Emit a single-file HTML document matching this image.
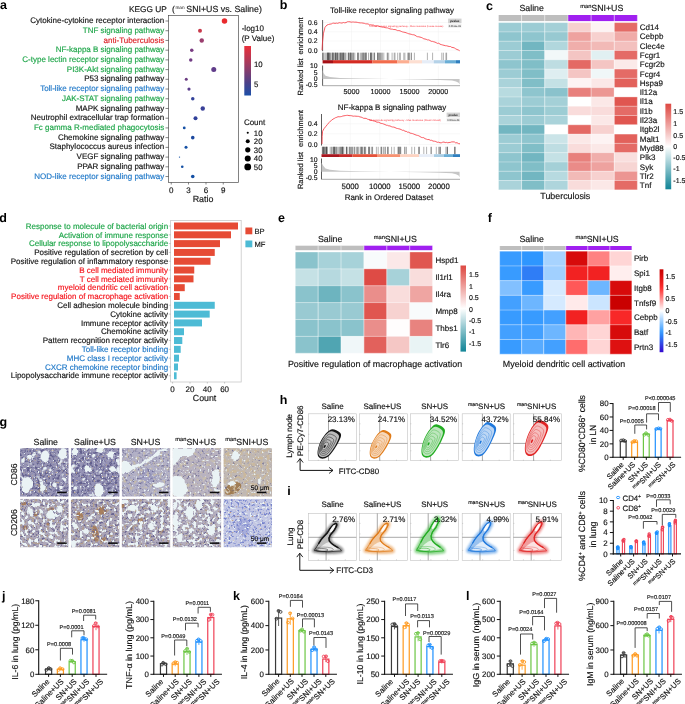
<!DOCTYPE html>
<html lang="en"><head><meta charset="utf-8"><title>Figure</title>
<style>
html,body{margin:0;padding:0;background:#fff;}
body{width:685px;height:704px;overflow:hidden;}
svg{display:block;will-change:transform;opacity:0.9999;font-family:'Liberation Sans', sans-serif;}
svg text{font-family:'Liberation Sans',sans-serif;text-rendering:geometricPrecision;stroke-width:0.16px;}
</style></head><body>
<svg width="685" height="704" viewBox="0 0 685 704">
<rect width="685" height="704" fill="#ffffff"/>
<text x="0.10" y="9.05" font-size="12.5" font-weight="bold" fill="#000">a</text>
<text x="129.00" y="11.90" font-size="8.3" fill="#141414" stroke="#141414">KEGG UP</text>
<text x="172.10" y="11.90" font-size="8.6" fill="#141414" stroke="#141414">(</text>
<text x="175.40" y="8.90" font-size="4.7" fill="#141414">man</text>
<text x="186.30" y="11.90" font-size="8.8" fill="#141414" stroke="#141414">SNI+US vs. Saline)</text>
<rect x="168.50" y="15.35" width="70.00" height="167.20" fill="none" stroke="#4d4d4d" stroke-width="0.7"/>
<text x="164.20" y="23.10" font-size="8" text-anchor="end" fill="#141414" stroke="#141414">Cytokine-cytokine receptor interaction</text>
<line x1="165.50" y1="21.00" x2="168.50" y2="21.00" stroke="#333" stroke-width="0.6"/>
<circle cx="224.50" cy="21.00" r="2.75" fill="#e92a2e"/>
<text x="164.20" y="32.82" font-size="8" text-anchor="end" fill="#1fa64a" stroke="#1fa64a">TNF signaling pathway</text>
<line x1="165.50" y1="30.72" x2="168.50" y2="30.72" stroke="#333" stroke-width="0.6"/>
<circle cx="200.00" cy="30.72" r="2.00" fill="#c93a4c"/>
<text x="164.20" y="42.54" font-size="8" text-anchor="end" fill="#dc2228" stroke="#dc2228">anti-Tuberculosis</text>
<line x1="165.50" y1="40.44" x2="168.50" y2="40.44" stroke="#333" stroke-width="0.6"/>
<circle cx="201.75" cy="40.44" r="2.20" fill="#9a3e6e"/>
<text x="164.20" y="52.26" font-size="8" text-anchor="end" fill="#1fa64a" stroke="#1fa64a">NF-kappa B signaling pathway</text>
<line x1="165.50" y1="50.16" x2="168.50" y2="50.16" stroke="#333" stroke-width="0.6"/>
<circle cx="191.75" cy="50.16" r="1.75" fill="#793c82"/>
<text x="164.20" y="61.98" font-size="8" text-anchor="end" fill="#1fa64a" stroke="#1fa64a">C-type lectin receptor signaling pathway</text>
<line x1="165.50" y1="59.88" x2="168.50" y2="59.88" stroke="#333" stroke-width="0.6"/>
<circle cx="190.75" cy="59.88" r="1.75" fill="#713c84"/>
<text x="164.20" y="71.70" font-size="8" text-anchor="end" fill="#1fa64a" stroke="#1fa64a">PI3K-Akt signaling pathway</text>
<line x1="165.50" y1="69.60" x2="168.50" y2="69.60" stroke="#333" stroke-width="0.6"/>
<circle cx="213.75" cy="69.60" r="2.50" fill="#603c8a"/>
<text x="164.20" y="81.42" font-size="8" text-anchor="end" fill="#141414" stroke="#141414">P53 signaling pathway</text>
<line x1="165.50" y1="79.32" x2="168.50" y2="79.32" stroke="#333" stroke-width="0.6"/>
<circle cx="186.25" cy="79.32" r="1.50" fill="#6c3c82"/>
<text x="164.20" y="91.14" font-size="8" text-anchor="end" fill="#1f78c8" stroke="#1f78c8">Toll-like receptor signaling pathway</text>
<line x1="165.50" y1="89.04" x2="168.50" y2="89.04" stroke="#333" stroke-width="0.6"/>
<circle cx="189.00" cy="89.04" r="1.60" fill="#5a3c8a"/>
<text x="164.20" y="100.86" font-size="8" text-anchor="end" fill="#1fa64a" stroke="#1fa64a">JAK-STAT signaling pathway</text>
<line x1="165.50" y1="98.76" x2="168.50" y2="98.76" stroke="#333" stroke-width="0.6"/>
<circle cx="192.75" cy="98.76" r="1.75" fill="#33429a"/>
<text x="164.20" y="110.58" font-size="8" text-anchor="end" fill="#141414" stroke="#141414">MAPK signaling pathway</text>
<line x1="165.50" y1="108.48" x2="168.50" y2="108.48" stroke="#333" stroke-width="0.6"/>
<circle cx="202.75" cy="108.48" r="2.20" fill="#3a4098"/>
<text x="164.20" y="120.30" font-size="8" text-anchor="end" fill="#141414" stroke="#141414">Neutrophil extracellular trap formation</text>
<line x1="165.50" y1="118.20" x2="168.50" y2="118.20" stroke="#333" stroke-width="0.6"/>
<circle cx="195.50" cy="118.20" r="2.00" fill="#30409a"/>
<text x="164.20" y="130.02" font-size="8" text-anchor="end" fill="#1fa64a" stroke="#1fa64a">Fc gamma R-mediated phagocytosis</text>
<line x1="165.50" y1="127.92" x2="168.50" y2="127.92" stroke="#333" stroke-width="0.6"/>
<circle cx="184.25" cy="127.92" r="1.40" fill="#1450a4"/>
<text x="164.20" y="139.74" font-size="8" text-anchor="end" fill="#141414" stroke="#141414">Chemokine signaling pathway</text>
<line x1="165.50" y1="137.64" x2="168.50" y2="137.64" stroke="#333" stroke-width="0.6"/>
<circle cx="192.75" cy="137.64" r="1.80" fill="#1c489e"/>
<text x="164.20" y="149.46" font-size="8" text-anchor="end" fill="#141414" stroke="#141414">Staphylococcus aureus infection</text>
<line x1="165.50" y1="147.36" x2="168.50" y2="147.36" stroke="#333" stroke-width="0.6"/>
<circle cx="186.00" cy="147.36" r="1.50" fill="#1450a4"/>
<text x="164.20" y="159.18" font-size="8" text-anchor="end" fill="#141414" stroke="#141414">VEGF signaling pathway</text>
<line x1="165.50" y1="157.08" x2="168.50" y2="157.08" stroke="#333" stroke-width="0.6"/>
<circle cx="179.50" cy="157.08" r="0.70" fill="#1450a4"/>
<text x="164.20" y="168.90" font-size="8" text-anchor="end" fill="#141414" stroke="#141414">PPAR signaling pathway</text>
<line x1="165.50" y1="166.80" x2="168.50" y2="166.80" stroke="#333" stroke-width="0.6"/>
<circle cx="182.25" cy="166.80" r="1.30" fill="#1450a4"/>
<text x="164.20" y="178.62" font-size="8" text-anchor="end" fill="#1f78c8" stroke="#1f78c8">NOD-like receptor signaling pathway</text>
<line x1="165.50" y1="176.52" x2="168.50" y2="176.52" stroke="#333" stroke-width="0.6"/>
<circle cx="192.75" cy="176.52" r="1.80" fill="#1450a4"/>
<line x1="171.25" y1="182.50" x2="171.25" y2="184.50" stroke="#333" stroke-width="0.6"/>
<text x="171.25" y="193.20" font-size="8" text-anchor="middle" fill="#141414" stroke="#141414">0</text>
<line x1="188.50" y1="182.50" x2="188.50" y2="184.50" stroke="#333" stroke-width="0.6"/>
<text x="188.50" y="193.20" font-size="8" text-anchor="middle" fill="#141414" stroke="#141414">3</text>
<line x1="206.00" y1="182.50" x2="206.00" y2="184.50" stroke="#333" stroke-width="0.6"/>
<text x="206.00" y="193.20" font-size="8" text-anchor="middle" fill="#141414" stroke="#141414">6</text>
<line x1="223.25" y1="182.50" x2="223.25" y2="184.50" stroke="#333" stroke-width="0.6"/>
<text x="223.25" y="193.20" font-size="8" text-anchor="middle" fill="#141414" stroke="#141414">9</text>
<text x="203.00" y="201.50" font-size="8.9" text-anchor="middle" fill="#141414" stroke="#141414">Ratio</text>
<text x="241.70" y="30.50" font-size="8.0" fill="#141414" stroke="#141414">-log10</text>
<text x="241.70" y="40.50" font-size="8.0" fill="#141414" stroke="#141414">(P Value)</text>
<defs><linearGradient id="ga" x1="0" y1="0" x2="0" y2="1"><stop offset="0" stop-color="#ea2f3a"/><stop offset="0.35" stop-color="#a53a5e"/><stop offset="0.75" stop-color="#4b4189"/><stop offset="1" stop-color="#1c4fa8"/></linearGradient></defs>
<rect x="244.30" y="46.00" width="6.70" height="49.50" fill="url(#ga)"/>
<text x="254.00" y="66.60" font-size="7.8" fill="#141414" stroke="#141414">10</text>
<text x="254.00" y="87.10" font-size="7.8" fill="#141414" stroke="#141414">5</text>
<text x="243.90" y="124.60" font-size="8.0" fill="#141414" stroke="#141414">Count</text>
<circle cx="247.75" cy="132.70" r="1.05" fill="#000"/>
<text x="253.80" y="135.50" font-size="7.8" fill="#141414" stroke="#141414">10</text>
<circle cx="247.75" cy="141.30" r="2.00" fill="#000"/>
<text x="253.80" y="144.10" font-size="7.8" fill="#141414" stroke="#141414">20</text>
<circle cx="247.75" cy="149.80" r="2.60" fill="#000"/>
<text x="253.80" y="152.60" font-size="7.8" fill="#141414" stroke="#141414">30</text>
<circle cx="247.75" cy="158.50" r="3.00" fill="#000"/>
<text x="253.80" y="161.30" font-size="7.8" fill="#141414" stroke="#141414">40</text>
<circle cx="247.75" cy="166.90" r="3.40" fill="#000"/>
<text x="253.80" y="169.70" font-size="7.8" fill="#141414" stroke="#141414">50</text>
<text x="279.70" y="9.05" font-size="12.5" font-weight="bold" fill="#000">b</text>
<text x="392.00" y="13.00" font-size="8" text-anchor="middle" fill="#141414" stroke="#141414">Toll-like receptor signaling pathway</text>
<line x1="351.54" y1="20.00" x2="351.54" y2="51.20" stroke="#f1f1f1" stroke-width="0.5"/>
<line x1="351.54" y1="65.50" x2="351.54" y2="85.70" stroke="#f1f1f1" stroke-width="0.5"/>
<line x1="380.47" y1="20.00" x2="380.47" y2="51.20" stroke="#f1f1f1" stroke-width="0.5"/>
<line x1="380.47" y1="65.50" x2="380.47" y2="85.70" stroke="#f1f1f1" stroke-width="0.5"/>
<line x1="409.41" y1="20.00" x2="409.41" y2="51.20" stroke="#f1f1f1" stroke-width="0.5"/>
<line x1="409.41" y1="65.50" x2="409.41" y2="85.70" stroke="#f1f1f1" stroke-width="0.5"/>
<line x1="438.34" y1="20.00" x2="438.34" y2="51.20" stroke="#f1f1f1" stroke-width="0.5"/>
<line x1="438.34" y1="65.50" x2="438.34" y2="85.70" stroke="#f1f1f1" stroke-width="0.5"/>
<line x1="322.60" y1="22.50" x2="460.00" y2="22.50" stroke="#f1f1f1" stroke-width="0.5"/>
<text x="317.50" y="24.90" font-size="6.8" text-anchor="end" fill="#141414" stroke="#141414">0.6</text>
<line x1="322.60" y1="31.75" x2="460.00" y2="31.75" stroke="#f1f1f1" stroke-width="0.5"/>
<text x="317.50" y="34.15" font-size="6.8" text-anchor="end" fill="#141414" stroke="#141414">0.4</text>
<line x1="322.60" y1="41.00" x2="460.00" y2="41.00" stroke="#f1f1f1" stroke-width="0.5"/>
<text x="317.50" y="43.40" font-size="6.8" text-anchor="end" fill="#141414" stroke="#141414">0.2</text>
<line x1="322.60" y1="50.25" x2="460.00" y2="50.25" stroke="#f1f1f1" stroke-width="0.5"/>
<text x="317.50" y="52.65" font-size="6.8" text-anchor="end" fill="#141414" stroke="#141414">0.0</text>
<line x1="322.60" y1="20.00" x2="322.60" y2="51.20" stroke="#333" stroke-width="0.8"/>
<polyline points="322.0,50.2 322.5,42.2 323.5,33.2 325.0,27.3 327.0,25.0 328.5,24.5 330.0,24.1 331.2,24.0 332.5,23.3 333.8,23.1 335.0,23.4 336.4,23.1 337.8,23.3 339.2,22.7 340.6,22.9 342.0,23.1 343.3,22.5 344.7,22.8 346.0,22.6 347.3,21.8 348.7,21.7 350.0,21.8 351.2,22.2 352.4,22.0 353.6,22.0 354.8,22.2 356.0,22.1 357.4,22.4 358.8,22.7 360.2,22.9 361.6,22.9 363.0,23.1 364.3,23.3 365.6,23.8 366.9,23.9 368.1,23.9 369.4,24.8 370.7,24.8 372.0,25.1 373.3,25.0 374.6,25.8 375.9,26.0 377.2,25.7 378.5,26.1 379.8,26.6 381.1,26.8 382.4,27.2 383.7,27.1 385.0,27.6 386.2,27.8 387.5,27.9 388.8,28.4 390.0,28.9 391.2,29.1 392.5,29.2 393.8,29.6 395.0,29.5 396.2,29.9 397.5,30.6 398.8,30.6 400.0,30.8 401.2,31.4 402.5,31.9 403.8,32.2 405.0,32.4 406.2,32.8 407.5,33.3 408.8,33.8 410.0,34.0 411.2,34.3 412.5,34.7 413.8,34.8 415.0,35.2 416.2,36.1 417.5,36.7 418.8,36.8 420.0,37.1 421.2,37.4 422.5,38.0 423.8,38.8 425.0,39.0 426.2,39.3 427.5,39.9 428.8,39.9 430.0,40.5 431.2,41.3 432.5,41.4 433.8,41.8 435.0,42.1 436.2,42.7 437.5,43.4 438.8,43.2 440.0,44.2 441.3,44.6 442.7,45.0 444.0,45.3 445.3,45.7 446.7,45.8 448.0,46.2 449.2,46.5 450.5,46.5 451.8,47.4 453.0,47.5 454.3,47.9 455.7,48.8 457.0,49.5 458.4,50.0 459.7,50.8" fill="none" stroke="#f8333c" stroke-width="0.8" stroke-linejoin="round"/>
<text x="369.00" y="26.90" font-size="2.5" fill="#f8333c">Toll-like receptor signaling pathway - Mus musculus (house mouse)</text>
<rect x="448.10" y="18.60" width="13.40" height="4.60" fill="#d2d2d2"/>
<text x="454.80" y="22.10" font-size="3.0" text-anchor="middle" font-weight="bold" fill="#222">pvalue</text>
<rect x="448.10" y="23.90" width="13.40" height="3.90" fill="#f1f1f1"/>
<text x="454.80" y="26.90" font-size="2.4" text-anchor="middle" fill="#222">0.0012e-09</text>
<path d="M322.5 52.7V60.2M323.0 52.7V60.2M323.0 52.7V60.2M324.0 52.7V60.2M325.3 52.7V60.2M327.0 52.7V60.2M327.1 52.7V60.2M327.6 52.7V60.2M327.6 52.7V60.2M328.2 52.7V60.2M328.5 52.7V60.2M328.8 52.7V60.2M328.9 52.7V60.2M329.2 52.7V60.2M329.6 52.7V60.2M330.7 52.7V60.2M330.9 52.7V60.2M332.2 52.7V60.2M332.6 52.7V60.2M332.8 52.7V60.2M333.0 52.7V60.2M333.6 52.7V60.2M334.2 52.7V60.2M335.3 52.7V60.2M335.3 52.7V60.2M335.7 52.7V60.2M335.8 52.7V60.2M336.4 52.7V60.2M336.9 52.7V60.2M337.5 52.7V60.2M337.6 52.7V60.2M338.1 52.7V60.2M339.1 52.7V60.2M339.9 52.7V60.2M340.4 52.7V60.2M340.4 52.7V60.2M341.2 52.7V60.2M341.3 52.7V60.2M342.0 52.7V60.2M342.4 52.7V60.2M342.6 52.7V60.2M343.5 52.7V60.2M343.5 52.7V60.2M343.8 52.7V60.2M344.3 52.7V60.2M345.3 52.7V60.2M346.0 52.7V60.2M348.1 52.7V60.2M348.5 52.7V60.2M348.6 52.7V60.2M349.4 52.7V60.2M350.2 52.7V60.2M350.4 52.7V60.2M350.8 52.7V60.2M351.1 52.7V60.2M351.3 52.7V60.2M352.5 52.7V60.2M353.2 52.7V60.2M353.6 52.7V60.2M354.8 52.7V60.2M357.5 52.7V60.2M358.0 52.7V60.2M358.1 52.7V60.2M358.8 52.7V60.2M360.6 52.7V60.2M361.5 52.7V60.2M362.6 52.7V60.2M362.9 52.7V60.2M363.4 52.7V60.2M364.1 52.7V60.2M364.3 52.7V60.2M365.8 52.7V60.2M365.9 52.7V60.2M366.0 52.7V60.2M366.0 52.7V60.2M368.5 52.7V60.2M370.4 52.7V60.2M370.6 52.7V60.2M370.9 52.7V60.2M371.2 52.7V60.2M371.8 52.7V60.2M371.9 52.7V60.2M373.9 52.7V60.2M374.3 52.7V60.2M374.6 52.7V60.2M377.5 52.7V60.2M377.5 52.7V60.2M378.3 52.7V60.2M378.7 52.7V60.2M379.7 52.7V60.2M379.9 52.7V60.2M380.6 52.7V60.2M381.7 52.7V60.2M382.3 52.7V60.2M383.8 52.7V60.2M387.2 52.7V60.2M387.6 52.7V60.2M388.7 52.7V60.2M392.1 52.7V60.2M394.2 52.7V60.2M395.0 52.7V60.2M397.7 52.7V60.2M399.8 52.7V60.2M400.2 52.7V60.2M403.8 52.7V60.2M404.9 52.7V60.2M407.8 52.7V60.2M408.4 52.7V60.2M408.9 52.7V60.2M409.5 52.7V60.2M411.1 52.7V60.2M411.5 52.7V60.2M414.4 52.7V60.2M427.4 52.7V60.2M432.6 52.7V60.2M441.8 52.7V60.2M443.4 52.7V60.2M445.9 52.7V60.2M446.6 52.7V60.2" stroke="#222" stroke-width="0.35" fill="none"/>
<rect x="322.60" y="60.20" width="10.40" height="3.20" fill="#a50f15"/>
<rect x="333.00" y="60.20" width="39.50" height="3.20" fill="#d42a22"/>
<rect x="372.50" y="60.20" width="25.00" height="3.20" fill="#f26c4c"/>
<rect x="397.50" y="60.20" width="12.00" height="3.20" fill="#fcae91"/>
<rect x="409.50" y="60.20" width="12.50" height="3.20" fill="#fddfd2"/>
<rect x="422.00" y="60.20" width="11.75" height="3.20" fill="#e6edf7"/>
<rect x="433.75" y="60.20" width="11.25" height="3.20" fill="#b5d2e8"/>
<rect x="445.00" y="60.20" width="11.00" height="3.20" fill="#6aaed6"/>
<rect x="456.00" y="60.20" width="4.00" height="3.20" fill="#2f7fbf"/>
<line x1="322.60" y1="65.50" x2="322.60" y2="85.70" stroke="#333" stroke-width="0.8"/>
<line x1="322.60" y1="85.70" x2="460.00" y2="85.70" stroke="#555" stroke-width="0.5"/>
<text x="317.50" y="68.20" font-size="6.8" text-anchor="end" fill="#141414" stroke="#141414">10</text>
<text x="317.50" y="74.90" font-size="6.8" text-anchor="end" fill="#141414" stroke="#141414">5</text>
<text x="317.50" y="81.40" font-size="6.8" text-anchor="end" fill="#141414" stroke="#141414">0</text>
<text x="317.50" y="87.40" font-size="6.8" text-anchor="end" fill="#141414" stroke="#141414">-0.5</text>
<polygon points="322.6,79.0 322.6,69.7 323.4,73.0 325.5,75.8 330.0,77.0 340.0,77.9 360.0,78.5 390.0,79.0 420.0,79.4 440.0,79.9 452.0,80.6 456.0,81.4 458.6,82.8 459.6,84.4 459.6,79.0" fill="#c6c6c6"/>
<text x="351.54" y="94.10" font-size="7.2" text-anchor="middle" fill="#141414" stroke="#141414">5000</text>
<text x="380.47" y="94.10" font-size="7.2" text-anchor="middle" fill="#141414" stroke="#141414">10000</text>
<text x="409.41" y="94.10" font-size="7.2" text-anchor="middle" fill="#141414" stroke="#141414">15000</text>
<text x="438.34" y="94.10" font-size="7.2" text-anchor="middle" fill="#141414" stroke="#141414">20000</text>
<text x="392.00" y="109.80" font-size="8" text-anchor="middle" fill="#141414" stroke="#141414">NF-kappa B signaling pathway</text>
<line x1="350.25" y1="114.00" x2="350.25" y2="145.50" stroke="#f1f1f1" stroke-width="0.5"/>
<line x1="350.25" y1="158.50" x2="350.25" y2="179.30" stroke="#f1f1f1" stroke-width="0.5"/>
<line x1="379.80" y1="114.00" x2="379.80" y2="145.50" stroke="#f1f1f1" stroke-width="0.5"/>
<line x1="379.80" y1="158.50" x2="379.80" y2="179.30" stroke="#f1f1f1" stroke-width="0.5"/>
<line x1="409.35" y1="114.00" x2="409.35" y2="145.50" stroke="#f1f1f1" stroke-width="0.5"/>
<line x1="409.35" y1="158.50" x2="409.35" y2="179.30" stroke="#f1f1f1" stroke-width="0.5"/>
<line x1="438.90" y1="114.00" x2="438.90" y2="145.50" stroke="#f1f1f1" stroke-width="0.5"/>
<line x1="438.90" y1="158.50" x2="438.90" y2="179.30" stroke="#f1f1f1" stroke-width="0.5"/>
<line x1="321.50" y1="123.75" x2="460.00" y2="123.75" stroke="#f1f1f1" stroke-width="0.5"/>
<text x="317.50" y="126.15" font-size="6.8" text-anchor="end" fill="#141414" stroke="#141414">0.4</text>
<line x1="321.50" y1="133.75" x2="460.00" y2="133.75" stroke="#f1f1f1" stroke-width="0.5"/>
<text x="317.50" y="136.15" font-size="6.8" text-anchor="end" fill="#141414" stroke="#141414">0.2</text>
<line x1="321.50" y1="144.50" x2="460.00" y2="144.50" stroke="#f1f1f1" stroke-width="0.5"/>
<text x="317.50" y="146.90" font-size="6.8" text-anchor="end" fill="#141414" stroke="#141414">0.0</text>
<line x1="321.50" y1="114.00" x2="321.50" y2="145.50" stroke="#333" stroke-width="0.8"/>
<polyline points="322.0,144.0 322.2,136.3 322.6,131.2 324.0,128.7 326.0,126.2 327.5,124.4 329.0,122.6 330.3,121.2 331.7,120.2 333.0,119.1 334.2,118.5 335.5,117.7 336.8,117.3 338.0,116.7 339.2,116.8 340.4,116.7 341.6,116.5 342.8,116.0 344.0,115.8 345.2,115.6 346.5,115.4 347.8,115.3 349.0,115.6 350.4,115.6 351.8,115.8 353.2,116.2 354.6,116.1 356.0,116.2 357.3,116.3 358.6,116.4 359.9,116.9 361.1,117.1 362.4,117.6 363.7,118.3 365.0,118.3 366.2,118.4 367.5,119.2 368.8,119.5 370.0,119.9 371.2,120.4 372.5,120.6 373.8,121.0 375.0,121.1 376.2,121.9 377.5,122.3 378.8,122.2 380.0,123.0 381.2,123.4 382.5,123.6 383.8,124.1 385.0,124.5 386.2,125.2 387.5,125.3 388.8,125.9 390.0,125.9 391.2,126.6 392.5,127.0 393.8,127.1 395.0,127.5 396.2,128.2 397.5,128.5 398.8,128.8 400.0,129.1 401.2,129.6 402.5,130.3 403.8,130.3 405.0,131.3 406.2,131.3 407.5,132.2 408.8,132.2 410.0,133.1 411.2,133.3 412.5,133.6 413.8,134.1 415.0,134.6 416.2,135.1 417.5,135.4 418.8,135.8 420.0,136.5 421.2,137.3 422.5,137.6 423.8,137.7 425.0,138.7 426.3,139.1 427.7,139.6 429.0,139.5 430.3,140.3 431.7,140.3 433.0,141.1 434.4,141.2 435.8,141.5 437.2,142.3 438.6,142.2 440.0,142.8 441.3,142.8 442.7,142.2 444.0,142.0 445.2,142.6 446.5,142.4 447.8,142.8 449.0,142.5 450.3,142.4 451.7,141.9 453.0,141.9 454.3,141.9 455.7,142.9 457.0,142.7 458.5,143.6 460.0,143.8" fill="none" stroke="#f8333c" stroke-width="0.8" stroke-linejoin="round"/>
<text x="369.00" y="120.90" font-size="2.6" fill="#f8333c">NF-kappa B signaling pathway - Mus musculus (house mouse)</text>
<rect x="446.60" y="112.60" width="13.40" height="4.60" fill="#d2d2d2"/>
<text x="453.30" y="116.10" font-size="3.0" text-anchor="middle" font-weight="bold" fill="#222">pvalue</text>
<rect x="446.60" y="117.90" width="13.40" height="3.90" fill="#f1f1f1"/>
<text x="453.30" y="120.90" font-size="2.4" text-anchor="middle" fill="#222">0.0012e-09</text>
<path d="M322.3 146.8V154.2M322.6 146.8V154.2M322.9 146.8V154.2M323.5 146.8V154.2M323.8 146.8V154.2M323.8 146.8V154.2M324.2 146.8V154.2M324.7 146.8V154.2M325.4 146.8V154.2M326.1 146.8V154.2M326.3 146.8V154.2M326.4 146.8V154.2M326.9 146.8V154.2M326.9 146.8V154.2M327.1 146.8V154.2M330.2 146.8V154.2M331.4 146.8V154.2M332.1 146.8V154.2M333.2 146.8V154.2M333.5 146.8V154.2M334.0 146.8V154.2M334.1 146.8V154.2M334.6 146.8V154.2M334.7 146.8V154.2M335.2 146.8V154.2M336.2 146.8V154.2M336.3 146.8V154.2M337.3 146.8V154.2M338.7 146.8V154.2M339.9 146.8V154.2M340.0 146.8V154.2M340.6 146.8V154.2M341.7 146.8V154.2M341.8 146.8V154.2M342.0 146.8V154.2M342.6 146.8V154.2M342.7 146.8V154.2M342.9 146.8V154.2M343.8 146.8V154.2M346.3 146.8V154.2M346.5 146.8V154.2M346.6 146.8V154.2M347.3 146.8V154.2M349.2 146.8V154.2M349.5 146.8V154.2M350.4 146.8V154.2M351.0 146.8V154.2M351.6 146.8V154.2M352.7 146.8V154.2M352.9 146.8V154.2M354.6 146.8V154.2M354.8 146.8V154.2M356.5 146.8V154.2M357.6 146.8V154.2M357.9 146.8V154.2M358.9 146.8V154.2M360.9 146.8V154.2M361.1 146.8V154.2M361.1 146.8V154.2M361.7 146.8V154.2M362.7 146.8V154.2M362.8 146.8V154.2M364.5 146.8V154.2M364.8 146.8V154.2M365.0 146.8V154.2M365.7 146.8V154.2M368.6 146.8V154.2M368.8 146.8V154.2M369.3 146.8V154.2M369.4 146.8V154.2M371.3 146.8V154.2M372.3 146.8V154.2M372.6 146.8V154.2M376.4 146.8V154.2M378.2 146.8V154.2M380.9 146.8V154.2M381.4 146.8V154.2M381.8 146.8V154.2M383.5 146.8V154.2M384.9 146.8V154.2M385.4 146.8V154.2M387.6 146.8V154.2M388.0 146.8V154.2M388.1 146.8V154.2M391.6 146.8V154.2M394.2 146.8V154.2M398.0 146.8V154.2M398.3 146.8V154.2M399.0 146.8V154.2M399.1 146.8V154.2M400.1 146.8V154.2M400.2 146.8V154.2M400.8 146.8V154.2M404.6 146.8V154.2M405.1 146.8V154.2M406.5 146.8V154.2M411.8 146.8V154.2M414.6 146.8V154.2M418.7 146.8V154.2M419.0 146.8V154.2M419.4 146.8V154.2M423.8 146.8V154.2M426.6 146.8V154.2M430.8 146.8V154.2M431.5 146.8V154.2M436.3 146.8V154.2M438.8 146.8V154.2M439.3 146.8V154.2M440.3 146.8V154.2M440.4 146.8V154.2M445.9 146.8V154.2M447.2 146.8V154.2M447.3 146.8V154.2M447.5 146.8V154.2M454.5 146.8V154.2M454.7 146.8V154.2M455.4 146.8V154.2" stroke="#222" stroke-width="0.35" fill="none"/>
<rect x="321.50" y="154.20" width="17.50" height="2.80" fill="#a8161e"/>
<rect x="339.00" y="154.20" width="13.50" height="2.80" fill="#c62a28"/>
<rect x="352.50" y="154.20" width="24.50" height="2.80" fill="#e5523a"/>
<rect x="377.00" y="154.20" width="23.00" height="2.80" fill="#f79272"/>
<rect x="400.00" y="154.20" width="19.00" height="2.80" fill="#fdd3c1"/>
<rect x="419.00" y="154.20" width="15.00" height="2.80" fill="#e8eef8"/>
<rect x="434.00" y="154.20" width="10.00" height="2.80" fill="#a9cde4"/>
<rect x="444.00" y="154.20" width="9.00" height="2.80" fill="#6aaed6"/>
<rect x="453.00" y="154.20" width="7.00" height="2.80" fill="#2f7fbf"/>
<line x1="321.50" y1="158.50" x2="321.50" y2="179.30" stroke="#333" stroke-width="0.8"/>
<line x1="321.50" y1="179.30" x2="460.00" y2="179.30" stroke="#555" stroke-width="0.5"/>
<text x="317.50" y="161.70" font-size="6.8" text-anchor="end" fill="#141414" stroke="#141414">10</text>
<text x="317.50" y="167.90" font-size="6.8" text-anchor="end" fill="#141414" stroke="#141414">5</text>
<text x="317.50" y="174.15" font-size="6.8" text-anchor="end" fill="#141414" stroke="#141414">0</text>
<text x="317.50" y="180.40" font-size="6.8" text-anchor="end" fill="#141414" stroke="#141414">-0.5</text>
<polygon points="321.5,171.8 321.5,162.7 323.4,166.0 325.5,168.6 330.0,169.8 340.0,170.7 360.0,171.2 390.0,171.8 420.0,172.2 440.0,172.7 452.0,173.3 456.0,174.2 458.6,175.6 459.6,177.2 459.6,171.8" fill="#c6c6c6"/>
<text x="350.25" y="189.20" font-size="7.8" text-anchor="middle" fill="#141414" stroke="#141414">5000</text>
<text x="379.80" y="189.20" font-size="7.8" text-anchor="middle" fill="#141414" stroke="#141414">10000</text>
<text x="409.35" y="189.20" font-size="7.8" text-anchor="middle" fill="#141414" stroke="#141414">15000</text>
<text x="438.90" y="189.20" font-size="7.8" text-anchor="middle" fill="#141414" stroke="#141414">20000</text>
<text x="302.60" y="36.00" font-size="7.5" text-anchor="middle" transform="rotate(-90 302.60 36.00)" fill="#141414" stroke="#141414">enrichment</text>
<text x="302.60" y="76.90" font-size="7.5" text-anchor="middle" transform="rotate(-90 302.60 76.90)" fill="#141414" stroke="#141414">Ranked list</text>
<text x="302.60" y="128.40" font-size="7.5" text-anchor="middle" transform="rotate(-90 302.60 128.40)" fill="#141414" stroke="#141414">enrichment</text>
<text x="302.60" y="170.50" font-size="7.5" text-anchor="middle" transform="rotate(-90 302.60 170.50)" fill="#141414" stroke="#141414">Ranked list</text>
<text x="388.90" y="199.50" font-size="8" text-anchor="middle" fill="#141414" stroke="#141414">Rank in Ordered Dataset</text>
<text x="486.00" y="9.90" font-size="12.5" font-weight="bold" fill="#000">c</text>
<rect x="498.40" y="15.00" width="23.22" height="6.10" fill="#bebebe"/>
<rect x="521.57" y="15.00" width="23.22" height="6.10" fill="#bebebe"/>
<rect x="544.74" y="15.00" width="23.22" height="6.10" fill="#bebebe"/>
<rect x="567.91" y="15.00" width="23.22" height="6.10" fill="#a020f0"/>
<rect x="591.08" y="15.00" width="23.22" height="6.10" fill="#a020f0"/>
<rect x="614.25" y="15.00" width="23.22" height="6.10" fill="#a020f0"/>
<rect x="498.40" y="22.60" width="23.22" height="9.34" fill="#9cccd4"/>
<rect x="521.57" y="22.60" width="23.22" height="9.34" fill="#9cccd4"/>
<rect x="544.74" y="22.60" width="23.22" height="9.34" fill="#a4d0d7"/>
<rect x="567.91" y="22.60" width="23.22" height="9.34" fill="#f7d1cf"/>
<rect x="591.08" y="22.60" width="23.22" height="9.34" fill="#fdf3f3"/>
<rect x="614.25" y="22.60" width="23.22" height="9.34" fill="#e46b66"/>
<text x="639.80" y="30.14" font-size="8" fill="#141414" stroke="#141414">Cd14</text>
<rect x="498.40" y="31.89" width="23.22" height="9.34" fill="#8ec5ce"/>
<rect x="521.57" y="31.89" width="23.22" height="9.34" fill="#8ec5ce"/>
<rect x="544.74" y="31.89" width="23.22" height="9.34" fill="#97c9d1"/>
<rect x="567.91" y="31.89" width="23.22" height="9.34" fill="#eea29f"/>
<rect x="591.08" y="31.89" width="23.22" height="9.34" fill="#f7d1cf"/>
<rect x="614.25" y="31.89" width="23.22" height="9.34" fill="#f0aba8"/>
<text x="639.80" y="39.43" font-size="8" fill="#141414" stroke="#141414">Cebpb</text>
<rect x="498.40" y="41.18" width="23.22" height="9.34" fill="#9cccd4"/>
<rect x="521.57" y="41.18" width="23.22" height="9.34" fill="#72b6c1"/>
<rect x="544.74" y="41.18" width="23.22" height="9.34" fill="#b1d7dd"/>
<rect x="567.91" y="41.18" width="23.22" height="9.34" fill="#f0aeab"/>
<rect x="591.08" y="41.18" width="23.22" height="9.34" fill="#f2bab7"/>
<rect x="614.25" y="41.18" width="23.22" height="9.34" fill="#f3c0be"/>
<text x="639.80" y="48.73" font-size="8" fill="#141414" stroke="#141414">Clec4e</text>
<rect x="498.40" y="50.47" width="23.22" height="9.34" fill="#9cccd4"/>
<rect x="521.57" y="50.47" width="23.22" height="9.34" fill="#80bec7"/>
<rect x="544.74" y="50.47" width="23.22" height="9.34" fill="#f2f8f9"/>
<rect x="567.91" y="50.47" width="23.22" height="9.34" fill="#f4c5c3"/>
<rect x="591.08" y="50.47" width="23.22" height="9.34" fill="#e1f0f2"/>
<rect x="614.25" y="50.47" width="23.22" height="9.34" fill="#e46b66"/>
<text x="639.80" y="58.01" font-size="8" fill="#141414" stroke="#141414">Fcgr1</text>
<rect x="498.40" y="59.76" width="23.22" height="9.34" fill="#8ec5ce"/>
<rect x="521.57" y="59.76" width="23.22" height="9.34" fill="#80bec7"/>
<rect x="544.74" y="59.76" width="23.22" height="9.34" fill="#bedde2"/>
<rect x="567.91" y="59.76" width="23.22" height="9.34" fill="#e46964"/>
<rect x="591.08" y="59.76" width="23.22" height="9.34" fill="#f4c5c3"/>
<rect x="614.25" y="59.76" width="23.22" height="9.34" fill="#fbeae9"/>
<text x="639.80" y="67.31" font-size="8" fill="#141414" stroke="#141414">Fcgr2b</text>
<rect x="498.40" y="69.05" width="23.22" height="9.34" fill="#9cccd4"/>
<rect x="521.57" y="69.05" width="23.22" height="9.34" fill="#80bec7"/>
<rect x="544.74" y="69.05" width="23.22" height="9.34" fill="#deeef1"/>
<rect x="567.91" y="69.05" width="23.22" height="9.34" fill="#f4c5c3"/>
<rect x="591.08" y="69.05" width="23.22" height="9.34" fill="#f0f7f8"/>
<rect x="614.25" y="69.05" width="23.22" height="9.34" fill="#e46b66"/>
<text x="639.80" y="76.59" font-size="8" fill="#141414" stroke="#141414">Fcgr4</text>
<rect x="498.40" y="78.34" width="23.22" height="9.34" fill="#aad3da"/>
<rect x="521.57" y="78.34" width="23.22" height="9.34" fill="#80bec7"/>
<rect x="544.74" y="78.34" width="23.22" height="9.34" fill="#c4e1e5"/>
<rect x="567.91" y="78.34" width="23.22" height="9.34" fill="#fdf3f3"/>
<rect x="591.08" y="78.34" width="23.22" height="9.34" fill="#fbe8e7"/>
<rect x="614.25" y="78.34" width="23.22" height="9.34" fill="#e2615b"/>
<text x="639.80" y="85.89" font-size="8" fill="#141414" stroke="#141414">Hspa9</text>
<rect x="498.40" y="87.63" width="23.22" height="9.34" fill="#b8dbe0"/>
<rect x="521.57" y="87.63" width="23.22" height="9.34" fill="#8ec5ce"/>
<rect x="544.74" y="87.63" width="23.22" height="9.34" fill="#8ac2cc"/>
<rect x="567.91" y="87.63" width="23.22" height="9.34" fill="#e8807c"/>
<rect x="591.08" y="87.63" width="23.22" height="9.34" fill="#ec9793"/>
<rect x="614.25" y="87.63" width="23.22" height="9.34" fill="#ffffff"/>
<text x="639.80" y="95.17" font-size="8" fill="#141414" stroke="#141414">Il12a</text>
<rect x="498.40" y="96.92" width="23.22" height="9.34" fill="#aad3da"/>
<rect x="521.57" y="96.92" width="23.22" height="9.34" fill="#9cccd4"/>
<rect x="544.74" y="96.92" width="23.22" height="9.34" fill="#a4d0d7"/>
<rect x="567.91" y="96.92" width="23.22" height="9.34" fill="#ffffff"/>
<rect x="591.08" y="96.92" width="23.22" height="9.34" fill="#fbe8e7"/>
<rect x="614.25" y="96.92" width="23.22" height="9.34" fill="#e05650"/>
<text x="639.80" y="104.46" font-size="8" fill="#141414" stroke="#141414">Il1a</text>
<rect x="498.40" y="106.21" width="23.22" height="9.34" fill="#9cccd4"/>
<rect x="521.57" y="106.21" width="23.22" height="9.34" fill="#8ec5ce"/>
<rect x="544.74" y="106.21" width="23.22" height="9.34" fill="#9dcdd4"/>
<rect x="567.91" y="106.21" width="23.22" height="9.34" fill="#f9dcdb"/>
<rect x="591.08" y="106.21" width="23.22" height="9.34" fill="#f9dcdb"/>
<rect x="614.25" y="106.21" width="23.22" height="9.34" fill="#e46b66"/>
<text x="639.80" y="113.75" font-size="8" fill="#141414" stroke="#141414">Il1b</text>
<rect x="498.40" y="115.50" width="23.22" height="9.34" fill="#aad3da"/>
<rect x="521.57" y="115.50" width="23.22" height="9.34" fill="#9cccd4"/>
<rect x="544.74" y="115.50" width="23.22" height="9.34" fill="#aad3da"/>
<rect x="567.91" y="115.50" width="23.22" height="9.34" fill="#ffffff"/>
<rect x="591.08" y="115.50" width="23.22" height="9.34" fill="#fbe8e7"/>
<rect x="614.25" y="115.50" width="23.22" height="9.34" fill="#e05650"/>
<text x="639.80" y="123.05" font-size="8" fill="#141414" stroke="#141414">Il23a</text>
<rect x="498.40" y="124.79" width="23.22" height="9.34" fill="#72b6c1"/>
<rect x="521.57" y="124.79" width="23.22" height="9.34" fill="#72b6c1"/>
<rect x="544.74" y="124.79" width="23.22" height="9.34" fill="#ffffff"/>
<rect x="567.91" y="124.79" width="23.22" height="9.34" fill="#e46964"/>
<rect x="591.08" y="124.79" width="23.22" height="9.34" fill="#f7d1cf"/>
<rect x="614.25" y="124.79" width="23.22" height="9.34" fill="#ffffff"/>
<text x="639.80" y="132.34" font-size="8" fill="#141414" stroke="#141414">Itgb2l</text>
<rect x="498.40" y="134.08" width="23.22" height="9.34" fill="#9cccd4"/>
<rect x="521.57" y="134.08" width="23.22" height="9.34" fill="#8ec5ce"/>
<rect x="544.74" y="134.08" width="23.22" height="9.34" fill="#cbe4e8"/>
<rect x="567.91" y="134.08" width="23.22" height="9.34" fill="#fbe8e7"/>
<rect x="591.08" y="134.08" width="23.22" height="9.34" fill="#fdf3f3"/>
<rect x="614.25" y="134.08" width="23.22" height="9.34" fill="#e2615b"/>
<text x="639.80" y="141.62" font-size="8" fill="#141414" stroke="#141414">Malt1</text>
<rect x="498.40" y="143.37" width="23.22" height="9.34" fill="#9cccd4"/>
<rect x="521.57" y="143.37" width="23.22" height="9.34" fill="#80bec7"/>
<rect x="544.74" y="143.37" width="23.22" height="9.34" fill="#bedde2"/>
<rect x="567.91" y="143.37" width="23.22" height="9.34" fill="#f9dcdb"/>
<rect x="591.08" y="143.37" width="23.22" height="9.34" fill="#fbe8e7"/>
<rect x="614.25" y="143.37" width="23.22" height="9.34" fill="#e46b66"/>
<text x="639.80" y="150.91" font-size="8" fill="#141414" stroke="#141414">Myd88</text>
<rect x="498.40" y="152.66" width="23.22" height="9.34" fill="#8ec5ce"/>
<rect x="521.57" y="152.66" width="23.22" height="9.34" fill="#72b6c1"/>
<rect x="544.74" y="152.66" width="23.22" height="9.34" fill="#c4e1e5"/>
<rect x="567.91" y="152.66" width="23.22" height="9.34" fill="#e8807c"/>
<rect x="591.08" y="152.66" width="23.22" height="9.34" fill="#f0aeab"/>
<rect x="614.25" y="152.66" width="23.22" height="9.34" fill="#f9dfde"/>
<text x="639.80" y="160.21" font-size="8" fill="#141414" stroke="#141414">Plk3</text>
<rect x="498.40" y="161.95" width="23.22" height="9.34" fill="#8ec5ce"/>
<rect x="521.57" y="161.95" width="23.22" height="9.34" fill="#80bec7"/>
<rect x="544.74" y="161.95" width="23.22" height="9.34" fill="#a4d0d7"/>
<rect x="567.91" y="161.95" width="23.22" height="9.34" fill="#ea8b88"/>
<rect x="591.08" y="161.95" width="23.22" height="9.34" fill="#eea29f"/>
<rect x="614.25" y="161.95" width="23.22" height="9.34" fill="#f7d5d3"/>
<text x="639.80" y="169.50" font-size="8" fill="#141414" stroke="#141414">Syk</text>
<rect x="498.40" y="171.24" width="23.22" height="9.34" fill="#8ec5ce"/>
<rect x="521.57" y="171.24" width="23.22" height="9.34" fill="#72b6c1"/>
<rect x="544.74" y="171.24" width="23.22" height="9.34" fill="#b7dae0"/>
<rect x="567.91" y="171.24" width="23.22" height="9.34" fill="#f2bab7"/>
<rect x="591.08" y="171.24" width="23.22" height="9.34" fill="#f7d1cf"/>
<rect x="614.25" y="171.24" width="23.22" height="9.34" fill="#ec9592"/>
<text x="639.80" y="178.78" font-size="8" fill="#141414" stroke="#141414">Tlr2</text>
<rect x="498.40" y="180.53" width="23.22" height="9.34" fill="#aad3da"/>
<rect x="521.57" y="180.53" width="23.22" height="9.34" fill="#80bec7"/>
<rect x="544.74" y="180.53" width="23.22" height="9.34" fill="#aed5dc"/>
<rect x="567.91" y="180.53" width="23.22" height="9.34" fill="#f9dcdb"/>
<rect x="591.08" y="180.53" width="23.22" height="9.34" fill="#fbe8e7"/>
<rect x="614.25" y="180.53" width="23.22" height="9.34" fill="#e46b66"/>
<text x="639.80" y="188.07" font-size="8" fill="#141414" stroke="#141414">Tnf</text>
<line x1="498.40" y1="14.80" x2="498.40" y2="190.02" stroke="#fff" stroke-width="0.5"/>
<line x1="521.57" y1="14.80" x2="521.57" y2="190.02" stroke="#fff" stroke-width="0.5"/>
<line x1="544.74" y1="14.80" x2="544.74" y2="190.02" stroke="#fff" stroke-width="0.5"/>
<line x1="567.91" y1="14.80" x2="567.91" y2="190.02" stroke="#fff" stroke-width="0.5"/>
<line x1="591.08" y1="14.80" x2="591.08" y2="190.02" stroke="#fff" stroke-width="0.5"/>
<line x1="614.25" y1="14.80" x2="614.25" y2="190.02" stroke="#fff" stroke-width="0.5"/>
<line x1="637.42" y1="14.80" x2="637.42" y2="190.02" stroke="#fff" stroke-width="0.5"/>
<line x1="498.40" y1="22.60" x2="637.42" y2="22.60" stroke="#fff" stroke-width="0.35"/>
<line x1="498.40" y1="31.89" x2="637.42" y2="31.89" stroke="#fff" stroke-width="0.35"/>
<line x1="498.40" y1="41.18" x2="637.42" y2="41.18" stroke="#fff" stroke-width="0.35"/>
<line x1="498.40" y1="50.47" x2="637.42" y2="50.47" stroke="#fff" stroke-width="0.35"/>
<line x1="498.40" y1="59.76" x2="637.42" y2="59.76" stroke="#fff" stroke-width="0.35"/>
<line x1="498.40" y1="69.05" x2="637.42" y2="69.05" stroke="#fff" stroke-width="0.35"/>
<line x1="498.40" y1="78.34" x2="637.42" y2="78.34" stroke="#fff" stroke-width="0.35"/>
<line x1="498.40" y1="87.63" x2="637.42" y2="87.63" stroke="#fff" stroke-width="0.35"/>
<line x1="498.40" y1="96.92" x2="637.42" y2="96.92" stroke="#fff" stroke-width="0.35"/>
<line x1="498.40" y1="106.21" x2="637.42" y2="106.21" stroke="#fff" stroke-width="0.35"/>
<line x1="498.40" y1="115.50" x2="637.42" y2="115.50" stroke="#fff" stroke-width="0.35"/>
<line x1="498.40" y1="124.79" x2="637.42" y2="124.79" stroke="#fff" stroke-width="0.35"/>
<line x1="498.40" y1="134.08" x2="637.42" y2="134.08" stroke="#fff" stroke-width="0.35"/>
<line x1="498.40" y1="143.37" x2="637.42" y2="143.37" stroke="#fff" stroke-width="0.35"/>
<line x1="498.40" y1="152.66" x2="637.42" y2="152.66" stroke="#fff" stroke-width="0.35"/>
<line x1="498.40" y1="161.95" x2="637.42" y2="161.95" stroke="#fff" stroke-width="0.35"/>
<line x1="498.40" y1="171.24" x2="637.42" y2="171.24" stroke="#fff" stroke-width="0.35"/>
<line x1="498.40" y1="180.53" x2="637.42" y2="180.53" stroke="#fff" stroke-width="0.35"/>
<line x1="498.40" y1="189.82" x2="637.42" y2="189.82" stroke="#fff" stroke-width="0.35"/>
<text x="531.70" y="10.80" font-size="8.8" text-anchor="middle" fill="#141414" stroke="#141414">Saline</text>
<text x="580.20" y="10.80" font-size="8.8" fill="#141414" stroke="#141414"><tspan font-size="5.72" dy="-3.17">man</tspan><tspan dy="3.17">SNI+US</tspan></text>
<defs><linearGradient id="gc" x1="0" y1="0" x2="0" y2="1"><stop offset="0.00" stop-color="#de4a44"/><stop offset="0.05" stop-color="#e05852"/><stop offset="0.10" stop-color="#e46a65"/><stop offset="0.15" stop-color="#e77d78"/><stop offset="0.20" stop-color="#eb8f8c"/><stop offset="0.25" stop-color="#eea29f"/><stop offset="0.30" stop-color="#f1b5b2"/><stop offset="0.35" stop-color="#f5c7c5"/><stop offset="0.40" stop-color="#f8dad9"/><stop offset="0.45" stop-color="#fcecec"/><stop offset="0.50" stop-color="#ffffff"/><stop offset="0.55" stop-color="#e7f3f4"/><stop offset="0.60" stop-color="#cfe6ea"/><stop offset="0.65" stop-color="#b7dadf"/><stop offset="0.70" stop-color="#9ecdd5"/><stop offset="0.75" stop-color="#86c1ca"/><stop offset="0.80" stop-color="#6eb4bf"/><stop offset="0.85" stop-color="#56a8b5"/><stop offset="0.90" stop-color="#3e9caa"/><stop offset="0.95" stop-color="#268fa0"/><stop offset="1.00" stop-color="#148698"/></linearGradient></defs>
<rect x="665.40" y="103.70" width="5.80" height="85.60" fill="url(#gc)"/>
<text x="673.30" y="114.40" font-size="7" fill="#141414" stroke="#141414">1.5</text>
<text x="673.30" y="126.10" font-size="7" fill="#141414" stroke="#141414">1</text>
<text x="673.30" y="137.80" font-size="7" fill="#141414" stroke="#141414">0.5</text>
<text x="673.30" y="148.90" font-size="7" fill="#141414" stroke="#141414">0</text>
<text x="673.30" y="160.20" font-size="7" fill="#141414" stroke="#141414">-0.5</text>
<text x="673.30" y="171.30" font-size="7" fill="#141414" stroke="#141414">-1</text>
<text x="673.30" y="183.00" font-size="7" fill="#141414" stroke="#141414">-1.5</text>
<text x="565.30" y="198.70" font-size="8.9" text-anchor="middle" fill="#141414" stroke="#141414">Tuberculosis</text>
<text x="-0.70" y="222.00" font-size="12.5" font-weight="bold" fill="#000">d</text>
<rect x="170.60" y="220.50" width="70.60" height="161.50" fill="none" stroke="#c9c9c9" stroke-width="0.8"/>
<text x="168.10" y="228.70" font-size="8" text-anchor="end" fill="#1fa64a" stroke="#1fa64a">Response to molecule of bacterial origin</text>
<line x1="168.80" y1="226.00" x2="170.60" y2="226.00" stroke="#999" stroke-width="0.5"/>
<rect x="174.00" y="222.50" width="64.00" height="7.00" fill="#e64b35"/>
<text x="168.10" y="237.51" font-size="8" text-anchor="end" fill="#1fa64a" stroke="#1fa64a">Activation of immune response</text>
<line x1="168.80" y1="234.81" x2="170.60" y2="234.81" stroke="#999" stroke-width="0.5"/>
<rect x="174.00" y="231.31" width="57.00" height="7.00" fill="#e64b35"/>
<text x="168.10" y="246.32" font-size="8" text-anchor="end" fill="#1fa64a" stroke="#1fa64a">Cellular response to lipopolysaccharide</text>
<line x1="168.80" y1="243.62" x2="170.60" y2="243.62" stroke="#999" stroke-width="0.5"/>
<rect x="174.00" y="240.12" width="46.00" height="7.00" fill="#e64b35"/>
<text x="168.10" y="255.13" font-size="8" text-anchor="end" fill="#141414" stroke="#141414">Positive regulation of secretion by cell</text>
<line x1="168.80" y1="252.43" x2="170.60" y2="252.43" stroke="#999" stroke-width="0.5"/>
<rect x="174.00" y="248.93" width="40.75" height="7.00" fill="#e64b35"/>
<text x="168.10" y="263.94" font-size="8" text-anchor="end" fill="#141414" stroke="#141414">Positive regulation of inflammatory response</text>
<line x1="168.80" y1="261.24" x2="170.60" y2="261.24" stroke="#999" stroke-width="0.5"/>
<rect x="174.00" y="257.74" width="36.50" height="7.00" fill="#e64b35"/>
<text x="168.10" y="272.75" font-size="8" text-anchor="end" fill="#f5141c" stroke="#f5141c">B cell mediated immunity</text>
<line x1="168.80" y1="270.05" x2="170.60" y2="270.05" stroke="#999" stroke-width="0.5"/>
<rect x="174.00" y="266.55" width="20.25" height="7.00" fill="#e64b35"/>
<text x="168.10" y="281.56" font-size="8" text-anchor="end" fill="#f5141c" stroke="#f5141c">T cell mediated immunity</text>
<line x1="168.80" y1="278.86" x2="170.60" y2="278.86" stroke="#999" stroke-width="0.5"/>
<rect x="174.00" y="275.36" width="19.50" height="7.00" fill="#e64b35"/>
<text x="168.10" y="290.37" font-size="8" text-anchor="end" fill="#f5141c" stroke="#f5141c">myeloid dendritic cell activation</text>
<line x1="168.80" y1="287.67" x2="170.60" y2="287.67" stroke="#999" stroke-width="0.5"/>
<rect x="174.00" y="284.17" width="10.75" height="7.00" fill="#e64b35"/>
<text x="168.10" y="299.18" font-size="8" text-anchor="end" fill="#f5141c" stroke="#f5141c">Positive regulation of macrophage activation</text>
<line x1="168.80" y1="296.48" x2="170.60" y2="296.48" stroke="#999" stroke-width="0.5"/>
<rect x="174.00" y="292.98" width="5.75" height="7.00" fill="#e64b35"/>
<text x="168.10" y="307.99" font-size="8" text-anchor="end" fill="#141414" stroke="#141414">Cell adhesion molecule binding</text>
<line x1="168.80" y1="305.29" x2="170.60" y2="305.29" stroke="#999" stroke-width="0.5"/>
<rect x="174.00" y="301.79" width="40.75" height="7.00" fill="#4dbbd5"/>
<text x="168.10" y="316.80" font-size="8" text-anchor="end" fill="#141414" stroke="#141414">Cytokine activity</text>
<line x1="168.80" y1="314.10" x2="170.60" y2="314.10" stroke="#999" stroke-width="0.5"/>
<rect x="174.00" y="310.60" width="35.70" height="7.00" fill="#4dbbd5"/>
<text x="168.10" y="325.61" font-size="8" text-anchor="end" fill="#141414" stroke="#141414">Immune receptor activity</text>
<line x1="168.80" y1="322.91" x2="170.60" y2="322.91" stroke="#999" stroke-width="0.5"/>
<rect x="174.00" y="319.41" width="28.00" height="7.00" fill="#4dbbd5"/>
<text x="168.10" y="334.42" font-size="8" text-anchor="end" fill="#141414" stroke="#141414">Chemokine activity</text>
<line x1="168.80" y1="331.72" x2="170.60" y2="331.72" stroke="#999" stroke-width="0.5"/>
<rect x="174.00" y="328.22" width="10.00" height="7.00" fill="#4dbbd5"/>
<text x="168.10" y="343.23" font-size="8" text-anchor="end" fill="#141414" stroke="#141414">Pattern recognition receptor activity</text>
<line x1="168.80" y1="340.53" x2="170.60" y2="340.53" stroke="#999" stroke-width="0.5"/>
<rect x="174.00" y="337.03" width="8.30" height="7.00" fill="#4dbbd5"/>
<text x="168.10" y="352.04" font-size="8" text-anchor="end" fill="#1f78c8" stroke="#1f78c8">Toll-like receptor binding</text>
<line x1="168.80" y1="349.34" x2="170.60" y2="349.34" stroke="#999" stroke-width="0.5"/>
<rect x="174.00" y="345.84" width="6.70" height="7.00" fill="#4dbbd5"/>
<text x="168.10" y="360.85" font-size="8" text-anchor="end" fill="#1f78c8" stroke="#1f78c8">MHC class I receptor activity</text>
<line x1="168.80" y1="358.15" x2="170.60" y2="358.15" stroke="#999" stroke-width="0.5"/>
<rect x="174.00" y="354.65" width="5.00" height="7.00" fill="#4dbbd5"/>
<text x="168.10" y="369.66" font-size="8" text-anchor="end" fill="#1f78c8" stroke="#1f78c8">CXCR chemokine receptor binding</text>
<line x1="168.80" y1="366.96" x2="170.60" y2="366.96" stroke="#999" stroke-width="0.5"/>
<rect x="174.00" y="363.46" width="4.00" height="7.00" fill="#4dbbd5"/>
<text x="168.10" y="378.47" font-size="8" text-anchor="end" fill="#141414" stroke="#141414">Lipopolysaccharide immune receptor activity</text>
<line x1="168.80" y1="375.77" x2="170.60" y2="375.77" stroke="#999" stroke-width="0.5"/>
<rect x="174.00" y="372.27" width="2.60" height="7.00" fill="#4dbbd5"/>
<line x1="172.60" y1="382.00" x2="172.60" y2="383.60" stroke="#999" stroke-width="0.5"/>
<text x="172.60" y="391.60" font-size="8.0" text-anchor="middle" fill="#141414" stroke="#141414">0</text>
<line x1="190.00" y1="382.00" x2="190.00" y2="383.60" stroke="#999" stroke-width="0.5"/>
<text x="190.00" y="391.60" font-size="8.0" text-anchor="middle" fill="#141414" stroke="#141414">20</text>
<line x1="207.30" y1="382.00" x2="207.30" y2="383.60" stroke="#999" stroke-width="0.5"/>
<text x="207.30" y="391.60" font-size="8.0" text-anchor="middle" fill="#141414" stroke="#141414">40</text>
<line x1="224.60" y1="382.00" x2="224.60" y2="383.60" stroke="#999" stroke-width="0.5"/>
<text x="224.60" y="391.60" font-size="8.0" text-anchor="middle" fill="#141414" stroke="#141414">60</text>
<text x="204.60" y="400.60" font-size="8.8" text-anchor="middle" fill="#141414" stroke="#141414">Count</text>
<rect x="245.40" y="227.50" width="6.90" height="6.80" fill="#e64b35"/>
<text x="254.40" y="233.60" font-size="7.6" fill="#141414" stroke="#141414">BP</text>
<rect x="245.40" y="240.50" width="6.90" height="6.80" fill="#4dbbd5"/>
<text x="254.40" y="246.70" font-size="7.6" fill="#141414" stroke="#141414">MF</text>
<text x="278.00" y="222.20" font-size="12.5" font-weight="bold" fill="#000">e</text>
<rect x="295.20" y="245.70" width="22.95" height="4.50" fill="#bebebe"/>
<rect x="318.10" y="245.70" width="22.95" height="4.50" fill="#bebebe"/>
<rect x="341.00" y="245.70" width="22.95" height="4.50" fill="#bebebe"/>
<rect x="363.90" y="245.70" width="22.95" height="4.50" fill="#a020f0"/>
<rect x="386.80" y="245.70" width="22.95" height="4.50" fill="#a020f0"/>
<rect x="409.70" y="245.70" width="22.95" height="4.50" fill="#a020f0"/>
<rect x="295.20" y="252.00" width="22.95" height="16.92" fill="#8ac3cc"/>
<rect x="318.10" y="252.00" width="22.95" height="16.92" fill="#a7d2d9"/>
<rect x="341.00" y="252.00" width="22.95" height="16.92" fill="#a7d2d9"/>
<rect x="363.90" y="252.00" width="22.95" height="16.92" fill="#f8fbfc"/>
<rect x="386.80" y="252.00" width="22.95" height="16.92" fill="#fbe8e8"/>
<rect x="409.70" y="252.00" width="22.95" height="16.92" fill="#e05650"/>
<text x="435.40" y="263.33" font-size="8" fill="#141414" stroke="#141414">Hspd1</text>
<rect x="295.20" y="268.87" width="22.95" height="16.92" fill="#c5e1e5"/>
<rect x="318.10" y="268.87" width="22.95" height="16.92" fill="#b6d9df"/>
<rect x="341.00" y="268.87" width="22.95" height="16.92" fill="#c5e1e5"/>
<rect x="363.90" y="268.87" width="22.95" height="16.92" fill="#de4b45"/>
<rect x="386.80" y="268.87" width="22.95" height="16.92" fill="#a7d2d9"/>
<rect x="409.70" y="268.87" width="22.95" height="16.92" fill="#f9dddc"/>
<text x="435.40" y="280.20" font-size="8" fill="#141414" stroke="#141414">Il1rl1</text>
<rect x="295.20" y="285.74" width="22.95" height="16.92" fill="#8ac3cc"/>
<rect x="318.10" y="285.74" width="22.95" height="16.92" fill="#6db4bf"/>
<rect x="341.00" y="285.74" width="22.95" height="16.92" fill="#8ac3cc"/>
<rect x="363.90" y="285.74" width="22.95" height="16.92" fill="#ea8e8b"/>
<rect x="386.80" y="285.74" width="22.95" height="16.92" fill="#f9dddc"/>
<rect x="409.70" y="285.74" width="22.95" height="16.92" fill="#efa5a2"/>
<text x="435.40" y="297.07" font-size="8" fill="#141414" stroke="#141414">Il4ra</text>
<rect x="295.20" y="302.61" width="22.95" height="16.92" fill="#99cad2"/>
<rect x="318.10" y="302.61" width="22.95" height="16.92" fill="#99cad2"/>
<rect x="341.00" y="302.61" width="22.95" height="16.92" fill="#99cad2"/>
<rect x="363.90" y="302.61" width="22.95" height="16.92" fill="#e05650"/>
<rect x="386.80" y="302.61" width="22.95" height="16.92" fill="#f7d2d0"/>
<rect x="409.70" y="302.61" width="22.95" height="16.92" fill="#f8fbfc"/>
<text x="435.40" y="313.94" font-size="8" fill="#141414" stroke="#141414">Mmp8</text>
<rect x="295.20" y="319.48" width="22.95" height="16.92" fill="#8ac3cc"/>
<rect x="318.10" y="319.48" width="22.95" height="16.92" fill="#8ac3cc"/>
<rect x="341.00" y="319.48" width="22.95" height="16.92" fill="#8ac3cc"/>
<rect x="363.90" y="319.48" width="22.95" height="16.92" fill="#ea8e8b"/>
<rect x="386.80" y="319.48" width="22.95" height="16.92" fill="#fffdfd"/>
<rect x="409.70" y="319.48" width="22.95" height="16.92" fill="#e8837f"/>
<text x="435.40" y="330.81" font-size="8" fill="#141414" stroke="#141414">Thbs1</text>
<rect x="295.20" y="336.35" width="22.95" height="16.92" fill="#8ac3cc"/>
<rect x="318.10" y="336.35" width="22.95" height="16.92" fill="#50a5b2"/>
<rect x="341.00" y="336.35" width="22.95" height="16.92" fill="#f0f7f9"/>
<rect x="363.90" y="336.35" width="22.95" height="16.92" fill="#e2615c"/>
<rect x="386.80" y="336.35" width="22.95" height="16.92" fill="#f5c7c5"/>
<rect x="409.70" y="336.35" width="22.95" height="16.92" fill="#e9f4f5"/>
<text x="435.40" y="347.69" font-size="8" fill="#141414" stroke="#141414">Tlr6</text>
<line x1="295.20" y1="245.50" x2="295.20" y2="353.42" stroke="#fff" stroke-width="0.5"/>
<line x1="318.10" y1="245.50" x2="318.10" y2="353.42" stroke="#fff" stroke-width="0.5"/>
<line x1="341.00" y1="245.50" x2="341.00" y2="353.42" stroke="#fff" stroke-width="0.5"/>
<line x1="363.90" y1="245.50" x2="363.90" y2="353.42" stroke="#fff" stroke-width="0.5"/>
<line x1="386.80" y1="245.50" x2="386.80" y2="353.42" stroke="#fff" stroke-width="0.5"/>
<line x1="409.70" y1="245.50" x2="409.70" y2="353.42" stroke="#fff" stroke-width="0.5"/>
<line x1="432.60" y1="245.50" x2="432.60" y2="353.42" stroke="#fff" stroke-width="0.5"/>
<line x1="295.20" y1="252.00" x2="432.60" y2="252.00" stroke="#fff" stroke-width="0.35"/>
<line x1="295.20" y1="268.87" x2="432.60" y2="268.87" stroke="#fff" stroke-width="0.35"/>
<line x1="295.20" y1="285.74" x2="432.60" y2="285.74" stroke="#fff" stroke-width="0.35"/>
<line x1="295.20" y1="302.61" x2="432.60" y2="302.61" stroke="#fff" stroke-width="0.35"/>
<line x1="295.20" y1="319.48" x2="432.60" y2="319.48" stroke="#fff" stroke-width="0.35"/>
<line x1="295.20" y1="336.35" x2="432.60" y2="336.35" stroke="#fff" stroke-width="0.35"/>
<line x1="295.20" y1="353.22" x2="432.60" y2="353.22" stroke="#fff" stroke-width="0.35"/>
<text x="330.20" y="242.30" font-size="8.8" text-anchor="middle" fill="#141414" stroke="#141414">Saline</text>
<text x="373.70" y="242.30" font-size="8.8" fill="#141414" stroke="#141414"><tspan font-size="5.72" dy="-3.17">man</tspan><tspan dy="3.17">SNI+US</tspan></text>
<defs><linearGradient id="ge" x1="0" y1="0" x2="0" y2="1"><stop offset="0.00" stop-color="#de4a44"/><stop offset="0.05" stop-color="#e05852"/><stop offset="0.10" stop-color="#e46a65"/><stop offset="0.15" stop-color="#e77d78"/><stop offset="0.20" stop-color="#eb8f8c"/><stop offset="0.25" stop-color="#eea29f"/><stop offset="0.30" stop-color="#f1b5b2"/><stop offset="0.35" stop-color="#f5c7c5"/><stop offset="0.40" stop-color="#f8dad9"/><stop offset="0.45" stop-color="#fcecec"/><stop offset="0.50" stop-color="#ffffff"/><stop offset="0.55" stop-color="#e7f3f4"/><stop offset="0.60" stop-color="#cfe6ea"/><stop offset="0.65" stop-color="#b7dadf"/><stop offset="0.70" stop-color="#9ecdd5"/><stop offset="0.75" stop-color="#86c1ca"/><stop offset="0.80" stop-color="#6eb4bf"/><stop offset="0.85" stop-color="#56a8b5"/><stop offset="0.90" stop-color="#3e9caa"/><stop offset="0.95" stop-color="#268fa0"/><stop offset="1.00" stop-color="#148698"/></linearGradient></defs>
<rect x="460.50" y="265.50" width="5.50" height="86.10" fill="url(#ge)"/>
<text x="469.00" y="277.20" font-size="7" fill="#141414" stroke="#141414">1.5</text>
<text x="469.00" y="288.50" font-size="7" fill="#141414" stroke="#141414">1</text>
<text x="469.00" y="300.20" font-size="7" fill="#141414" stroke="#141414">0.5</text>
<text x="469.00" y="311.50" font-size="7" fill="#141414" stroke="#141414">0</text>
<text x="469.00" y="322.90" font-size="7" fill="#141414" stroke="#141414">-0.5</text>
<text x="469.00" y="334.20" font-size="7" fill="#141414" stroke="#141414">-1</text>
<text x="469.00" y="345.50" font-size="7" fill="#141414" stroke="#141414">-1.5</text>
<text x="375.00" y="366.50" font-size="8.9" text-anchor="middle" fill="#141414" stroke="#141414">Positive regulation of macrophage activation</text>
<text x="487.70" y="222.00" font-size="12.5" font-weight="bold" fill="#000">f</text>
<rect x="499.60" y="246.00" width="22.10" height="4.00" fill="#bebebe"/>
<rect x="521.65" y="246.00" width="22.10" height="4.00" fill="#bebebe"/>
<rect x="543.70" y="246.00" width="22.10" height="4.00" fill="#bebebe"/>
<rect x="565.75" y="246.00" width="22.10" height="4.00" fill="#a020f0"/>
<rect x="587.80" y="246.00" width="22.10" height="4.00" fill="#a020f0"/>
<rect x="609.85" y="246.00" width="22.10" height="4.00" fill="#a020f0"/>
<rect x="499.60" y="251.20" width="22.10" height="14.76" fill="#389bff"/>
<rect x="521.65" y="251.20" width="22.10" height="14.76" fill="#2e96ff"/>
<rect x="543.70" y="251.20" width="22.10" height="14.76" fill="#a7d3ff"/>
<rect x="565.75" y="251.20" width="22.10" height="14.76" fill="#d70b0b"/>
<rect x="587.80" y="251.20" width="22.10" height="14.76" fill="#ff8282"/>
<rect x="609.85" y="251.20" width="22.10" height="14.76" fill="#ffd5d5"/>
<text x="634.00" y="261.45" font-size="8" fill="#141414" stroke="#141414">Pirb</text>
<rect x="499.60" y="265.91" width="22.10" height="14.76" fill="#389bff"/>
<rect x="521.65" y="265.91" width="22.10" height="14.76" fill="#2f7df6"/>
<rect x="543.70" y="265.91" width="22.10" height="14.76" fill="#a1d0ff"/>
<rect x="565.75" y="265.91" width="22.10" height="14.76" fill="#f22222"/>
<rect x="587.80" y="265.91" width="22.10" height="14.76" fill="#f22222"/>
<rect x="609.85" y="265.91" width="22.10" height="14.76" fill="#ffeeee"/>
<text x="634.00" y="276.16" font-size="8" fill="#141414" stroke="#141414">Spi1</text>
<rect x="499.60" y="280.62" width="22.10" height="14.76" fill="#82c0ff"/>
<rect x="521.65" y="280.62" width="22.10" height="14.76" fill="#389bff"/>
<rect x="543.70" y="280.62" width="22.10" height="14.76" fill="#d5eaff"/>
<rect x="565.75" y="280.62" width="22.10" height="14.76" fill="#ff5858"/>
<rect x="587.80" y="280.62" width="22.10" height="14.76" fill="#6db6ff"/>
<rect x="609.85" y="280.62" width="22.10" height="14.76" fill="#d70b0b"/>
<text x="634.00" y="290.88" font-size="8" fill="#141414" stroke="#141414">Itgb8</text>
<rect x="499.60" y="295.33" width="22.10" height="14.76" fill="#43a0ff"/>
<rect x="521.65" y="295.33" width="22.10" height="14.76" fill="#6db6ff"/>
<rect x="543.70" y="295.33" width="22.10" height="14.76" fill="#d5eaff"/>
<rect x="565.75" y="295.33" width="22.10" height="14.76" fill="#ffeaea"/>
<rect x="587.80" y="295.33" width="22.10" height="14.76" fill="#cbe5ff"/>
<rect x="609.85" y="295.33" width="22.10" height="14.76" fill="#ca0000"/>
<text x="634.00" y="305.58" font-size="8" fill="#141414" stroke="#141414">Tnfsf9</text>
<rect x="499.60" y="310.04" width="22.10" height="14.76" fill="#389bff"/>
<rect x="521.65" y="310.04" width="22.10" height="14.76" fill="#389bff"/>
<rect x="543.70" y="310.04" width="22.10" height="14.76" fill="#43a0ff"/>
<rect x="565.75" y="310.04" width="22.10" height="14.76" fill="#f22222"/>
<rect x="587.80" y="310.04" width="22.10" height="14.76" fill="#ffa1a1"/>
<rect x="609.85" y="310.04" width="22.10" height="14.76" fill="#f82828"/>
<text x="634.00" y="320.29" font-size="8" fill="#141414" stroke="#141414">Cebpb</text>
<rect x="499.60" y="324.75" width="22.10" height="14.76" fill="#43a0ff"/>
<rect x="521.65" y="324.75" width="22.10" height="14.76" fill="#43a0ff"/>
<rect x="543.70" y="324.75" width="22.10" height="14.76" fill="#6db6ff"/>
<rect x="565.75" y="324.75" width="22.10" height="14.76" fill="#ffb6b6"/>
<rect x="587.80" y="324.75" width="22.10" height="14.76" fill="#ffd5d5"/>
<rect x="609.85" y="324.75" width="22.10" height="14.76" fill="#d70b0b"/>
<text x="634.00" y="335.00" font-size="8" fill="#141414" stroke="#141414">Batf</text>
<rect x="499.60" y="339.46" width="22.10" height="14.76" fill="#389bff"/>
<rect x="521.65" y="339.46" width="22.10" height="14.76" fill="#58abff"/>
<rect x="543.70" y="339.46" width="22.10" height="14.76" fill="#43a0ff"/>
<rect x="565.75" y="339.46" width="22.10" height="14.76" fill="#ff6d6d"/>
<rect x="587.80" y="339.46" width="22.10" height="14.76" fill="#ffd5d5"/>
<rect x="609.85" y="339.46" width="22.10" height="14.76" fill="#de1111"/>
<text x="634.00" y="349.71" font-size="8" fill="#141414" stroke="#141414">Prtn3</text>
<line x1="499.60" y1="245.80" x2="499.60" y2="354.37" stroke="#fff" stroke-width="0.5"/>
<line x1="521.65" y1="245.80" x2="521.65" y2="354.37" stroke="#fff" stroke-width="0.5"/>
<line x1="543.70" y1="245.80" x2="543.70" y2="354.37" stroke="#fff" stroke-width="0.5"/>
<line x1="565.75" y1="245.80" x2="565.75" y2="354.37" stroke="#fff" stroke-width="0.5"/>
<line x1="587.80" y1="245.80" x2="587.80" y2="354.37" stroke="#fff" stroke-width="0.5"/>
<line x1="609.85" y1="245.80" x2="609.85" y2="354.37" stroke="#fff" stroke-width="0.5"/>
<line x1="631.90" y1="245.80" x2="631.90" y2="354.37" stroke="#fff" stroke-width="0.5"/>
<line x1="499.60" y1="251.20" x2="631.90" y2="251.20" stroke="#fff" stroke-width="0.35"/>
<line x1="499.60" y1="265.91" x2="631.90" y2="265.91" stroke="#fff" stroke-width="0.35"/>
<line x1="499.60" y1="280.62" x2="631.90" y2="280.62" stroke="#fff" stroke-width="0.35"/>
<line x1="499.60" y1="295.33" x2="631.90" y2="295.33" stroke="#fff" stroke-width="0.35"/>
<line x1="499.60" y1="310.04" x2="631.90" y2="310.04" stroke="#fff" stroke-width="0.35"/>
<line x1="499.60" y1="324.75" x2="631.90" y2="324.75" stroke="#fff" stroke-width="0.35"/>
<line x1="499.60" y1="339.46" x2="631.90" y2="339.46" stroke="#fff" stroke-width="0.35"/>
<line x1="499.60" y1="354.17" x2="631.90" y2="354.17" stroke="#fff" stroke-width="0.35"/>
<text x="531.70" y="242.00" font-size="8.8" text-anchor="middle" fill="#141414" stroke="#141414">Saline</text>
<text x="575.60" y="242.00" font-size="8.8" fill="#141414" stroke="#141414"><tspan font-size="5.72" dy="-3.17">man</tspan><tspan dy="3.17">SNI+US</tspan></text>
<defs><linearGradient id="gf" x1="0" y1="0" x2="0" y2="1"><stop offset="0.00" stop-color="#ca0000"/><stop offset="0.05" stop-color="#d30808"/><stop offset="0.10" stop-color="#df1212"/><stop offset="0.15" stop-color="#eb1d1d"/><stop offset="0.20" stop-color="#f82828"/><stop offset="0.25" stop-color="#ff3e3e"/><stop offset="0.30" stop-color="#ff6464"/><stop offset="0.35" stop-color="#ff8b8b"/><stop offset="0.40" stop-color="#ffb2b2"/><stop offset="0.45" stop-color="#ffd8d8"/><stop offset="0.50" stop-color="#ffffff"/><stop offset="0.55" stop-color="#d8ecff"/><stop offset="0.60" stop-color="#b2d8ff"/><stop offset="0.65" stop-color="#8bc5ff"/><stop offset="0.70" stop-color="#64b1ff"/><stop offset="0.75" stop-color="#3e9eff"/><stop offset="0.80" stop-color="#2f84f9"/><stop offset="0.85" stop-color="#3065ee"/><stop offset="0.90" stop-color="#3146e4"/><stop offset="0.95" stop-color="#3227d9"/><stop offset="1.00" stop-color="#3308cf"/></linearGradient></defs>
<rect x="659.60" y="269.30" width="3.80" height="82.90" fill="url(#gf)"/>
<text x="665.40" y="278.80" font-size="7" fill="#141414" stroke="#141414">1.5</text>
<text x="665.40" y="290.20" font-size="7" fill="#141414" stroke="#141414">1</text>
<text x="665.40" y="301.30" font-size="7" fill="#141414" stroke="#141414">0.5</text>
<text x="665.40" y="312.60" font-size="7" fill="#141414" stroke="#141414">0</text>
<text x="665.40" y="324.00" font-size="7" fill="#141414" stroke="#141414">-0.5</text>
<text x="665.40" y="335.40" font-size="7" fill="#141414" stroke="#141414">-1</text>
<text x="665.40" y="346.80" font-size="7" fill="#141414" stroke="#141414">-1.5</text>
<text x="564.00" y="366.90" font-size="8.9" text-anchor="middle" fill="#141414" stroke="#141414">Myeloid dendritic cell activation</text>
<text x="-0.50" y="425.60" font-size="12.5" font-weight="bold" fill="#000">g</text>
<text x="45.75" y="444.50" font-size="8.8" text-anchor="middle" fill="#141414" stroke="#141414">Saline</text>
<text x="95.00" y="444.50" font-size="8.8" text-anchor="middle" fill="#141414" stroke="#141414">Saline+US</text>
<text x="145.50" y="444.50" font-size="8.8" text-anchor="middle" fill="#141414" stroke="#141414">SN+US</text>
<text x="175.30" y="444.50" font-size="8.8" fill="#141414" stroke="#141414"><tspan font-size="5.72" dy="-3.17">man</tspan><tspan dy="3.17">SN+US</tspan></text>
<text x="225.20" y="444.50" font-size="8.8" fill="#141414" stroke="#141414"><tspan font-size="5.72" dy="-3.17">man</tspan><tspan dy="3.17">SNI+US</tspan></text>
<text x="16.80" y="474.50" font-size="8.6" text-anchor="middle" transform="rotate(-90 16.80 474.50)" fill="#141414" stroke="#141414">CD86</text>
<text x="16.80" y="522.70" font-size="8.6" text-anchor="middle" transform="rotate(-90 16.80 522.70)" fill="#141414" stroke="#141414">CD206</text>
<filter id="soft" x="-2%" y="-2%" width="104%" height="104%"><feGaussianBlur stdDeviation="0.35"/></filter>
<filter id="rag" x="-10%" y="-10%" width="120%" height="120%"><feTurbulence type="fractalNoise" baseFrequency="0.16" numOctaves="2" seed="5"/><feDisplacementMap in="SourceGraphic" scale="4.5" xChannelSelector="R" yChannelSelector="G"/></filter>
<clipPath id="cl1"><rect x="20.0" y="448.1" width="48.7" height="48.6"/></clipPath>
<g clip-path="url(#cl1)"><g filter="url(#soft)">
<rect x="20.00" y="448.10" width="48.70" height="48.60" fill="#9896b6"/>
<ellipse cx="39.6" cy="488.1" rx="1.3" ry="5" fill="#a08868" opacity="0.6" transform="rotate(0 39.6 488.1)"/>
<ellipse cx="45.8" cy="490.1" rx="1.3" ry="4" fill="#a08868" opacity="0.5" transform="rotate(0 45.8 490.1)"/>
<filter id="tf1_0" x="0" y="0" width="100%" height="100%" color-interpolation-filters="sRGB"><feTurbulence type="fractalNoise" baseFrequency="0.4" numOctaves="2" seed="7"/><feColorMatrix type="matrix" values="0 0 0 0 0.384 0 0 0 0 0.376 0 0 0 0 0.557 4.5 0 0 0 -2.1"/><feComposite operator="in" in2="SourceGraphic"/></filter>
<rect x="20.0" y="448.1" width="48.7" height="48.6" fill="#000" filter="url(#tf1_0)"/>
<filter id="tf1_1" x="0" y="0" width="100%" height="100%" color-interpolation-filters="sRGB"><feTurbulence type="fractalNoise" baseFrequency="0.5" numOctaves="2" seed="8"/><feColorMatrix type="matrix" values="0 0 0 0 0.745 0 0 0 0 0.667 0 0 0 0 0.573 7 0 0 0 -4.5"/><feComposite operator="in" in2="SourceGraphic"/></filter>
<rect x="20.0" y="448.1" width="48.7" height="48.6" fill="#000" filter="url(#tf1_1)"/>
<filter id="tf1_2" x="0" y="0" width="100%" height="100%" color-interpolation-filters="sRGB"><feTurbulence type="fractalNoise" baseFrequency="0.5" numOctaves="2" seed="9"/><feColorMatrix type="matrix" values="0 0 0 0 0.918 0 0 0 0 0.953 0 0 0 0 0.961 8 0 0 0 -5.0"/><feComposite operator="in" in2="SourceGraphic"/></filter>
<rect x="20.0" y="448.1" width="48.7" height="48.6" fill="#000" filter="url(#tf1_2)"/>
<filter id="tf1_3" x="0" y="0" width="100%" height="100%" color-interpolation-filters="sRGB"><feTurbulence type="fractalNoise" baseFrequency="0.12" numOctaves="2" seed="10"/><feColorMatrix type="matrix" values="0 0 0 0 0.918 0 0 0 0 0.953 0 0 0 0 0.961 10 0 0 0 -6.3"/><feComposite operator="in" in2="SourceGraphic"/></filter>
<rect x="20.0" y="448.1" width="48.7" height="48.6" fill="#000" filter="url(#tf1_3)"/>
<g filter="url(#rag)">
<ellipse cx="45.0" cy="456.1" rx="4.2" ry="5.6" fill="#eaf3f5" transform="rotate(10 45.0 456.1)"/>
<ellipse cx="63.0" cy="454.1" rx="4.6" ry="5.2" fill="#eaf3f5" transform="rotate(0 63.0 454.1)"/>
<ellipse cx="27.0" cy="485.1" rx="5.6" ry="8.2" fill="#eaf3f5" transform="rotate(8 27.0 485.1)"/>
<ellipse cx="42.5" cy="486.8" rx="2.4" ry="5.8" fill="#eaf3f5" transform="rotate(0 42.5 486.8)"/>
<ellipse cx="60.5" cy="487.1" rx="2.4" ry="2.2" fill="#eaf3f5" transform="rotate(0 60.5 487.1)"/>
<ellipse cx="34.0" cy="456.1" rx="2" ry="1.8" fill="#eaf3f5" transform="rotate(0 34.0 456.1)"/>
<ellipse cx="23.0" cy="460.1" rx="1.8" ry="2.8" fill="#eaf3f5" transform="rotate(0 23.0 460.1)"/>
</g>
</g></g>
<rect x="57.20" y="491.70" width="9.60" height="1.50" fill="#0a0a0a"/>
<clipPath id="cl2"><rect x="70.9" y="448.1" width="48.7" height="48.6"/></clipPath>
<g clip-path="url(#cl2)"><g filter="url(#soft)">
<rect x="70.90" y="448.10" width="48.70" height="48.60" fill="#9694b6"/>
<filter id="tf2_0" x="0" y="0" width="100%" height="100%" color-interpolation-filters="sRGB"><feTurbulence type="fractalNoise" baseFrequency="0.4" numOctaves="2" seed="14"/><feColorMatrix type="matrix" values="0 0 0 0 0.384 0 0 0 0 0.376 0 0 0 0 0.557 4.5 0 0 0 -2.1"/><feComposite operator="in" in2="SourceGraphic"/></filter>
<rect x="70.9" y="448.1" width="48.7" height="48.6" fill="#000" filter="url(#tf2_0)"/>
<filter id="tf2_1" x="0" y="0" width="100%" height="100%" color-interpolation-filters="sRGB"><feTurbulence type="fractalNoise" baseFrequency="0.5" numOctaves="2" seed="15"/><feColorMatrix type="matrix" values="0 0 0 0 0.745 0 0 0 0 0.667 0 0 0 0 0.573 7 0 0 0 -4.6"/><feComposite operator="in" in2="SourceGraphic"/></filter>
<rect x="70.9" y="448.1" width="48.7" height="48.6" fill="#000" filter="url(#tf2_1)"/>
<filter id="tf2_2" x="0" y="0" width="100%" height="100%" color-interpolation-filters="sRGB"><feTurbulence type="fractalNoise" baseFrequency="0.5" numOctaves="2" seed="16"/><feColorMatrix type="matrix" values="0 0 0 0 0.918 0 0 0 0 0.953 0 0 0 0 0.961 8 0 0 0 -5.05"/><feComposite operator="in" in2="SourceGraphic"/></filter>
<rect x="70.9" y="448.1" width="48.7" height="48.6" fill="#000" filter="url(#tf2_2)"/>
<filter id="tf2_3" x="0" y="0" width="100%" height="100%" color-interpolation-filters="sRGB"><feTurbulence type="fractalNoise" baseFrequency="0.13" numOctaves="2" seed="17"/><feColorMatrix type="matrix" values="0 0 0 0 0.918 0 0 0 0 0.953 0 0 0 0 0.961 10 0 0 0 -6.4"/><feComposite operator="in" in2="SourceGraphic"/></filter>
<rect x="70.9" y="448.1" width="48.7" height="48.6" fill="#000" filter="url(#tf2_3)"/>
<g filter="url(#rag)">
<ellipse cx="87.9" cy="469.1" rx="3.6" ry="3.4" fill="#eaf3f5" transform="rotate(0 87.9 469.1)"/>
<ellipse cx="99.4" cy="490.1" rx="4.1" ry="6.8" fill="#eaf3f5" transform="rotate(0 99.4 490.1)"/>
<ellipse cx="100.5" cy="450.1" rx="3.8" ry="2.8" fill="#eaf3f5" transform="rotate(0 100.5 450.1)"/>
<ellipse cx="110.9" cy="455.1" rx="3.6" ry="2.8" fill="#eaf3f5" transform="rotate(10 110.9 455.1)"/>
<ellipse cx="112.4" cy="469.1" rx="3.4" ry="3" fill="#eaf3f5" transform="rotate(0 112.4 469.1)"/>
<ellipse cx="74.4" cy="451.6" rx="2.8" ry="3.2" fill="#eaf3f5" transform="rotate(0 74.4 451.6)"/>
<ellipse cx="75.9" cy="488.1" rx="2.3" ry="1.8" fill="#eaf3f5" transform="rotate(0 75.9 488.1)"/>
</g>
</g></g>
<rect x="108.10" y="491.70" width="9.60" height="1.50" fill="#0a0a0a"/>
<clipPath id="cl3"><rect x="121.7" y="448.1" width="48.7" height="48.6"/></clipPath>
<g clip-path="url(#cl3)"><g filter="url(#soft)">
<rect x="121.70" y="448.10" width="48.70" height="48.60" fill="#b2b0c6"/>
<ellipse cx="147.7" cy="476.1" rx="9" ry="7" fill="#8c8ebe" opacity="0.4" transform="rotate(0 147.7 476.1)"/>
<filter id="tf3_0" x="0" y="0" width="100%" height="100%" color-interpolation-filters="sRGB"><feTurbulence type="fractalNoise" baseFrequency="0.4" numOctaves="2" seed="21"/><feColorMatrix type="matrix" values="0 0 0 0 0.384 0 0 0 0 0.376 0 0 0 0 0.557 3.5 0 0 0 -1.9"/><feComposite operator="in" in2="SourceGraphic"/></filter>
<rect x="121.7" y="448.1" width="48.7" height="48.6" fill="#000" filter="url(#tf3_0)"/>
<filter id="tf3_1" x="0" y="0" width="100%" height="100%" color-interpolation-filters="sRGB"><feTurbulence type="fractalNoise" baseFrequency="0.3" numOctaves="2" seed="22"/><feColorMatrix type="matrix" values="0 0 0 0 0.776 0 0 0 0 0.737 0 0 0 0 0.675 5 0 0 0 -2.75"/><feComposite operator="in" in2="SourceGraphic"/></filter>
<rect x="121.7" y="448.1" width="48.7" height="48.6" fill="#000" filter="url(#tf3_1)"/>
<filter id="tf3_2" x="0" y="0" width="100%" height="100%" color-interpolation-filters="sRGB"><feTurbulence type="fractalNoise" baseFrequency="0.5" numOctaves="2" seed="23"/><feColorMatrix type="matrix" values="0 0 0 0 0.918 0 0 0 0 0.953 0 0 0 0 0.961 8 0 0 0 -5.0"/><feComposite operator="in" in2="SourceGraphic"/></filter>
<rect x="121.7" y="448.1" width="48.7" height="48.6" fill="#000" filter="url(#tf3_2)"/>
<g filter="url(#rag)">
<path d="M48 0 L40 4 L30 12 L20 17 L10 22 L0 26 L0 13 L5 13 L10 18 L18 15 L30 9 L38 2 L44 0 Z" fill="#eaf3f5" transform="translate(121.7 448.1)"/>
<ellipse cx="158.7" cy="485.1" rx="6" ry="2.4" fill="#eaf3f5" transform="rotate(-8 158.7 485.1)"/>
</g>
</g></g>
<rect x="158.90" y="491.70" width="9.60" height="1.50" fill="#0a0a0a"/>
<clipPath id="cl4"><rect x="172.6" y="448.1" width="48.7" height="48.6"/></clipPath>
<g clip-path="url(#cl4)"><g filter="url(#soft)">
<rect x="172.60" y="448.10" width="48.70" height="48.60" fill="#b8b2c0"/>
<filter id="tf4_0" x="0" y="0" width="100%" height="100%" color-interpolation-filters="sRGB"><feTurbulence type="fractalNoise" baseFrequency="0.4" numOctaves="2" seed="28"/><feColorMatrix type="matrix" values="0 0 0 0 0.384 0 0 0 0 0.376 0 0 0 0 0.557 3.5 0 0 0 -2.0"/><feComposite operator="in" in2="SourceGraphic"/></filter>
<rect x="172.6" y="448.1" width="48.7" height="48.6" fill="#000" filter="url(#tf4_0)"/>
<filter id="tf4_1" x="0" y="0" width="100%" height="100%" color-interpolation-filters="sRGB"><feTurbulence type="fractalNoise" baseFrequency="0.3" numOctaves="2" seed="29"/><feColorMatrix type="matrix" values="0 0 0 0 0.784 0 0 0 0 0.745 0 0 0 0 0.682 5 0 0 0 -2.62"/><feComposite operator="in" in2="SourceGraphic"/></filter>
<rect x="172.6" y="448.1" width="48.7" height="48.6" fill="#000" filter="url(#tf4_1)"/>
<filter id="tf4_2" x="0" y="0" width="100%" height="100%" color-interpolation-filters="sRGB"><feTurbulence type="fractalNoise" baseFrequency="0.5" numOctaves="2" seed="30"/><feColorMatrix type="matrix" values="0 0 0 0 0.918 0 0 0 0 0.953 0 0 0 0 0.961 8 0 0 0 -5.0"/><feComposite operator="in" in2="SourceGraphic"/></filter>
<rect x="172.6" y="448.1" width="48.7" height="48.6" fill="#000" filter="url(#tf4_2)"/>
<g filter="url(#rag)">
<path d="M0 0 L23 0 L22 4 L16 9 L8 9 L4 15 L0 18 Z" fill="#eaf3f5" transform="translate(172.6 448.1)"/>
<ellipse cx="178.6" cy="486.6" rx="8.3" ry="10.8" fill="#eaf3f5" transform="rotate(-12 178.6 486.6)"/>
<ellipse cx="215.8" cy="478.1" rx="4.1" ry="8.8" fill="#eaf3f5" transform="rotate(4 215.8 478.1)"/>
<ellipse cx="217.6" cy="490.1" rx="2.8" ry="1.8" fill="#eaf3f5" transform="rotate(0 217.6 490.1)"/>
</g>
</g></g>
<rect x="209.80" y="491.70" width="9.60" height="1.50" fill="#0a0a0a"/>
<clipPath id="cl5"><rect x="223.4" y="448.1" width="48.7" height="48.6"/></clipPath>
<g clip-path="url(#cl5)"><g filter="url(#soft)">
<rect x="223.40" y="448.10" width="48.70" height="48.60" fill="#c0b8b4"/>
<ellipse cx="233.4" cy="488.1" rx="8.5" ry="5.4" fill="#a07a4e" opacity="0.92" transform="rotate(-26 233.4 488.1)"/>
<ellipse cx="228.4" cy="492.6" rx="3.5" ry="2.4" fill="#a07a4e" opacity="0.8" transform="rotate(0 228.4 492.6)"/>
<filter id="tf5_0" x="0" y="0" width="100%" height="100%" color-interpolation-filters="sRGB"><feTurbulence type="fractalNoise" baseFrequency="0.4" numOctaves="2" seed="35"/><feColorMatrix type="matrix" values="0 0 0 0 0.384 0 0 0 0 0.376 0 0 0 0 0.557 3.2 0 0 0 -1.95"/><feComposite operator="in" in2="SourceGraphic"/></filter>
<rect x="223.4" y="448.1" width="48.7" height="48.6" fill="#000" filter="url(#tf5_0)"/>
<filter id="tf5_1" x="0" y="0" width="100%" height="100%" color-interpolation-filters="sRGB"><feTurbulence type="fractalNoise" baseFrequency="0.3" numOctaves="2" seed="36"/><feColorMatrix type="matrix" values="0 0 0 0 0.792 0 0 0 0 0.722 0 0 0 0 0.612 5 0 0 0 -2.4"/><feComposite operator="in" in2="SourceGraphic"/></filter>
<rect x="223.4" y="448.1" width="48.7" height="48.6" fill="#000" filter="url(#tf5_1)"/>
<filter id="tf5_2" x="0" y="0" width="100%" height="100%" color-interpolation-filters="sRGB"><feTurbulence type="fractalNoise" baseFrequency="0.5" numOctaves="2" seed="37"/><feColorMatrix type="matrix" values="0 0 0 0 0.918 0 0 0 0 0.953 0 0 0 0 0.961 8 0 0 0 -5.1"/><feComposite operator="in" in2="SourceGraphic"/></filter>
<rect x="223.4" y="448.1" width="48.7" height="48.6" fill="#000" filter="url(#tf5_2)"/>
<g filter="url(#rag)">
<ellipse cx="235.7" cy="455.6" rx="3.6" ry="4.3" fill="#eaf3f5" transform="rotate(0 235.7 455.6)"/>
<ellipse cx="231.4" cy="483.6" rx="3.8" ry="2.4" fill="#eaf3f5" transform="rotate(-15 231.4 483.6)"/>
<ellipse cx="259.4" cy="481.1" rx="1.4" ry="2.2" fill="#eaf3f5" transform="rotate(0 259.4 481.1)"/>
</g>
</g></g>
<rect x="256.80" y="491.70" width="9.60" height="1.50" fill="#0a0a0a"/>
<text x="260.10" y="490.30" font-size="6.6" text-anchor="middle" fill="#111" stroke="#111">50 μm</text>
<clipPath id="cl6"><rect x="20.0" y="498.8" width="48.7" height="48.6"/></clipPath>
<g clip-path="url(#cl6)"><g filter="url(#soft)">
<rect x="20.00" y="498.80" width="48.70" height="48.60" fill="#aea8ba"/>
<ellipse cx="23.6" cy="503.6" rx="2.6" ry="2" fill="#a87646" opacity="0.8" transform="rotate(0 23.6 503.6)"/>
<ellipse cx="35.7" cy="514.2" rx="2.2" ry="2.4" fill="#a87646" opacity="0.8" transform="rotate(0 35.7 514.2)"/>
<ellipse cx="51.7" cy="508.8" rx="2.5" ry="1.5" fill="#a87646" opacity="0.75" transform="rotate(0 51.7 508.8)"/>
<ellipse cx="25.0" cy="527.8" rx="2.6" ry="2.2" fill="#a87646" opacity="0.75" transform="rotate(0 25.0 527.8)"/>
<ellipse cx="47.9" cy="524.1" rx="1.5" ry="1.6" fill="#a87646" opacity="0.75" transform="rotate(0 47.9 524.1)"/>
<filter id="tf6_0" x="0" y="0" width="100%" height="100%" color-interpolation-filters="sRGB"><feTurbulence type="fractalNoise" baseFrequency="0.45" numOctaves="2" seed="42"/><feColorMatrix type="matrix" values="0 0 0 0 0.416 0 0 0 0 0.400 0 0 0 0 0.573 4.5 0 0 0 -2.3"/><feComposite operator="in" in2="SourceGraphic"/></filter>
<rect x="20.0" y="498.8" width="48.7" height="48.6" fill="#000" filter="url(#tf6_0)"/>
<filter id="tf6_1" x="0" y="0" width="100%" height="100%" color-interpolation-filters="sRGB"><feTurbulence type="fractalNoise" baseFrequency="0.4" numOctaves="2" seed="43"/><feColorMatrix type="matrix" values="0 0 0 0 0.698 0 0 0 0 0.620 0 0 0 0 0.549 6 0 0 0 -3.4"/><feComposite operator="in" in2="SourceGraphic"/></filter>
<rect x="20.0" y="498.8" width="48.7" height="48.6" fill="#000" filter="url(#tf6_1)"/>
<filter id="tf6_2" x="0" y="0" width="100%" height="100%" color-interpolation-filters="sRGB"><feTurbulence type="fractalNoise" baseFrequency="0.28" numOctaves="2" seed="44"/><feColorMatrix type="matrix" values="0 0 0 0 0.918 0 0 0 0 0.953 0 0 0 0 0.961 10 0 0 0 -5.3"/><feComposite operator="in" in2="SourceGraphic"/></filter>
<rect x="20.0" y="498.8" width="48.7" height="48.6" fill="#000" filter="url(#tf6_2)"/>
<g filter="url(#rag)">
<ellipse cx="50.0" cy="514.8" rx="3.8" ry="4" fill="#eaf3f5" transform="rotate(0 50.0 514.8)"/>
<ellipse cx="30.5" cy="512.3" rx="3.4" ry="3" fill="#eaf3f5" transform="rotate(0 30.5 512.3)"/>
<ellipse cx="59.5" cy="508.8" rx="3.2" ry="3.4" fill="#eaf3f5" transform="rotate(0 59.5 508.8)"/>
<ellipse cx="37.0" cy="504.8" rx="3.2" ry="2.2" fill="#eaf3f5" transform="rotate(0 37.0 504.8)"/>
</g>
</g></g>
<rect x="57.20" y="542.40" width="9.60" height="1.50" fill="#0a0a0a"/>
<clipPath id="cl7"><rect x="70.9" y="498.8" width="48.7" height="48.6"/></clipPath>
<g clip-path="url(#cl7)"><g filter="url(#soft)">
<rect x="70.90" y="498.80" width="48.70" height="48.60" fill="#aca6b8"/>
<ellipse cx="101.6" cy="510.5" rx="5.3" ry="4.3" fill="#a87646" opacity="0.8" transform="rotate(10 101.6 510.5)"/>
<ellipse cx="79.9" cy="516.3" rx="3.3" ry="4.4" fill="#a87646" opacity="0.8" transform="rotate(-15 79.9 516.3)"/>
<ellipse cx="95.4" cy="533.8" rx="3.3" ry="8.5" fill="#a87646" opacity="0.8" transform="rotate(-10 95.4 533.8)"/>
<ellipse cx="103.4" cy="539.8" rx="3.6" ry="1.8" fill="#a87646" opacity="0.75" transform="rotate(-35 103.4 539.8)"/>
<filter id="tf7_0" x="0" y="0" width="100%" height="100%" color-interpolation-filters="sRGB"><feTurbulence type="fractalNoise" baseFrequency="0.45" numOctaves="2" seed="49"/><feColorMatrix type="matrix" values="0 0 0 0 0.416 0 0 0 0 0.400 0 0 0 0 0.573 4.5 0 0 0 -2.3"/><feComposite operator="in" in2="SourceGraphic"/></filter>
<rect x="70.9" y="498.8" width="48.7" height="48.6" fill="#000" filter="url(#tf7_0)"/>
<filter id="tf7_1" x="0" y="0" width="100%" height="100%" color-interpolation-filters="sRGB"><feTurbulence type="fractalNoise" baseFrequency="0.4" numOctaves="2" seed="50"/><feColorMatrix type="matrix" values="0 0 0 0 0.698 0 0 0 0 0.620 0 0 0 0 0.549 6 0 0 0 -3.35"/><feComposite operator="in" in2="SourceGraphic"/></filter>
<rect x="70.9" y="498.8" width="48.7" height="48.6" fill="#000" filter="url(#tf7_1)"/>
<filter id="tf7_2" x="0" y="0" width="100%" height="100%" color-interpolation-filters="sRGB"><feTurbulence type="fractalNoise" baseFrequency="0.3" numOctaves="2" seed="51"/><feColorMatrix type="matrix" values="0 0 0 0 0.918 0 0 0 0 0.953 0 0 0 0 0.961 10 0 0 0 -5.75"/><feComposite operator="in" in2="SourceGraphic"/></filter>
<rect x="70.9" y="498.8" width="48.7" height="48.6" fill="#000" filter="url(#tf7_2)"/>
<g filter="url(#rag)">
<ellipse cx="74.3" cy="525.3" rx="3" ry="3.4" fill="#eaf3f5" transform="rotate(0 74.3 525.3)"/>
<ellipse cx="86.4" cy="531.8" rx="3.4" ry="3" fill="#eaf3f5" transform="rotate(0 86.4 531.8)"/>
<ellipse cx="73.5" cy="543.3" rx="2.4" ry="3.4" fill="#eaf3f5" transform="rotate(0 73.5 543.3)"/>
<ellipse cx="90.9" cy="518.8" rx="1.8" ry="1.8" fill="#eaf3f5" transform="rotate(0 90.9 518.8)"/>
</g>
</g></g>
<rect x="108.10" y="542.40" width="9.60" height="1.50" fill="#0a0a0a"/>
<clipPath id="cl8"><rect x="121.7" y="498.8" width="48.7" height="48.6"/></clipPath>
<g clip-path="url(#cl8)"><g filter="url(#soft)">
<rect x="121.70" y="498.80" width="48.70" height="48.60" fill="#b0aabc"/>
<ellipse cx="122.5" cy="505.8" rx="2" ry="2.4" fill="#a87646" opacity="0.8" transform="rotate(0 122.5 505.8)"/>
<ellipse cx="140.4" cy="520.3" rx="2.6" ry="2.4" fill="#a87646" opacity="0.8" transform="rotate(0 140.4 520.3)"/>
<ellipse cx="160.9" cy="530.2" rx="2.6" ry="2.4" fill="#a87646" opacity="0.8" transform="rotate(0 160.9 530.2)"/>
<ellipse cx="131.7" cy="528.8" rx="2" ry="2" fill="#a87646" opacity="0.55" transform="rotate(0 131.7 528.8)"/>
<filter id="tf8_0" x="0" y="0" width="100%" height="100%" color-interpolation-filters="sRGB"><feTurbulence type="fractalNoise" baseFrequency="0.45" numOctaves="2" seed="56"/><feColorMatrix type="matrix" values="0 0 0 0 0.416 0 0 0 0 0.400 0 0 0 0 0.573 4.5 0 0 0 -2.3"/><feComposite operator="in" in2="SourceGraphic"/></filter>
<rect x="121.7" y="498.8" width="48.7" height="48.6" fill="#000" filter="url(#tf8_0)"/>
<filter id="tf8_1" x="0" y="0" width="100%" height="100%" color-interpolation-filters="sRGB"><feTurbulence type="fractalNoise" baseFrequency="0.4" numOctaves="2" seed="57"/><feColorMatrix type="matrix" values="0 0 0 0 0.698 0 0 0 0 0.620 0 0 0 0 0.549 6 0 0 0 -3.4"/><feComposite operator="in" in2="SourceGraphic"/></filter>
<rect x="121.7" y="498.8" width="48.7" height="48.6" fill="#000" filter="url(#tf8_1)"/>
<filter id="tf8_2" x="0" y="0" width="100%" height="100%" color-interpolation-filters="sRGB"><feTurbulence type="fractalNoise" baseFrequency="0.28" numOctaves="2" seed="58"/><feColorMatrix type="matrix" values="0 0 0 0 0.918 0 0 0 0 0.953 0 0 0 0 0.961 10 0 0 0 -5.3"/><feComposite operator="in" in2="SourceGraphic"/></filter>
<rect x="121.7" y="498.8" width="48.7" height="48.6" fill="#000" filter="url(#tf8_2)"/>
<g filter="url(#rag)">
<ellipse cx="132.1" cy="507.8" rx="3.6" ry="3.2" fill="#eaf3f5" transform="rotate(0 132.1 507.8)"/>
<ellipse cx="153.3" cy="508.5" rx="3.6" ry="3.2" fill="#eaf3f5" transform="rotate(0 153.3 508.5)"/>
<ellipse cx="151.4" cy="526.4" rx="3.3" ry="3.6" fill="#eaf3f5" transform="rotate(0 151.4 526.4)"/>
<ellipse cx="124.7" cy="501.8" rx="2.8" ry="2.4" fill="#eaf3f5" transform="rotate(0 124.7 501.8)"/>
</g>
</g></g>
<rect x="158.90" y="542.40" width="9.60" height="1.50" fill="#0a0a0a"/>
<clipPath id="cl9"><rect x="172.6" y="498.8" width="48.7" height="48.6"/></clipPath>
<g clip-path="url(#cl9)"><g filter="url(#soft)">
<rect x="172.60" y="498.80" width="48.70" height="48.60" fill="#b4aebe"/>
<filter id="tf9_0" x="0" y="0" width="100%" height="100%" color-interpolation-filters="sRGB"><feTurbulence type="fractalNoise" baseFrequency="0.45" numOctaves="2" seed="63"/><feColorMatrix type="matrix" values="0 0 0 0 0.416 0 0 0 0 0.400 0 0 0 0 0.573 4.5 0 0 0 -2.4"/><feComposite operator="in" in2="SourceGraphic"/></filter>
<rect x="172.6" y="498.8" width="48.7" height="48.6" fill="#000" filter="url(#tf9_0)"/>
<filter id="tf9_1" x="0" y="0" width="100%" height="100%" color-interpolation-filters="sRGB"><feTurbulence type="fractalNoise" baseFrequency="0.4" numOctaves="2" seed="64"/><feColorMatrix type="matrix" values="0 0 0 0 0.698 0 0 0 0 0.620 0 0 0 0 0.549 6 0 0 0 -3.55"/><feComposite operator="in" in2="SourceGraphic"/></filter>
<rect x="172.6" y="498.8" width="48.7" height="48.6" fill="#000" filter="url(#tf9_1)"/>
<filter id="tf9_2" x="0" y="0" width="100%" height="100%" color-interpolation-filters="sRGB"><feTurbulence type="fractalNoise" baseFrequency="0.28" numOctaves="2" seed="65"/><feColorMatrix type="matrix" values="0 0 0 0 0.918 0 0 0 0 0.953 0 0 0 0 0.961 10 0 0 0 -5.2"/><feComposite operator="in" in2="SourceGraphic"/></filter>
<rect x="172.6" y="498.8" width="48.7" height="48.6" fill="#000" filter="url(#tf9_2)"/>
<g filter="url(#rag)">
<ellipse cx="189.6" cy="512.8" rx="3.6" ry="6" fill="#eaf3f5" transform="rotate(5 189.6 512.8)"/>
<ellipse cx="198.1" cy="505.1" rx="2.9" ry="4.3" fill="#eaf3f5" transform="rotate(0 198.1 505.1)"/>
<ellipse cx="176.0" cy="522.3" rx="3.4" ry="8.2" fill="#eaf3f5" transform="rotate(0 176.0 522.3)"/>
<ellipse cx="179.8" cy="536.8" rx="2.8" ry="4.3" fill="#eaf3f5" transform="rotate(0 179.8 536.8)"/>
<ellipse cx="212.4" cy="529.3" rx="3.6" ry="4.3" fill="#eaf3f5" transform="rotate(0 212.4 529.3)"/>
<ellipse cx="175.6" cy="504.8" rx="2.8" ry="2.8" fill="#eaf3f5" transform="rotate(0 175.6 504.8)"/>
</g>
</g></g>
<rect x="209.80" y="542.40" width="9.60" height="1.50" fill="#0a0a0a"/>
<clipPath id="cl10"><rect x="223.4" y="498.8" width="48.7" height="48.6"/></clipPath>
<g clip-path="url(#cl10)"><g filter="url(#soft)">
<rect x="223.40" y="498.80" width="48.70" height="48.60" fill="#c4c8e4"/>
<ellipse cx="242.9" cy="526.3" rx="7" ry="9" fill="#8088cc" opacity="0.4" transform="rotate(0 242.9 526.3)"/>
<filter id="tf10_0" x="0" y="0" width="100%" height="100%" color-interpolation-filters="sRGB"><feTurbulence type="fractalNoise" baseFrequency="0.45" numOctaves="2" seed="70"/><feColorMatrix type="matrix" values="0 0 0 0 0.455 0 0 0 0 0.510 0 0 0 0 0.800 5 0 0 0 -2.6"/><feComposite operator="in" in2="SourceGraphic"/></filter>
<rect x="223.4" y="498.8" width="48.7" height="48.6" fill="#000" filter="url(#tf10_0)"/>
<filter id="tf10_1" x="0" y="0" width="100%" height="100%" color-interpolation-filters="sRGB"><feTurbulence type="fractalNoise" baseFrequency="0.4" numOctaves="2" seed="71"/><feColorMatrix type="matrix" values="0 0 0 0 0.918 0 0 0 0 0.953 0 0 0 0 0.961 8 0 0 0 -4.9"/><feComposite operator="in" in2="SourceGraphic"/></filter>
<rect x="223.4" y="498.8" width="48.7" height="48.6" fill="#000" filter="url(#tf10_1)"/>
<filter id="tf10_2" x="0" y="0" width="100%" height="100%" color-interpolation-filters="sRGB"><feTurbulence type="fractalNoise" baseFrequency="0.5" numOctaves="2" seed="72"/><feColorMatrix type="matrix" values="0 0 0 0 0.769 0 0 0 0 0.627 0 0 0 0 0.510 8 0 0 0 -5.5"/><feComposite operator="in" in2="SourceGraphic"/></filter>
<rect x="223.4" y="498.8" width="48.7" height="48.6" fill="#000" filter="url(#tf10_2)"/>
<g filter="url(#rag)">
</g>
</g></g>
<rect x="256.80" y="542.40" width="9.60" height="1.50" fill="#0a0a0a"/>
<text x="260.10" y="541.00" font-size="6.6" text-anchor="middle" fill="#111" stroke="#111">50 μm</text>
<text x="279.70" y="404.00" font-size="12.5" font-weight="bold" fill="#000">h</text>
<text x="332.50" y="408.90" font-size="8" text-anchor="middle" fill="#141414" stroke="#141414">Saline</text>
<text x="382.40" y="408.90" font-size="8" text-anchor="middle" fill="#141414" stroke="#141414">Saline+US</text>
<text x="434.60" y="408.90" font-size="8" text-anchor="middle" fill="#141414" stroke="#141414">SN+US</text>
<text x="468.00" y="408.90" font-size="8" fill="#141414" stroke="#141414"><tspan font-size="5.20" dy="-2.88">man</tspan><tspan dy="2.88">SN+US</tspan></text>
<text x="517.00" y="408.90" font-size="8" fill="#141414" stroke="#141414"><tspan font-size="5.20" dy="-2.88">man</tspan><tspan dy="2.88">SNI+US</tspan></text>
<rect x="308.30" y="413.80" width="48.00" height="46.90" fill="#fff" stroke="#c2c2c2" stroke-width="0.6"/>
<line x1="308.30" y1="443.40" x2="356.30" y2="443.40" stroke="#6e6e6e" stroke-width="0.6"/>
<line x1="328.50" y1="413.80" x2="328.50" y2="460.70" stroke="#6e6e6e" stroke-width="0.6"/>
<line x1="308.30" y1="423.80" x2="309.30" y2="423.80" stroke="#999" stroke-width="0.4"/>
<line x1="308.30" y1="434.30" x2="309.30" y2="434.30" stroke="#999" stroke-width="0.4"/>
<line x1="308.30" y1="450.80" x2="309.30" y2="450.80" stroke="#999" stroke-width="0.4"/>
<line x1="318.30" y1="460.70" x2="318.30" y2="459.70" stroke="#999" stroke-width="0.4"/>
<line x1="328.80" y1="460.70" x2="328.80" y2="459.70" stroke="#999" stroke-width="0.4"/>
<line x1="345.30" y1="460.70" x2="345.30" y2="459.70" stroke="#999" stroke-width="0.4"/>
<path d="M332.60 429.20C334.52 429.32 338.10 431.07 339.50 432.20C340.90 433.33 341.25 434.20 341.00 436.00C340.75 437.80 339.27 440.57 338.00 443.00C336.73 445.43 335.07 448.30 333.40 450.60C331.73 452.90 329.80 455.45 328.00 456.80C326.20 458.15 324.18 458.70 322.60 458.70C321.02 458.70 319.33 458.02 318.50 456.80C317.67 455.58 317.42 453.58 317.60 451.40C317.78 449.22 318.63 446.13 319.60 443.70C320.57 441.27 322.00 438.83 323.40 436.80C324.80 434.77 326.47 432.77 328.00 431.50C329.53 430.23 330.68 429.08 332.60 429.20Z" fill="#141414"/>
<path d="M331.59 431.31C333.28 431.41 336.43 432.95 337.66 433.95C338.90 434.95 339.20 435.71 338.98 437.30C338.76 438.88 337.46 441.31 336.34 443.46C335.23 445.60 333.76 448.12 332.30 450.14C330.83 452.17 329.13 454.41 327.54 455.60C325.96 456.79 324.19 457.27 322.79 457.27C321.40 457.27 319.92 456.67 319.18 455.60C318.45 454.53 318.23 452.77 318.39 450.85C318.55 448.93 319.30 446.21 320.15 444.07C321.00 441.93 322.26 439.79 323.50 438.00C324.73 436.21 326.19 434.45 327.54 433.34C328.89 432.22 329.91 431.21 331.59 431.31Z" fill="#bcbcbc"/>
<path d="M330.25 434.13C331.63 434.21 334.21 435.47 335.22 436.29C336.22 437.10 336.48 437.73 336.30 439.02C336.12 440.32 335.05 442.31 334.14 444.06C333.22 445.82 332.02 447.88 330.82 449.54C329.62 451.19 328.23 453.03 326.94 454.00C325.64 454.97 324.19 455.37 323.05 455.37C321.91 455.37 320.70 454.88 320.10 454.00C319.50 453.12 319.32 451.68 319.45 450.11C319.58 448.54 320.19 446.32 320.89 444.57C321.58 442.82 322.62 441.06 323.62 439.60C324.63 438.14 325.83 436.70 326.94 435.78C328.04 434.87 328.87 434.04 330.25 434.13Z" fill="none" stroke="#141414" stroke-width="0.55" opacity="0.9"/>
<path d="M328.90 436.94C329.98 437.01 331.98 437.99 332.77 438.62C333.55 439.26 333.75 439.74 333.61 440.75C333.47 441.76 332.64 443.31 331.93 444.67C331.22 446.03 330.29 447.64 329.35 448.93C328.42 450.22 327.34 451.64 326.33 452.40C325.32 453.16 324.19 453.46 323.30 453.46C322.42 453.46 321.47 453.08 321.01 452.40C320.54 451.72 320.40 450.60 320.50 449.38C320.61 448.15 321.08 446.43 321.62 445.06C322.17 443.70 322.97 442.34 323.75 441.20C324.54 440.06 325.47 438.94 326.33 438.23C327.19 437.52 327.83 436.88 328.90 436.94Z" fill="none" stroke="#141414" stroke-width="0.55" opacity="0.9"/>
<path d="M327.64 439.58C328.43 439.63 329.90 440.35 330.47 440.81C331.05 441.28 331.19 441.63 331.09 442.37C330.99 443.11 330.38 444.24 329.86 445.24C329.34 446.24 328.66 447.42 327.97 448.36C327.29 449.30 326.50 450.35 325.76 450.90C325.02 451.45 324.19 451.68 323.54 451.68C322.89 451.68 322.20 451.40 321.86 450.90C321.52 450.40 321.42 449.58 321.49 448.69C321.57 447.79 321.92 446.53 322.31 445.53C322.71 444.53 323.30 443.53 323.87 442.70C324.45 441.87 325.13 441.05 325.76 440.53C326.39 440.01 326.86 439.54 327.64 439.58Z" fill="none" stroke="#141414" stroke-width="0.55" opacity="0.9"/>
<path d="M326.47 442.05C326.99 442.08 327.95 442.55 328.33 442.86C328.71 443.16 328.80 443.40 328.74 443.88C328.67 444.37 328.27 445.12 327.93 445.77C327.58 446.43 327.13 447.21 326.68 447.83C326.23 448.45 325.71 449.14 325.23 449.50C324.74 449.86 324.20 450.01 323.77 450.01C323.34 450.01 322.89 449.83 322.66 449.50C322.44 449.17 322.37 448.63 322.42 448.04C322.47 447.45 322.70 446.62 322.96 445.96C323.22 445.31 323.61 444.65 323.98 444.10C324.36 443.55 324.81 443.01 325.23 442.67C325.64 442.33 325.95 442.02 326.47 442.05Z" fill="none" stroke="#141414" stroke-width="0.55" opacity="0.9"/>
<path d="M325.04 445.04C325.23 445.05 325.59 445.23 325.73 445.34C325.87 445.45 325.90 445.54 325.88 445.72C325.86 445.90 325.71 446.18 325.58 446.42C325.45 446.66 325.29 446.95 325.12 447.18C324.95 447.41 324.76 447.67 324.58 447.80C324.40 447.94 324.20 447.99 324.04 447.99C323.88 447.99 323.71 447.92 323.63 447.80C323.55 447.68 323.52 447.48 323.54 447.26C323.56 447.04 323.64 446.73 323.74 446.49C323.84 446.25 323.98 446.00 324.12 445.80C324.26 445.60 324.43 445.40 324.58 445.27C324.73 445.14 324.85 445.03 325.04 445.04Z" fill="#141414"/>
<text x="354.80" y="421.50" font-size="8.0" text-anchor="end" fill="#141414" stroke="#141414">23.13%</text>
<rect x="359.50" y="413.80" width="48.00" height="46.90" fill="#fff" stroke="#c2c2c2" stroke-width="0.6"/>
<line x1="359.50" y1="443.40" x2="407.50" y2="443.40" stroke="#6e6e6e" stroke-width="0.6"/>
<line x1="379.70" y1="413.80" x2="379.70" y2="460.70" stroke="#6e6e6e" stroke-width="0.6"/>
<line x1="359.50" y1="423.80" x2="360.50" y2="423.80" stroke="#999" stroke-width="0.4"/>
<line x1="359.50" y1="434.30" x2="360.50" y2="434.30" stroke="#999" stroke-width="0.4"/>
<line x1="359.50" y1="450.80" x2="360.50" y2="450.80" stroke="#999" stroke-width="0.4"/>
<line x1="369.50" y1="460.70" x2="369.50" y2="459.70" stroke="#999" stroke-width="0.4"/>
<line x1="380.00" y1="460.70" x2="380.00" y2="459.70" stroke="#999" stroke-width="0.4"/>
<line x1="396.50" y1="460.70" x2="396.50" y2="459.70" stroke="#999" stroke-width="0.4"/>
<path d="M383.56 430.03C385.32 430.15 388.62 431.84 389.90 432.94C391.19 434.04 391.51 434.88 391.28 436.63C391.05 438.37 389.69 441.06 388.52 443.42C387.36 445.78 385.83 448.56 384.29 450.79C382.76 453.02 380.98 455.49 379.32 456.80C377.67 458.11 375.81 458.65 374.36 458.65C372.90 458.65 371.35 457.98 370.58 456.80C369.82 455.62 369.59 453.68 369.76 451.57C369.92 449.45 370.71 446.46 371.60 444.10C372.49 441.74 373.80 439.38 375.09 437.40C376.38 435.43 377.91 433.49 379.32 432.26C380.73 431.03 381.79 429.92 383.56 430.03Z" fill="#e07b18"/>
<path d="M382.63 432.08C384.18 432.18 387.08 433.67 388.21 434.64C389.35 435.61 389.63 436.35 389.43 437.89C389.23 439.42 388.03 441.78 387.00 443.86C385.97 445.94 384.63 448.38 383.28 450.35C381.93 452.31 380.36 454.49 378.90 455.64C377.45 456.79 375.81 457.26 374.53 457.26C373.25 457.26 371.89 456.68 371.21 455.64C370.54 454.60 370.34 452.89 370.48 451.03C370.63 449.17 371.32 446.53 372.10 444.46C372.89 442.38 374.05 440.30 375.18 438.57C376.31 436.83 377.66 435.13 378.90 434.04C380.15 432.96 381.08 431.98 382.63 432.08Z" fill="#f6d7ba"/>
<path d="M381.39 434.81C382.66 434.89 385.04 436.12 385.96 436.91C386.89 437.70 387.12 438.30 386.96 439.56C386.79 440.82 385.81 442.75 384.97 444.45C384.13 446.15 383.03 448.15 381.92 449.76C380.82 451.36 379.54 453.15 378.35 454.09C377.15 455.03 375.82 455.41 374.77 455.41C373.72 455.41 372.60 454.94 372.05 454.09C371.50 453.24 371.33 451.84 371.46 450.32C371.58 448.79 372.14 446.64 372.78 444.94C373.42 443.24 374.37 441.54 375.30 440.12C376.23 438.70 377.33 437.30 378.35 436.42C379.36 435.53 380.12 434.73 381.39 434.81Z" fill="none" stroke="#e3882f" stroke-width="0.5" opacity="0.85"/>
<path d="M380.16 437.54C381.14 437.61 382.99 438.56 383.71 439.17C384.43 439.79 384.61 440.26 384.48 441.24C384.35 442.22 383.59 443.72 382.94 445.04C382.29 446.36 381.43 447.92 380.57 449.17C379.71 450.42 378.71 451.80 377.79 452.54C376.86 453.27 375.82 453.57 375.00 453.57C374.19 453.57 373.32 453.20 372.89 452.54C372.46 451.88 372.33 450.79 372.43 449.60C372.52 448.42 372.96 446.74 373.46 445.42C373.96 444.10 374.69 442.78 375.42 441.67C376.14 440.57 377.00 439.48 377.79 438.79C378.58 438.10 379.17 437.48 380.16 437.54Z" fill="none" stroke="#e3882f" stroke-width="0.5" opacity="0.85"/>
<path d="M379.00 440.10C379.72 440.15 381.07 440.85 381.60 441.30C382.13 441.75 382.26 442.09 382.16 442.81C382.07 443.52 381.51 444.63 381.03 445.59C380.56 446.56 379.93 447.70 379.30 448.62C378.67 449.53 377.94 450.54 377.26 451.08C376.58 451.62 375.82 451.84 375.22 451.84C374.63 451.84 373.99 451.56 373.68 451.08C373.36 450.60 373.27 449.80 373.34 448.93C373.41 448.07 373.73 446.84 374.09 445.87C374.46 444.90 375.00 443.94 375.53 443.13C376.05 442.32 376.68 441.52 377.26 441.02C377.84 440.52 378.27 440.06 379.00 440.10Z" fill="none" stroke="#e3882f" stroke-width="0.5" opacity="0.85"/>
<path d="M377.91 442.49C378.39 442.53 379.28 442.98 379.63 443.28C379.98 443.58 380.06 443.80 380.00 444.28C379.94 444.75 379.57 445.47 379.26 446.11C378.94 446.75 378.53 447.50 378.11 448.10C377.70 448.70 377.22 449.37 376.77 449.72C376.32 450.08 375.82 450.22 375.43 450.22C375.04 450.22 374.62 450.04 374.41 449.72C374.21 449.40 374.14 448.88 374.19 448.31C374.23 447.74 374.45 446.93 374.69 446.29C374.93 445.65 375.28 445.02 375.63 444.49C375.98 443.95 376.39 443.43 376.77 443.10C377.15 442.77 377.44 442.46 377.91 442.49Z" fill="none" stroke="#e3882f" stroke-width="0.5" opacity="0.85"/>
<path d="M376.60 445.40C376.78 445.41 377.11 445.58 377.24 445.69C377.36 445.80 377.40 445.88 377.37 446.06C377.35 446.23 377.21 446.50 377.10 446.74C376.98 446.97 376.83 447.25 376.67 447.47C376.52 447.70 376.34 447.94 376.18 448.07C376.01 448.20 375.83 448.26 375.68 448.26C375.54 448.26 375.38 448.19 375.30 448.07C375.23 447.96 375.20 447.76 375.22 447.55C375.24 447.34 375.32 447.04 375.40 446.80C375.49 446.57 375.63 446.33 375.75 446.13C375.88 445.94 376.04 445.74 376.18 445.62C376.32 445.50 376.42 445.39 376.60 445.40Z" fill="#e07b18"/>
<text x="405.00" y="421.50" font-size="8.0" text-anchor="end" fill="#141414" stroke="#141414">24.71%</text>
<rect x="410.40" y="413.80" width="48.00" height="46.90" fill="#fff" stroke="#c2c2c2" stroke-width="0.6"/>
<line x1="410.40" y1="443.40" x2="458.40" y2="443.40" stroke="#6e6e6e" stroke-width="0.6"/>
<line x1="430.60" y1="413.80" x2="430.60" y2="460.70" stroke="#6e6e6e" stroke-width="0.6"/>
<line x1="410.40" y1="423.80" x2="411.40" y2="423.80" stroke="#999" stroke-width="0.4"/>
<line x1="410.40" y1="434.30" x2="411.40" y2="434.30" stroke="#999" stroke-width="0.4"/>
<line x1="410.40" y1="450.80" x2="411.40" y2="450.80" stroke="#999" stroke-width="0.4"/>
<line x1="420.40" y1="460.70" x2="420.40" y2="459.70" stroke="#999" stroke-width="0.4"/>
<line x1="430.90" y1="460.70" x2="430.90" y2="459.70" stroke="#999" stroke-width="0.4"/>
<line x1="447.40" y1="460.70" x2="447.40" y2="459.70" stroke="#999" stroke-width="0.4"/>
<path d="M436.50 424.33C438.42 424.46 442.00 426.44 443.40 427.72C444.80 429.00 445.15 429.98 444.90 432.01C444.65 434.05 443.17 437.17 441.90 439.92C440.63 442.67 438.97 445.91 437.30 448.51C435.63 451.11 433.70 453.99 431.90 455.52C430.10 457.04 428.08 457.66 426.50 457.66C424.92 457.66 423.23 456.89 422.40 455.52C421.57 454.14 421.32 451.88 421.50 449.41C421.68 446.95 422.53 443.46 423.50 440.71C424.47 437.96 425.90 435.21 427.30 432.92C428.70 430.62 430.37 428.36 431.90 426.93C433.43 425.50 434.58 424.20 436.50 424.33Z" fill="#22ac22"/>
<path d="M435.49 426.71C437.18 426.83 440.33 428.57 441.56 429.70C442.80 430.82 443.10 431.69 442.88 433.48C442.66 435.27 441.36 438.02 440.24 440.44C439.13 442.86 437.66 445.71 436.20 447.99C434.73 450.28 433.03 452.82 431.44 454.16C429.86 455.50 428.09 456.05 426.69 456.05C425.30 456.05 423.82 455.37 423.08 454.16C422.35 452.95 422.13 450.96 422.29 448.79C422.45 446.62 423.20 443.55 424.05 441.13C424.90 438.71 426.16 436.29 427.40 434.27C428.63 432.25 430.09 430.26 431.44 429.00C432.79 427.74 433.81 426.60 435.49 426.71Z" fill="#bde6bd"/>
<path d="M434.15 429.90C435.53 429.99 438.11 431.42 439.12 432.34C440.12 433.26 440.38 433.96 440.20 435.43C440.02 436.89 438.95 439.14 438.04 441.12C437.12 443.10 435.92 445.44 434.72 447.31C433.52 449.18 432.13 451.25 430.84 452.35C429.54 453.45 428.09 453.90 426.95 453.90C425.81 453.90 424.60 453.34 424.00 452.35C423.40 451.36 423.22 449.73 423.35 447.96C423.48 446.18 424.09 443.67 424.79 441.69C425.48 439.71 426.52 437.73 427.52 436.08C428.53 434.43 429.73 432.80 430.84 431.77C431.94 430.74 432.77 429.80 434.15 429.90Z" fill="none" stroke="#38b438" stroke-width="0.5" opacity="0.85"/>
<path d="M432.80 433.08C433.88 433.15 435.88 434.26 436.67 434.98C437.45 435.69 437.65 436.24 437.51 437.38C437.37 438.52 436.54 440.27 435.83 441.81C435.12 443.35 434.19 445.17 433.25 446.62C432.32 448.08 431.24 449.69 430.23 450.54C429.22 451.40 428.09 451.75 427.20 451.75C426.32 451.75 425.37 451.31 424.91 450.54C424.44 449.77 424.30 448.51 424.40 447.13C424.51 445.75 424.98 443.79 425.52 442.25C426.07 440.71 426.87 439.17 427.65 437.89C428.44 436.60 429.37 435.34 430.23 434.53C431.09 433.73 431.73 433.00 432.80 433.08Z" fill="none" stroke="#38b438" stroke-width="0.5" opacity="0.85"/>
<path d="M431.54 436.06C432.33 436.12 433.80 436.93 434.37 437.45C434.95 437.98 435.09 438.38 434.99 439.21C434.89 440.05 434.28 441.33 433.76 442.46C433.24 443.58 432.56 444.91 431.87 445.98C431.19 447.04 430.40 448.22 429.66 448.85C428.92 449.47 428.09 449.73 427.44 449.73C426.79 449.73 426.10 449.41 425.76 448.85C425.42 448.29 425.32 447.36 425.39 446.35C425.47 445.34 425.82 443.91 426.21 442.78C426.61 441.65 427.20 440.53 427.77 439.58C428.35 438.64 429.03 437.71 429.66 437.13C430.29 436.54 430.76 436.01 431.54 436.06Z" fill="none" stroke="#38b438" stroke-width="0.5" opacity="0.85"/>
<path d="M430.37 438.85C430.89 438.88 431.85 439.42 432.23 439.76C432.61 440.11 432.70 440.37 432.64 440.92C432.57 441.47 432.17 442.31 431.83 443.06C431.48 443.80 431.03 444.67 430.58 445.38C430.13 446.08 429.61 446.86 429.13 447.27C428.64 447.68 428.10 447.85 427.67 447.85C427.24 447.85 426.79 447.64 426.56 447.27C426.34 446.90 426.27 446.29 426.32 445.62C426.37 444.95 426.60 444.01 426.86 443.27C427.12 442.53 427.51 441.79 427.88 441.17C428.26 440.54 428.71 439.93 429.13 439.55C429.54 439.16 429.85 438.81 430.37 438.85Z" fill="none" stroke="#38b438" stroke-width="0.5" opacity="0.85"/>
<path d="M428.94 442.23C429.13 442.24 429.49 442.44 429.63 442.57C429.77 442.69 429.80 442.79 429.78 443.00C429.75 443.20 429.61 443.51 429.48 443.79C429.35 444.06 429.19 444.39 429.02 444.65C428.85 444.91 428.66 445.19 428.48 445.35C428.30 445.50 428.10 445.56 427.94 445.56C427.78 445.56 427.61 445.48 427.53 445.35C427.45 445.21 427.42 444.98 427.44 444.74C427.46 444.49 427.54 444.14 427.64 443.87C427.74 443.59 427.88 443.32 428.02 443.09C428.16 442.86 428.33 442.63 428.48 442.49C428.63 442.34 428.75 442.21 428.94 442.23Z" fill="#22ac22"/>
<text x="457.00" y="421.50" font-size="8.0" text-anchor="end" fill="#141414" stroke="#141414">34.52%</text>
<rect x="462.20" y="413.80" width="48.00" height="46.90" fill="#fff" stroke="#c2c2c2" stroke-width="0.6"/>
<line x1="462.20" y1="443.40" x2="510.20" y2="443.40" stroke="#6e6e6e" stroke-width="0.6"/>
<line x1="482.40" y1="413.80" x2="482.40" y2="460.70" stroke="#6e6e6e" stroke-width="0.6"/>
<line x1="462.20" y1="423.80" x2="463.20" y2="423.80" stroke="#999" stroke-width="0.4"/>
<line x1="462.20" y1="434.30" x2="463.20" y2="434.30" stroke="#999" stroke-width="0.4"/>
<line x1="462.20" y1="450.80" x2="463.20" y2="450.80" stroke="#999" stroke-width="0.4"/>
<line x1="472.20" y1="460.70" x2="472.20" y2="459.70" stroke="#999" stroke-width="0.4"/>
<line x1="482.70" y1="460.70" x2="482.70" y2="459.70" stroke="#999" stroke-width="0.4"/>
<line x1="499.20" y1="460.70" x2="499.20" y2="459.70" stroke="#999" stroke-width="0.4"/>
<path d="M488.08 421.95C489.91 422.09 493.31 424.14 494.64 425.46C495.97 426.79 496.30 427.80 496.06 429.91C495.83 432.01 494.42 435.25 493.21 438.10C492.01 440.94 490.43 444.30 488.85 446.99C487.26 449.68 485.42 452.66 483.71 454.24C482.00 455.82 480.09 456.47 478.58 456.47C477.08 456.47 475.48 455.67 474.69 454.24C473.90 452.82 473.66 450.48 473.83 447.93C474.01 445.37 474.82 441.76 475.74 438.92C476.65 436.07 478.02 433.22 479.35 430.84C480.68 428.46 482.26 426.12 483.71 424.64C485.17 423.16 486.26 421.82 488.08 421.95Z" fill="#1f78dc"/>
<path d="M487.13 424.42C488.73 424.54 491.73 426.34 492.90 427.51C494.07 428.68 494.36 429.57 494.15 431.42C493.94 433.28 492.70 436.13 491.64 438.63C490.58 441.14 489.19 444.09 487.80 446.46C486.40 448.82 484.79 451.45 483.28 452.84C481.78 454.23 480.09 454.80 478.77 454.80C477.44 454.80 476.04 454.09 475.34 452.84C474.64 451.59 474.43 449.53 474.59 447.28C474.74 445.03 475.45 441.86 476.26 439.35C477.07 436.85 478.27 434.34 479.44 432.25C480.61 430.15 482.00 428.10 483.28 426.79C484.56 425.49 485.53 424.30 487.13 424.42Z" fill="#bcd6f4"/>
<path d="M485.85 427.72C487.16 427.82 489.61 429.29 490.57 430.24C491.53 431.20 491.77 431.93 491.60 433.45C491.43 434.96 490.41 437.29 489.54 439.34C488.68 441.39 487.54 443.81 486.40 445.75C485.26 447.68 483.94 449.83 482.70 450.97C481.47 452.11 480.09 452.57 479.01 452.57C477.93 452.57 476.78 451.99 476.21 450.97C475.64 449.94 475.47 448.26 475.59 446.42C475.72 444.58 476.30 441.98 476.96 439.93C477.62 437.88 478.60 435.83 479.56 434.12C480.52 432.41 481.66 430.72 482.70 429.66C483.75 428.59 484.54 427.62 485.85 427.72Z" fill="none" stroke="#3586e0" stroke-width="0.5" opacity="0.85"/>
<path d="M484.57 431.01C485.59 431.09 487.50 432.24 488.24 432.98C488.99 433.72 489.18 434.29 489.04 435.47C488.91 436.65 488.12 438.46 487.45 440.05C486.77 441.65 485.89 443.53 485.00 445.03C484.11 446.54 483.08 448.21 482.13 449.10C481.17 449.98 480.10 450.34 479.25 450.34C478.41 450.34 477.52 449.89 477.07 449.10C476.63 448.30 476.50 446.99 476.59 445.56C476.69 444.13 477.14 442.11 477.66 440.51C478.17 438.92 478.93 437.32 479.68 435.99C480.42 434.66 481.31 433.35 482.13 432.52C482.94 431.69 483.55 430.94 484.57 431.01Z" fill="none" stroke="#3586e0" stroke-width="0.5" opacity="0.85"/>
<path d="M483.38 434.10C484.12 434.16 485.52 435.00 486.06 435.54C486.61 436.08 486.75 436.50 486.65 437.36C486.55 438.23 485.97 439.55 485.48 440.72C484.99 441.89 484.34 443.26 483.69 444.37C483.04 445.47 482.29 446.69 481.59 447.34C480.88 447.99 480.10 448.25 479.48 448.25C478.87 448.25 478.21 447.92 477.88 447.34C477.56 446.76 477.46 445.80 477.53 444.75C477.61 443.70 477.94 442.22 478.31 441.06C478.69 439.89 479.25 438.72 479.79 437.75C480.34 436.77 480.99 435.81 481.59 435.20C482.18 434.60 482.63 434.05 483.38 434.10Z" fill="none" stroke="#3586e0" stroke-width="0.5" opacity="0.85"/>
<path d="M482.26 436.98C482.75 437.02 483.67 437.57 484.03 437.93C484.39 438.29 484.48 438.56 484.41 439.13C484.35 439.70 483.97 440.57 483.64 441.34C483.32 442.11 482.89 443.02 482.46 443.74C482.04 444.47 481.54 445.28 481.08 445.70C480.62 446.13 480.10 446.30 479.69 446.30C479.29 446.30 478.86 446.09 478.64 445.70C478.43 445.32 478.37 444.69 478.41 444.00C478.46 443.31 478.68 442.33 478.93 441.56C479.17 440.80 479.54 440.03 479.90 439.38C480.26 438.74 480.69 438.11 481.08 437.71C481.47 437.31 481.77 436.95 482.26 436.98Z" fill="none" stroke="#3586e0" stroke-width="0.5" opacity="0.85"/>
<path d="M480.90 440.48C481.09 440.50 481.43 440.70 481.56 440.84C481.69 440.97 481.72 441.07 481.70 441.28C481.68 441.49 481.54 441.81 481.42 442.10C481.30 442.38 481.14 442.72 480.98 442.99C480.82 443.26 480.64 443.56 480.47 443.71C480.30 443.87 480.10 443.94 479.95 443.94C479.80 443.94 479.64 443.86 479.56 443.71C479.48 443.57 479.46 443.34 479.48 443.08C479.50 442.83 479.58 442.47 479.67 442.18C479.76 441.90 479.90 441.61 480.03 441.37C480.16 441.14 480.32 440.90 480.47 440.75C480.61 440.61 480.72 440.47 480.90 440.48Z" fill="#1f78dc"/>
<text x="508.70" y="421.50" font-size="8.0" text-anchor="end" fill="#141414" stroke="#141414">43.72%</text>
<rect x="513.40" y="413.80" width="48.00" height="46.90" fill="#fff" stroke="#c2c2c2" stroke-width="0.6"/>
<line x1="513.40" y1="443.40" x2="561.40" y2="443.40" stroke="#6e6e6e" stroke-width="0.6"/>
<line x1="533.60" y1="413.80" x2="533.60" y2="460.70" stroke="#6e6e6e" stroke-width="0.6"/>
<line x1="513.40" y1="423.80" x2="514.40" y2="423.80" stroke="#999" stroke-width="0.4"/>
<line x1="513.40" y1="434.30" x2="514.40" y2="434.30" stroke="#999" stroke-width="0.4"/>
<line x1="513.40" y1="450.80" x2="514.40" y2="450.80" stroke="#999" stroke-width="0.4"/>
<line x1="523.40" y1="460.70" x2="523.40" y2="459.70" stroke="#999" stroke-width="0.4"/>
<line x1="533.90" y1="460.70" x2="533.90" y2="459.70" stroke="#999" stroke-width="0.4"/>
<line x1="550.40" y1="460.70" x2="550.40" y2="459.70" stroke="#999" stroke-width="0.4"/>
<path d="M539.90 420.03C541.82 420.17 545.40 422.31 546.80 423.69C548.20 425.07 548.55 426.13 548.30 428.33C548.05 430.52 546.57 433.90 545.30 436.87C544.03 439.84 542.37 443.33 540.70 446.14C539.03 448.95 537.10 452.06 535.30 453.70C533.50 455.35 531.48 456.02 529.90 456.02C528.32 456.02 526.63 455.19 525.80 453.70C524.97 452.22 524.72 449.78 524.90 447.12C525.08 444.45 525.93 440.69 526.90 437.72C527.87 434.75 529.30 431.78 530.70 429.30C532.10 426.82 533.77 424.38 535.30 422.84C536.83 421.29 537.98 419.89 539.90 420.03Z" fill="#e02424"/>
<path d="M538.89 422.61C540.58 422.73 543.73 424.61 544.96 425.83C546.20 427.05 546.50 427.98 546.28 429.91C546.06 431.84 544.76 434.81 543.64 437.42C542.53 440.04 541.06 443.11 539.60 445.58C538.13 448.05 536.43 450.79 534.84 452.24C533.26 453.69 531.49 454.28 530.09 454.28C528.70 454.28 527.22 453.55 526.48 452.24C525.75 450.93 525.53 448.79 525.69 446.44C525.85 444.10 526.60 440.79 527.45 438.18C528.30 435.56 529.56 432.95 530.80 430.77C532.03 428.59 533.49 426.44 534.84 425.08C536.19 423.72 537.21 422.48 538.89 422.61Z" fill="#f6bdbd"/>
<path d="M537.55 426.04C538.93 426.15 541.51 427.68 542.52 428.68C543.52 429.67 543.78 430.44 543.60 432.02C543.42 433.60 542.35 436.03 541.44 438.17C540.52 440.30 539.32 442.82 538.12 444.84C536.92 446.86 535.53 449.10 534.24 450.29C532.94 451.47 531.49 451.96 530.35 451.96C529.21 451.96 528.00 451.36 527.40 450.29C526.80 449.22 526.62 447.46 526.75 445.54C526.88 443.63 527.49 440.92 528.19 438.78C528.88 436.64 529.92 434.51 530.92 432.72C531.93 430.93 533.13 429.18 534.24 428.06C535.34 426.95 536.17 425.94 537.55 426.04Z" fill="none" stroke="#e33a3a" stroke-width="0.5" opacity="0.85"/>
<path d="M536.20 429.48C537.28 429.56 539.28 430.75 540.07 431.53C540.85 432.30 541.05 432.90 540.91 434.13C540.77 435.36 539.94 437.25 539.23 438.91C538.52 440.57 537.59 442.53 536.65 444.10C535.72 445.67 534.64 447.41 533.63 448.34C532.62 449.26 531.49 449.63 530.60 449.63C529.72 449.63 528.77 449.17 528.31 448.34C527.84 447.50 527.70 446.14 527.80 444.65C527.91 443.16 528.38 441.05 528.92 439.39C529.47 437.72 530.27 436.06 531.05 434.67C531.84 433.28 532.77 431.92 533.63 431.05C534.49 430.19 535.13 429.40 536.20 429.48Z" fill="none" stroke="#e33a3a" stroke-width="0.5" opacity="0.85"/>
<path d="M534.94 432.70C535.73 432.76 537.20 433.63 537.77 434.20C538.35 434.77 538.49 435.20 538.39 436.10C538.29 437.00 537.68 438.39 537.16 439.60C536.64 440.82 535.96 442.25 535.27 443.40C534.59 444.56 533.80 445.83 533.06 446.51C532.32 447.18 531.49 447.46 530.84 447.46C530.19 447.46 529.50 447.11 529.16 446.51C528.82 445.90 528.72 444.90 528.79 443.80C528.87 442.71 529.22 441.17 529.61 439.95C530.01 438.74 530.60 437.52 531.17 436.50C531.75 435.48 532.43 434.48 533.06 433.85C533.69 433.22 534.16 432.64 534.94 432.70Z" fill="none" stroke="#e33a3a" stroke-width="0.5" opacity="0.85"/>
<path d="M533.77 435.71C534.29 435.74 535.25 436.32 535.63 436.69C536.01 437.07 536.10 437.35 536.04 437.95C535.97 438.54 535.57 439.45 535.23 440.25C534.88 441.05 534.43 442.00 533.98 442.76C533.53 443.51 533.01 444.35 532.53 444.80C532.04 445.24 531.50 445.42 531.07 445.42C530.64 445.42 530.19 445.20 529.96 444.80C529.74 444.40 529.67 443.74 529.72 443.02C529.77 442.30 530.00 441.28 530.26 440.48C530.52 439.68 530.91 438.88 531.28 438.21C531.66 437.54 532.11 436.88 532.53 436.46C532.94 436.05 533.25 435.67 533.77 435.71Z" fill="none" stroke="#e33a3a" stroke-width="0.5" opacity="0.85"/>
<path d="M532.34 439.36C532.53 439.37 532.89 439.58 533.03 439.72C533.17 439.86 533.21 439.97 533.18 440.19C533.16 440.41 533.01 440.74 532.88 441.04C532.75 441.34 532.59 441.69 532.42 441.97C532.25 442.25 532.06 442.56 531.88 442.72C531.70 442.89 531.50 442.96 531.34 442.96C531.18 442.96 531.01 442.87 530.93 442.72C530.85 442.58 530.82 442.33 530.84 442.07C530.86 441.80 530.94 441.42 531.04 441.13C531.14 440.83 531.28 440.53 531.42 440.28C531.56 440.04 531.73 439.79 531.88 439.64C532.03 439.48 532.15 439.34 532.34 439.36Z" fill="#e02424"/>
<text x="560.00" y="421.50" font-size="8.0" text-anchor="end" fill="#141414" stroke="#141414">55.84%</text>
<text x="291.80" y="435.80" font-size="8" text-anchor="middle" transform="rotate(-90 291.80 435.80)" fill="#141414" stroke="#141414">Lymph node</text>
<text x="302.80" y="430.80" font-size="8" text-anchor="middle" transform="rotate(-90 302.80 430.80)" fill="#141414" stroke="#141414">PE-Cy7-CD86</text>
<path d="M300.1 458.6V470.4H333" fill="none" stroke="#111" stroke-width="1.0"/>
<path d="M297.1 462.5L300.1 458.6L303.1 462.5" fill="none" stroke="#111" stroke-width="0.9"/>
<path d="M329.1 467.4L333 470.4L329.1 473.4" fill="none" stroke="#111" stroke-width="0.9"/>
<text x="338.70" y="473.50" font-size="7.9" fill="#141414" stroke="#141414">FITC-CD80</text>
<text x="287.20" y="494.85" font-size="12.5" font-weight="bold" fill="#000">i</text>
<text x="332.50" y="507.10" font-size="8" text-anchor="middle" fill="#141414" stroke="#141414">Saline</text>
<text x="382.40" y="507.10" font-size="8" text-anchor="middle" fill="#141414" stroke="#141414">Saline+US</text>
<text x="434.60" y="507.10" font-size="8" text-anchor="middle" fill="#141414" stroke="#141414">SN+US</text>
<text x="468.20" y="507.10" font-size="8" fill="#141414" stroke="#141414"><tspan font-size="5.20" dy="-2.88">man</tspan><tspan dy="2.88">SN+US</tspan></text>
<text x="517.70" y="507.10" font-size="8" fill="#141414" stroke="#141414"><tspan font-size="5.20" dy="-2.88">man</tspan><tspan dy="2.88">SNI+US</tspan></text>
<filter id="hz" x="-20%" y="-20%" width="140%" height="140%"><feGaussianBlur stdDeviation="1.1"/></filter>
<rect x="308.30" y="513.40" width="48.00" height="46.90" fill="#fff" stroke="#c2c2c2" stroke-width="0.6"/>
<line x1="308.30" y1="537.30" x2="356.30" y2="537.30" stroke="#6e6e6e" stroke-width="0.6"/>
<line x1="326.10" y1="513.40" x2="326.10" y2="560.30" stroke="#6e6e6e" stroke-width="0.6"/>
<line x1="308.30" y1="523.40" x2="309.30" y2="523.40" stroke="#999" stroke-width="0.4"/>
<line x1="308.30" y1="533.90" x2="309.30" y2="533.90" stroke="#999" stroke-width="0.4"/>
<line x1="308.30" y1="550.40" x2="309.30" y2="550.40" stroke="#999" stroke-width="0.4"/>
<line x1="318.30" y1="560.30" x2="318.30" y2="559.30" stroke="#999" stroke-width="0.4"/>
<line x1="328.80" y1="560.30" x2="328.80" y2="559.30" stroke="#999" stroke-width="0.4"/>
<line x1="345.30" y1="560.30" x2="345.30" y2="559.30" stroke="#999" stroke-width="0.4"/>
<g transform="translate(308.3 550.9) scale(1 1.0) translate(0 -37.5)">
<path d="M6.1,37.2 L12.7,26.5 Q15,23.5 19,19.5 Q23,12 27,10 Q29.5,9.5 28.5,12.5 Q26,18 22,21.5 Q20,24.5 21,27.5 Q23,31 29.6,34.2 Q33,36 33.1,37.5 Q20,39.5 6.1,37.2 Z" fill="#141414" opacity="0.5" stroke="#141414" stroke-width="4.5" stroke-linejoin="round" filter="url(#hz)"/>
<path d="M6.1,37.2 L12.7,26.5 Q15,23.5 19,19.5 Q23,12 27,10 Q29.5,9.5 28.5,12.5 Q26,18 22,21.5 Q20,24.5 21,27.5 Q23,31 29.6,34.2 Q33,36 33.1,37.5 Q20,39.5 6.1,37.2 Z" fill="#bdbdbd" stroke="#141414" stroke-width="0.7" stroke-linejoin="round"/>
<path d="M9.5,36.6 Q15,30 21,28.5 Q26,31.5 30,35.8 Q20,38 9.5,36.6 Z" fill="#fff" fill-opacity="0.7"/>
<path d="M10.5,30 L12.7,26.5 Q15,23.5 19,19.5 Q23,12 27,10.2 Q29,10 28.2,12.5 Q26,18 22,21.5 Q20,24.5 21,27.5 Q23,31 29.6,34.2" fill="none" stroke="#141414" stroke-width="1.5" stroke-linejoin="round" stroke-linecap="round"/>
<ellipse cx="13.5" cy="36.6" rx="6.1" ry="1.4" fill="none" stroke="#141414" stroke-width="0.5"/>
<ellipse cx="15.5" cy="36.0" rx="9.5" ry="2.3" fill="none" stroke="#141414" stroke-width="0.4" opacity="0.8"/>
<ellipse cx="24.2" cy="15.2" rx="4.3" ry="1.25" fill="#fff" fill-opacity="0.92" transform="rotate(-58 24.2 15.2)"/>
</g>
<text x="355.00" y="522.00" font-size="8.0" text-anchor="end" fill="#141414" stroke="#141414">2.76%</text>
<rect x="359.50" y="513.40" width="48.00" height="46.90" fill="#fff" stroke="#c2c2c2" stroke-width="0.6"/>
<line x1="359.50" y1="537.30" x2="407.50" y2="537.30" stroke="#6e6e6e" stroke-width="0.6"/>
<line x1="377.30" y1="513.40" x2="377.30" y2="560.30" stroke="#6e6e6e" stroke-width="0.6"/>
<line x1="359.50" y1="523.40" x2="360.50" y2="523.40" stroke="#999" stroke-width="0.4"/>
<line x1="359.50" y1="533.90" x2="360.50" y2="533.90" stroke="#999" stroke-width="0.4"/>
<line x1="359.50" y1="550.40" x2="360.50" y2="550.40" stroke="#999" stroke-width="0.4"/>
<line x1="369.50" y1="560.30" x2="369.50" y2="559.30" stroke="#999" stroke-width="0.4"/>
<line x1="380.00" y1="560.30" x2="380.00" y2="559.30" stroke="#999" stroke-width="0.4"/>
<line x1="396.50" y1="560.30" x2="396.50" y2="559.30" stroke="#999" stroke-width="0.4"/>
<g transform="translate(359.5 550.9) scale(1 1.01) translate(0 -37.5)">
<path d="M6.1,37.2 L12.7,26.5 Q15,23.5 19,19.5 Q23,12 27,10 Q29.5,9.5 28.5,12.5 Q26,18 22,21.5 Q20,24.5 21,27.5 Q23,31 29.6,34.2 Q33,36 33.1,37.5 Q20,39.5 6.1,37.2 Z" fill="#e07b18" opacity="0.5" stroke="#e07b18" stroke-width="4.5" stroke-linejoin="round" filter="url(#hz)"/>
<path d="M6.1,37.2 L12.7,26.5 Q15,23.5 19,19.5 Q23,12 27,10 Q29.5,9.5 28.5,12.5 Q26,18 22,21.5 Q20,24.5 21,27.5 Q23,31 29.6,34.2 Q33,36 33.1,37.5 Q20,39.5 6.1,37.2 Z" fill="#f1c497" stroke="#e07b18" stroke-width="0.7" stroke-linejoin="round"/>
<path d="M9.5,36.6 Q15,30 21,28.5 Q26,31.5 30,35.8 Q20,38 9.5,36.6 Z" fill="#fff" fill-opacity="0.7"/>
<path d="M10.5,30 L12.7,26.5 Q15,23.5 19,19.5 Q23,12 27,10.2 Q29,10 28.2,12.5 Q26,18 22,21.5 Q20,24.5 21,27.5 Q23,31 29.6,34.2" fill="none" stroke="#e07b18" stroke-width="1.2" stroke-linejoin="round" stroke-linecap="round"/>
<ellipse cx="13.5" cy="36.6" rx="6.1" ry="1.4" fill="none" stroke="#e07b18" stroke-width="0.5"/>
<ellipse cx="15.5" cy="36.0" rx="9.5" ry="2.3" fill="none" stroke="#e07b18" stroke-width="0.4" opacity="0.8"/>
<ellipse cx="24.2" cy="15.2" rx="4.3" ry="1.25" fill="#fff" fill-opacity="0.92" transform="rotate(-58 24.2 15.2)"/>
</g>
<text x="405.40" y="522.00" font-size="8.0" text-anchor="end" fill="#141414" stroke="#141414">2.71%</text>
<rect x="410.40" y="513.40" width="48.00" height="46.90" fill="#fff" stroke="#c2c2c2" stroke-width="0.6"/>
<line x1="410.40" y1="537.30" x2="458.40" y2="537.30" stroke="#6e6e6e" stroke-width="0.6"/>
<line x1="428.20" y1="513.40" x2="428.20" y2="560.30" stroke="#6e6e6e" stroke-width="0.6"/>
<line x1="410.40" y1="523.40" x2="411.40" y2="523.40" stroke="#999" stroke-width="0.4"/>
<line x1="410.40" y1="533.90" x2="411.40" y2="533.90" stroke="#999" stroke-width="0.4"/>
<line x1="410.40" y1="550.40" x2="411.40" y2="550.40" stroke="#999" stroke-width="0.4"/>
<line x1="420.40" y1="560.30" x2="420.40" y2="559.30" stroke="#999" stroke-width="0.4"/>
<line x1="430.90" y1="560.30" x2="430.90" y2="559.30" stroke="#999" stroke-width="0.4"/>
<line x1="447.40" y1="560.30" x2="447.40" y2="559.30" stroke="#999" stroke-width="0.4"/>
<g transform="translate(410.4 550.9) scale(1 1.18) translate(0 -37.5)">
<path d="M6.1,37.2 L12.7,26.5 Q15,23.5 19,19.5 Q23,12 27,10 Q29.5,9.5 28.5,12.5 Q26,18 22,21.5 Q20,24.5 21,27.5 Q23,31 29.6,34.2 Q33,36 33.1,37.5 Q20,39.5 6.1,37.2 Z" fill="#22ac22" opacity="0.5" stroke="#22ac22" stroke-width="4.5" stroke-linejoin="round" filter="url(#hz)"/>
<path d="M6.1,37.2 L12.7,26.5 Q15,23.5 19,19.5 Q23,12 27,10 Q29.5,9.5 28.5,12.5 Q26,18 22,21.5 Q20,24.5 21,27.5 Q23,31 29.6,34.2 Q33,36 33.1,37.5 Q20,39.5 6.1,37.2 Z" fill="#9cda9c" stroke="#22ac22" stroke-width="0.7" stroke-linejoin="round"/>
<path d="M9.5,36.6 Q15,30 21,28.5 Q26,31.5 30,35.8 Q20,38 9.5,36.6 Z" fill="#fff" fill-opacity="0.7"/>
<path d="M10.5,30 L12.7,26.5 Q15,23.5 19,19.5 Q23,12 27,10.2 Q29,10 28.2,12.5 Q26,18 22,21.5 Q20,24.5 21,27.5 Q23,31 29.6,34.2" fill="none" stroke="#22ac22" stroke-width="1.2" stroke-linejoin="round" stroke-linecap="round"/>
<ellipse cx="13.5" cy="36.6" rx="6.1" ry="1.4" fill="none" stroke="#22ac22" stroke-width="0.5"/>
<ellipse cx="15.5" cy="36.0" rx="9.5" ry="2.3" fill="none" stroke="#22ac22" stroke-width="0.4" opacity="0.8"/>
<ellipse cx="24.2" cy="15.2" rx="4.3" ry="1.25" fill="#fff" fill-opacity="0.92" transform="rotate(-58 24.2 15.2)"/>
</g>
<text x="456.60" y="522.00" font-size="8.0" text-anchor="end" fill="#141414" stroke="#141414">3.32%</text>
<rect x="462.20" y="513.40" width="48.00" height="46.90" fill="#fff" stroke="#c2c2c2" stroke-width="0.6"/>
<line x1="462.20" y1="537.30" x2="510.20" y2="537.30" stroke="#6e6e6e" stroke-width="0.6"/>
<line x1="480.00" y1="513.40" x2="480.00" y2="560.30" stroke="#6e6e6e" stroke-width="0.6"/>
<line x1="462.20" y1="523.40" x2="463.20" y2="523.40" stroke="#999" stroke-width="0.4"/>
<line x1="462.20" y1="533.90" x2="463.20" y2="533.90" stroke="#999" stroke-width="0.4"/>
<line x1="462.20" y1="550.40" x2="463.20" y2="550.40" stroke="#999" stroke-width="0.4"/>
<line x1="472.20" y1="560.30" x2="472.20" y2="559.30" stroke="#999" stroke-width="0.4"/>
<line x1="482.70" y1="560.30" x2="482.70" y2="559.30" stroke="#999" stroke-width="0.4"/>
<line x1="499.20" y1="560.30" x2="499.20" y2="559.30" stroke="#999" stroke-width="0.4"/>
<g transform="translate(462.2 550.9) scale(1 1.05) translate(0 -37.5)">
<path d="M6.1,37.2 L12.7,26.5 Q15,23.5 19,19.5 Q23,12 27,10 Q29.5,9.5 28.5,12.5 Q26,18 22,21.5 Q20,24.5 21,27.5 Q23,31 29.6,34.2 Q33,36 33.1,37.5 Q20,39.5 6.1,37.2 Z" fill="#1f78dc" opacity="0.5" stroke="#1f78dc" stroke-width="4.5" stroke-linejoin="round" filter="url(#hz)"/>
<path d="M6.1,37.2 L12.7,26.5 Q15,23.5 19,19.5 Q23,12 27,10 Q29.5,9.5 28.5,12.5 Q26,18 22,21.5 Q20,24.5 21,27.5 Q23,31 29.6,34.2 Q33,36 33.1,37.5 Q20,39.5 6.1,37.2 Z" fill="#9ac2ef" stroke="#1f78dc" stroke-width="0.7" stroke-linejoin="round"/>
<path d="M9.5,36.6 Q15,30 21,28.5 Q26,31.5 30,35.8 Q20,38 9.5,36.6 Z" fill="#fff" fill-opacity="0.7"/>
<path d="M10.5,30 L12.7,26.5 Q15,23.5 19,19.5 Q23,12 27,10.2 Q29,10 28.2,12.5 Q26,18 22,21.5 Q20,24.5 21,27.5 Q23,31 29.6,34.2" fill="none" stroke="#1f78dc" stroke-width="1.2" stroke-linejoin="round" stroke-linecap="round"/>
<ellipse cx="13.5" cy="36.6" rx="6.1" ry="1.4" fill="none" stroke="#1f78dc" stroke-width="0.5"/>
<ellipse cx="15.5" cy="36.0" rx="9.5" ry="2.3" fill="none" stroke="#1f78dc" stroke-width="0.4" opacity="0.8"/>
<ellipse cx="24.2" cy="15.2" rx="4.3" ry="1.25" fill="#fff" fill-opacity="0.92" transform="rotate(-58 24.2 15.2)"/>
</g>
<text x="509.20" y="522.00" font-size="8.0" text-anchor="end" fill="#141414" stroke="#141414">4.99%</text>
<rect x="513.40" y="513.40" width="48.00" height="46.90" fill="#fff" stroke="#c2c2c2" stroke-width="0.6"/>
<line x1="513.40" y1="537.30" x2="561.40" y2="537.30" stroke="#6e6e6e" stroke-width="0.6"/>
<line x1="531.20" y1="513.40" x2="531.20" y2="560.30" stroke="#6e6e6e" stroke-width="0.6"/>
<line x1="513.40" y1="523.40" x2="514.40" y2="523.40" stroke="#999" stroke-width="0.4"/>
<line x1="513.40" y1="533.90" x2="514.40" y2="533.90" stroke="#999" stroke-width="0.4"/>
<line x1="513.40" y1="550.40" x2="514.40" y2="550.40" stroke="#999" stroke-width="0.4"/>
<line x1="523.40" y1="560.30" x2="523.40" y2="559.30" stroke="#999" stroke-width="0.4"/>
<line x1="533.90" y1="560.30" x2="533.90" y2="559.30" stroke="#999" stroke-width="0.4"/>
<line x1="550.40" y1="560.30" x2="550.40" y2="559.30" stroke="#999" stroke-width="0.4"/>
<g transform="translate(513.4 550.9) scale(1 1.05) translate(0 -37.5)">
<path d="M6.1,37.2 L12.7,26.5 Q15,23.5 19,19.5 Q23,12 27,10 Q29.5,9.5 28.5,12.5 Q26,18 22,21.5 Q20,24.5 21,27.5 Q23,31 29.6,34.2 Q33,36 33.1,37.5 Q20,39.5 6.1,37.2 Z" fill="#e02424" opacity="0.5" stroke="#e02424" stroke-width="4.5" stroke-linejoin="round" filter="url(#hz)"/>
<path d="M6.1,37.2 L12.7,26.5 Q15,23.5 19,19.5 Q23,12 27,10 Q29.5,9.5 28.5,12.5 Q26,18 22,21.5 Q20,24.5 21,27.5 Q23,31 29.6,34.2 Q33,36 33.1,37.5 Q20,39.5 6.1,37.2 Z" fill="#f19c9c" stroke="#e02424" stroke-width="0.7" stroke-linejoin="round"/>
<path d="M9.5,36.6 Q15,30 21,28.5 Q26,31.5 30,35.8 Q20,38 9.5,36.6 Z" fill="#fff" fill-opacity="0.7"/>
<path d="M10.5,30 L12.7,26.5 Q15,23.5 19,19.5 Q23,12 27,10.2 Q29,10 28.2,12.5 Q26,18 22,21.5 Q20,24.5 21,27.5 Q23,31 29.6,34.2" fill="none" stroke="#e02424" stroke-width="1.2" stroke-linejoin="round" stroke-linecap="round"/>
<ellipse cx="13.5" cy="36.6" rx="6.1" ry="1.4" fill="none" stroke="#e02424" stroke-width="0.5"/>
<ellipse cx="15.5" cy="36.0" rx="9.5" ry="2.3" fill="none" stroke="#e02424" stroke-width="0.4" opacity="0.8"/>
<ellipse cx="24.2" cy="15.2" rx="4.3" ry="1.25" fill="#fff" fill-opacity="0.92" transform="rotate(-58 24.2 15.2)"/>
</g>
<text x="558.30" y="522.00" font-size="8.0" text-anchor="end" fill="#141414" stroke="#141414">5.91%</text>
<text x="292.50" y="536.50" font-size="8" text-anchor="middle" transform="rotate(-90 292.50 536.50)" fill="#141414" stroke="#141414">Lung</text>
<text x="302.80" y="534.50" font-size="8" text-anchor="middle" transform="rotate(-90 302.80 534.50)" fill="#141414" stroke="#141414">PE-CD8</text>
<path d="M299.8 553.2V570.3H333.8" fill="none" stroke="#111" stroke-width="1.0"/>
<path d="M296.8 557.1L299.8 553.2L302.8 557.1" fill="none" stroke="#111" stroke-width="0.9"/>
<path d="M329.90000000000003 567.3L333.8 570.3L329.90000000000003 573.3" fill="none" stroke="#111" stroke-width="0.9"/>
<text x="336.20" y="573.30" font-size="8.1" fill="#141414" stroke="#141414">FITC-CD3</text>
<text x="2.00" y="600.00" font-size="12.5" font-weight="bold" fill="#000">j</text>
<text x="232.90" y="600.00" font-size="12.5" font-weight="bold" fill="#000">k</text>
<text x="466.10" y="600.00" font-size="12.5" font-weight="bold" fill="#000">l</text>
<rect x="45.55" y="669.11" width="6.10" height="5.19" fill="#fff" stroke="#3a3a3a" stroke-width="1.2"/>
<line x1="48.60" y1="667.89" x2="48.60" y2="670.34" stroke="#3a3a3a" stroke-width="0.8"/>
<line x1="47.00" y1="667.89" x2="50.20" y2="667.89" stroke="#3a3a3a" stroke-width="0.8"/>
<circle cx="46.41" cy="669.88" r="1.40" fill="none" stroke="#3a3a3a" stroke-width="0.9"/>
<circle cx="48.81" cy="668.01" r="1.40" fill="none" stroke="#3a3a3a" stroke-width="0.9"/>
<circle cx="50.50" cy="669.00" r="1.40" fill="none" stroke="#3a3a3a" stroke-width="0.9"/>
<rect x="57.35" y="669.28" width="6.10" height="5.02" fill="#fff" stroke="#ff9a1f" stroke-width="1.2"/>
<line x1="60.40" y1="668.05" x2="60.40" y2="670.50" stroke="#ff9a1f" stroke-width="0.8"/>
<line x1="58.80" y1="668.05" x2="62.00" y2="668.05" stroke="#ff9a1f" stroke-width="0.8"/>
<circle cx="58.62" cy="669.91" r="1.40" fill="none" stroke="#ff9a1f" stroke-width="0.9"/>
<circle cx="60.08" cy="668.17" r="1.40" fill="none" stroke="#ff9a1f" stroke-width="0.9"/>
<circle cx="62.57" cy="669.13" r="1.40" fill="none" stroke="#ff9a1f" stroke-width="0.9"/>
<rect x="69.15" y="661.64" width="6.10" height="12.66" fill="#fff" stroke="#6cc644" stroke-width="1.2"/>
<line x1="72.20" y1="660.62" x2="72.20" y2="662.66" stroke="#6cc644" stroke-width="0.8"/>
<line x1="70.60" y1="660.62" x2="73.80" y2="660.62" stroke="#6cc644" stroke-width="0.8"/>
<circle cx="70.51" cy="660.72" r="1.40" fill="none" stroke="#6cc644" stroke-width="0.9"/>
<circle cx="72.16" cy="660.72" r="1.40" fill="none" stroke="#6cc644" stroke-width="0.9"/>
<circle cx="73.88" cy="662.46" r="1.40" fill="none" stroke="#6cc644" stroke-width="0.9"/>
<rect x="80.95" y="639.74" width="6.10" height="34.56" fill="#fff" stroke="#1e90ff" stroke-width="1.2"/>
<line x1="84.00" y1="637.70" x2="84.00" y2="641.78" stroke="#1e90ff" stroke-width="0.8"/>
<line x1="82.40" y1="637.70" x2="85.60" y2="637.70" stroke="#1e90ff" stroke-width="0.8"/>
<circle cx="82.42" cy="638.02" r="1.40" fill="none" stroke="#1e90ff" stroke-width="0.9"/>
<circle cx="83.62" cy="637.90" r="1.40" fill="none" stroke="#1e90ff" stroke-width="0.9"/>
<circle cx="86.25" cy="639.30" r="1.40" fill="none" stroke="#1e90ff" stroke-width="0.9"/>
<rect x="92.95" y="626.51" width="6.10" height="47.79" fill="#fff" stroke="#ef4056" stroke-width="1.2"/>
<line x1="96.00" y1="622.83" x2="96.00" y2="630.18" stroke="#ef4056" stroke-width="0.8"/>
<line x1="94.40" y1="622.83" x2="97.60" y2="622.83" stroke="#ef4056" stroke-width="0.8"/>
<circle cx="93.87" cy="625.99" r="1.40" fill="none" stroke="#ef4056" stroke-width="0.9"/>
<circle cx="95.62" cy="623.20" r="1.40" fill="none" stroke="#ef4056" stroke-width="0.9"/>
<circle cx="97.85" cy="626.48" r="1.40" fill="none" stroke="#ef4056" stroke-width="0.9"/>
<line x1="38.70" y1="600.22" x2="38.70" y2="674.85" stroke="#111" stroke-width="1.1"/>
<line x1="38.15" y1="674.30" x2="107.15" y2="674.30" stroke="#111" stroke-width="1.1"/>
<line x1="35.30" y1="674.30" x2="38.70" y2="674.30" stroke="#111" stroke-width="1.0"/>
<text x="34.30" y="677.15" font-size="7.9" text-anchor="end" fill="#141414" stroke="#141414">0</text>
<line x1="35.30" y1="649.79" x2="38.70" y2="649.79" stroke="#111" stroke-width="1.0"/>
<text x="34.30" y="652.64" font-size="7.9" text-anchor="end" fill="#141414" stroke="#141414">60</text>
<line x1="35.30" y1="625.28" x2="38.70" y2="625.28" stroke="#111" stroke-width="1.0"/>
<text x="34.30" y="628.13" font-size="7.9" text-anchor="end" fill="#141414" stroke="#141414">120</text>
<line x1="35.30" y1="600.77" x2="38.70" y2="600.77" stroke="#111" stroke-width="1.0"/>
<text x="34.30" y="603.62" font-size="7.9" text-anchor="end" fill="#141414" stroke="#141414">180</text>
<line x1="48.60" y1="674.30" x2="48.60" y2="676.90" stroke="#111" stroke-width="1.0"/>
<text x="50.00" y="682.10" font-size="7.8" text-anchor="end" fill="#141414" stroke="#141414" transform="rotate(-45 50.00 682.10)">Saline</text>
<line x1="60.40" y1="674.30" x2="60.40" y2="676.90" stroke="#111" stroke-width="1.0"/>
<text x="64.20" y="682.10" font-size="7.8" text-anchor="end" fill="#141414" stroke="#141414" transform="rotate(-45 64.20 682.10)">Saline+US</text>
<line x1="72.20" y1="674.30" x2="72.20" y2="676.90" stroke="#111" stroke-width="1.0"/>
<text x="77.30" y="682.10" font-size="7.8" text-anchor="end" fill="#141414" stroke="#141414" transform="rotate(-45 77.30 682.10)">SN+US</text>
<line x1="84.00" y1="674.30" x2="84.00" y2="676.90" stroke="#111" stroke-width="1.0"/>
<text x="89.90" y="682.10" font-size="7.8" text-anchor="end" fill="#141414" stroke="#141414" transform="rotate(-45 89.90 682.10)"><tspan font-size="5.07" dy="-2.81">man</tspan><tspan dy="2.81">SNI+US</tspan></text>
<line x1="96.00" y1="674.30" x2="96.00" y2="676.90" stroke="#111" stroke-width="1.0"/>
<text x="103.80" y="682.10" font-size="7.8" text-anchor="end" fill="#141414" stroke="#141414" transform="rotate(-45 103.80 682.10)"><tspan font-size="5.07" dy="-2.81">man</tspan><tspan dy="2.81">SN+US</tspan></text>
<text x="59.15" y="645.70" font-size="5.6" text-anchor="middle" fill="#1c1c1c" stroke="#1c1c1c">P=0.0008</text>
<path d="M60.4 660.5V648.3H72.5V654.6" fill="none" stroke="#222" stroke-width="0.8"/>
<text x="71.50" y="628.60" font-size="5.6" text-anchor="middle" fill="#1c1c1c" stroke="#1c1c1c">P=0.0001</text>
<path d="M71.7 637.3V630.8H84.0V635.3" fill="none" stroke="#222" stroke-width="0.8"/>
<text x="83.70" y="612.70" font-size="5.6" text-anchor="middle" fill="#1c1c1c" stroke="#1c1c1c">P=0.0081</text>
<path d="M83.6 621.0V615.2H95.7V619.4" fill="none" stroke="#222" stroke-width="0.8"/>
<text x="18.40" y="641.80" font-size="8.6" text-anchor="middle" fill="#141414" stroke="#141414" textLength="76" lengthAdjust="spacingAndGlyphs" transform="rotate(-90 18.40 641.80)">IL-6 in lung (pg/mL)</text>
<rect x="160.45" y="663.71" width="6.10" height="10.59" fill="#fff" stroke="#3a3a3a" stroke-width="1.2"/>
<line x1="163.50" y1="662.62" x2="163.50" y2="664.81" stroke="#3a3a3a" stroke-width="0.8"/>
<line x1="161.90" y1="662.62" x2="165.10" y2="662.62" stroke="#3a3a3a" stroke-width="0.8"/>
<circle cx="161.96" cy="664.60" r="1.40" fill="none" stroke="#3a3a3a" stroke-width="0.9"/>
<circle cx="163.15" cy="662.73" r="1.40" fill="none" stroke="#3a3a3a" stroke-width="0.9"/>
<circle cx="165.67" cy="664.18" r="1.40" fill="none" stroke="#3a3a3a" stroke-width="0.9"/>
<rect x="172.15" y="664.08" width="6.10" height="10.22" fill="#fff" stroke="#ff9a1f" stroke-width="1.2"/>
<line x1="175.20" y1="661.89" x2="175.20" y2="666.27" stroke="#ff9a1f" stroke-width="0.8"/>
<line x1="173.60" y1="661.89" x2="176.80" y2="661.89" stroke="#ff9a1f" stroke-width="0.8"/>
<circle cx="173.44" cy="663.32" r="1.40" fill="none" stroke="#ff9a1f" stroke-width="0.9"/>
<circle cx="175.28" cy="662.11" r="1.40" fill="none" stroke="#ff9a1f" stroke-width="0.9"/>
<circle cx="177.16" cy="662.73" r="1.40" fill="none" stroke="#ff9a1f" stroke-width="0.9"/>
<rect x="183.95" y="651.67" width="6.10" height="22.63" fill="#fff" stroke="#6cc644" stroke-width="1.2"/>
<line x1="187.00" y1="648.38" x2="187.00" y2="654.95" stroke="#6cc644" stroke-width="0.8"/>
<line x1="185.40" y1="648.38" x2="188.60" y2="648.38" stroke="#6cc644" stroke-width="0.8"/>
<circle cx="185.04" cy="651.04" r="1.40" fill="none" stroke="#6cc644" stroke-width="0.9"/>
<circle cx="187.18" cy="648.71" r="1.40" fill="none" stroke="#6cc644" stroke-width="0.9"/>
<circle cx="189.26" cy="651.93" r="1.40" fill="none" stroke="#6cc644" stroke-width="0.9"/>
<rect x="195.85" y="642.00" width="6.10" height="32.30" fill="#fff" stroke="#1e90ff" stroke-width="1.2"/>
<line x1="198.90" y1="639.08" x2="198.90" y2="644.92" stroke="#1e90ff" stroke-width="0.8"/>
<line x1="197.30" y1="639.08" x2="200.50" y2="639.08" stroke="#1e90ff" stroke-width="0.8"/>
<circle cx="196.96" cy="640.78" r="1.40" fill="none" stroke="#1e90ff" stroke-width="0.9"/>
<circle cx="198.53" cy="639.37" r="1.40" fill="none" stroke="#1e90ff" stroke-width="0.9"/>
<circle cx="200.77" cy="641.04" r="1.40" fill="none" stroke="#1e90ff" stroke-width="0.9"/>
<rect x="207.75" y="617.54" width="6.10" height="56.76" fill="#fff" stroke="#ef4056" stroke-width="1.2"/>
<line x1="210.80" y1="614.26" x2="210.80" y2="620.83" stroke="#ef4056" stroke-width="0.8"/>
<line x1="209.20" y1="614.26" x2="212.40" y2="614.26" stroke="#ef4056" stroke-width="0.8"/>
<circle cx="208.80" cy="619.86" r="1.40" fill="none" stroke="#ef4056" stroke-width="0.9"/>
<circle cx="210.82" cy="614.59" r="1.40" fill="none" stroke="#ef4056" stroke-width="0.9"/>
<circle cx="212.49" cy="614.73" r="1.40" fill="none" stroke="#ef4056" stroke-width="0.9"/>
<line x1="153.80" y1="600.75" x2="153.80" y2="674.85" stroke="#111" stroke-width="1.1"/>
<line x1="153.25" y1="674.30" x2="221.95" y2="674.30" stroke="#111" stroke-width="1.1"/>
<line x1="150.40" y1="674.30" x2="153.80" y2="674.30" stroke="#111" stroke-width="1.0"/>
<text x="148.80" y="677.15" font-size="7.9" text-anchor="end" fill="#141414" stroke="#141414">0</text>
<line x1="150.40" y1="656.05" x2="153.80" y2="656.05" stroke="#111" stroke-width="1.0"/>
<text x="148.80" y="658.90" font-size="7.9" text-anchor="end" fill="#141414" stroke="#141414">100</text>
<line x1="150.40" y1="637.80" x2="153.80" y2="637.80" stroke="#111" stroke-width="1.0"/>
<text x="148.80" y="640.65" font-size="7.9" text-anchor="end" fill="#141414" stroke="#141414">200</text>
<line x1="150.40" y1="619.55" x2="153.80" y2="619.55" stroke="#111" stroke-width="1.0"/>
<text x="148.80" y="622.40" font-size="7.9" text-anchor="end" fill="#141414" stroke="#141414">300</text>
<line x1="150.40" y1="601.30" x2="153.80" y2="601.30" stroke="#111" stroke-width="1.0"/>
<text x="148.80" y="604.15" font-size="7.9" text-anchor="end" fill="#141414" stroke="#141414">400</text>
<line x1="163.50" y1="674.30" x2="163.50" y2="676.90" stroke="#111" stroke-width="1.0"/>
<text x="163.90" y="682.10" font-size="7.8" text-anchor="end" fill="#141414" stroke="#141414" transform="rotate(-45 163.90 682.10)">Saline</text>
<line x1="175.20" y1="674.30" x2="175.20" y2="676.90" stroke="#111" stroke-width="1.0"/>
<text x="179.40" y="682.10" font-size="7.8" text-anchor="end" fill="#141414" stroke="#141414" transform="rotate(-45 179.40 682.10)">Saline+US</text>
<line x1="187.00" y1="674.30" x2="187.00" y2="676.90" stroke="#111" stroke-width="1.0"/>
<text x="192.50" y="682.10" font-size="7.8" text-anchor="end" fill="#141414" stroke="#141414" transform="rotate(-45 192.50 682.10)">SN+US</text>
<line x1="198.90" y1="674.30" x2="198.90" y2="676.90" stroke="#111" stroke-width="1.0"/>
<text x="207.00" y="682.10" font-size="7.8" text-anchor="end" fill="#141414" stroke="#141414" transform="rotate(-45 207.00 682.10)"><tspan font-size="5.07" dy="-2.81">man</tspan><tspan dy="2.81">SNI+US</tspan></text>
<line x1="210.80" y1="674.30" x2="210.80" y2="676.90" stroke="#111" stroke-width="1.0"/>
<text x="220.10" y="682.10" font-size="7.8" text-anchor="end" fill="#141414" stroke="#141414" transform="rotate(-45 220.10 682.10)"><tspan font-size="5.07" dy="-2.81">man</tspan><tspan dy="2.81">SN+US</tspan></text>
<text x="173.20" y="637.50" font-size="5.6" text-anchor="middle" fill="#1c1c1c" stroke="#1c1c1c">P=0.0049</text>
<path d="M174.6 655.5V640.0H186.8V646.2" fill="none" stroke="#222" stroke-width="0.8"/>
<text x="184.85" y="620.70" font-size="5.6" text-anchor="middle" fill="#1c1c1c" stroke="#1c1c1c">P=0.0132</text>
<path d="M185.5 630.3V623.2H198.1V627.3" fill="none" stroke="#222" stroke-width="0.8"/>
<text x="197.25" y="605.10" font-size="5.6" text-anchor="middle" fill="#1c1c1c" stroke="#1c1c1c">P=0.0011</text>
<path d="M198.1 613.5V607.3H210.4V611.8" fill="none" stroke="#222" stroke-width="0.8"/>
<text x="131.80" y="645.00" font-size="8.6" text-anchor="middle" fill="#141414" stroke="#141414" textLength="88" lengthAdjust="spacingAndGlyphs" transform="rotate(-90 131.80 645.00)">TNF-α in lung (pg/mL)</text>
<rect x="275.55" y="618.07" width="6.10" height="56.23" fill="#fff" stroke="#3a3a3a" stroke-width="1.2"/>
<line x1="278.60" y1="610.16" x2="278.60" y2="625.99" stroke="#3a3a3a" stroke-width="0.8"/>
<line x1="277.00" y1="610.16" x2="280.20" y2="610.16" stroke="#3a3a3a" stroke-width="0.8"/>
<circle cx="276.49" cy="618.70" r="1.40" fill="none" stroke="#3a3a3a" stroke-width="0.9"/>
<circle cx="278.50" cy="610.96" r="1.40" fill="none" stroke="#3a3a3a" stroke-width="0.9"/>
<circle cx="280.60" cy="611.89" r="1.40" fill="none" stroke="#3a3a3a" stroke-width="0.9"/>
<rect x="287.25" y="618.80" width="6.10" height="55.50" fill="#fff" stroke="#ff9a1f" stroke-width="1.2"/>
<line x1="290.30" y1="612.72" x2="290.30" y2="624.89" stroke="#ff9a1f" stroke-width="0.8"/>
<line x1="288.70" y1="612.72" x2="291.90" y2="612.72" stroke="#ff9a1f" stroke-width="0.8"/>
<circle cx="288.01" cy="622.50" r="1.40" fill="none" stroke="#ff9a1f" stroke-width="0.9"/>
<circle cx="290.11" cy="613.33" r="1.40" fill="none" stroke="#ff9a1f" stroke-width="0.9"/>
<circle cx="292.60" cy="618.48" r="1.40" fill="none" stroke="#ff9a1f" stroke-width="0.9"/>
<rect x="298.95" y="630.73" width="6.10" height="43.57" fill="#fff" stroke="#6cc644" stroke-width="1.2"/>
<line x1="302.00" y1="629.27" x2="302.00" y2="632.19" stroke="#6cc644" stroke-width="0.8"/>
<line x1="300.40" y1="629.27" x2="303.60" y2="629.27" stroke="#6cc644" stroke-width="0.8"/>
<circle cx="300.37" cy="630.67" r="1.40" fill="none" stroke="#6cc644" stroke-width="0.9"/>
<circle cx="302.11" cy="629.42" r="1.40" fill="none" stroke="#6cc644" stroke-width="0.9"/>
<circle cx="304.01" cy="631.70" r="1.40" fill="none" stroke="#6cc644" stroke-width="0.9"/>
<rect x="310.95" y="649.23" width="6.10" height="25.07" fill="#fff" stroke="#1e90ff" stroke-width="1.2"/>
<line x1="314.00" y1="647.04" x2="314.00" y2="651.42" stroke="#1e90ff" stroke-width="0.8"/>
<line x1="312.40" y1="647.04" x2="315.60" y2="647.04" stroke="#1e90ff" stroke-width="0.8"/>
<circle cx="312.12" cy="650.18" r="1.40" fill="none" stroke="#1e90ff" stroke-width="0.9"/>
<circle cx="314.14" cy="647.26" r="1.40" fill="none" stroke="#1e90ff" stroke-width="0.9"/>
<circle cx="316.11" cy="649.59" r="1.40" fill="none" stroke="#1e90ff" stroke-width="0.9"/>
<rect x="322.75" y="659.09" width="6.10" height="15.21" fill="#fff" stroke="#ef4056" stroke-width="1.2"/>
<line x1="325.80" y1="656.04" x2="325.80" y2="662.13" stroke="#ef4056" stroke-width="0.8"/>
<line x1="324.20" y1="656.04" x2="327.40" y2="656.04" stroke="#ef4056" stroke-width="0.8"/>
<circle cx="323.74" cy="656.52" r="1.40" fill="none" stroke="#ef4056" stroke-width="0.9"/>
<circle cx="326.09" cy="656.35" r="1.40" fill="none" stroke="#ef4056" stroke-width="0.9"/>
<circle cx="327.88" cy="661.16" r="1.40" fill="none" stroke="#ef4056" stroke-width="0.9"/>
<line x1="268.80" y1="600.73" x2="268.80" y2="674.85" stroke="#111" stroke-width="1.1"/>
<line x1="268.25" y1="674.30" x2="336.95" y2="674.30" stroke="#111" stroke-width="1.1"/>
<line x1="265.40" y1="674.30" x2="268.80" y2="674.30" stroke="#111" stroke-width="1.0"/>
<text x="264.00" y="677.15" font-size="7.9" text-anchor="end" fill="#141414" stroke="#141414">0</text>
<line x1="265.40" y1="649.96" x2="268.80" y2="649.96" stroke="#111" stroke-width="1.0"/>
<text x="264.00" y="652.81" font-size="7.9" text-anchor="end" fill="#141414" stroke="#141414">200</text>
<line x1="265.40" y1="625.62" x2="268.80" y2="625.62" stroke="#111" stroke-width="1.0"/>
<text x="264.00" y="628.47" font-size="7.9" text-anchor="end" fill="#141414" stroke="#141414">400</text>
<line x1="265.40" y1="601.28" x2="268.80" y2="601.28" stroke="#111" stroke-width="1.0"/>
<text x="264.00" y="604.13" font-size="7.9" text-anchor="end" fill="#141414" stroke="#141414">600</text>
<line x1="278.60" y1="674.30" x2="278.60" y2="676.90" stroke="#111" stroke-width="1.0"/>
<text x="280.00" y="681.70" font-size="7.8" text-anchor="end" fill="#141414" stroke="#141414" transform="rotate(-45 280.00 681.70)">Saline</text>
<line x1="290.30" y1="674.30" x2="290.30" y2="676.90" stroke="#111" stroke-width="1.0"/>
<text x="294.50" y="681.70" font-size="7.8" text-anchor="end" fill="#141414" stroke="#141414" transform="rotate(-45 294.50 681.70)">Saline+US</text>
<line x1="302.00" y1="674.30" x2="302.00" y2="676.90" stroke="#111" stroke-width="1.0"/>
<text x="308.60" y="681.70" font-size="7.8" text-anchor="end" fill="#141414" stroke="#141414" transform="rotate(-45 308.60 681.70)">SN+US</text>
<line x1="314.00" y1="674.30" x2="314.00" y2="676.90" stroke="#111" stroke-width="1.0"/>
<text x="322.20" y="681.70" font-size="7.8" text-anchor="end" fill="#141414" stroke="#141414" transform="rotate(-45 322.20 681.70)"><tspan font-size="5.07" dy="-2.81">man</tspan><tspan dy="2.81">SNI+US</tspan></text>
<line x1="325.80" y1="674.30" x2="325.80" y2="676.90" stroke="#111" stroke-width="1.0"/>
<text x="335.40" y="681.70" font-size="7.8" text-anchor="end" fill="#141414" stroke="#141414" transform="rotate(-45 335.40 681.70)"><tspan font-size="5.07" dy="-2.81">man</tspan><tspan dy="2.81">SN+US</tspan></text>
<text x="290.75" y="597.60" font-size="5.6" text-anchor="middle" fill="#1c1c1c" stroke="#1c1c1c">P=0.0164</text>
<path d="M290.4 606.8V600.4H302.5V607.6" fill="none" stroke="#222" stroke-width="0.8"/>
<text x="310.40" y="616.50" font-size="5.6" text-anchor="middle" fill="#1c1c1c" stroke="#1c1c1c">P=0.00013</text>
<path d="M302.5 627.3V618.9H314.4V627.3" fill="none" stroke="#222" stroke-width="0.8"/>
<text x="321.05" y="635.00" font-size="5.6" text-anchor="middle" fill="#1c1c1c" stroke="#1c1c1c">P=0.0143</text>
<path d="M313.9 645.4V637.5H326.0V647.9" fill="none" stroke="#222" stroke-width="0.8"/>
<text x="246.60" y="642.20" font-size="8.6" text-anchor="middle" fill="#141414" stroke="#141414" textLength="74" lengthAdjust="spacingAndGlyphs" transform="rotate(-90 246.60 642.20)">IL-4 in lung (pg/mL)</text>
<rect x="391.45" y="626.48" width="6.10" height="47.82" fill="#fff" stroke="#3a3a3a" stroke-width="1.2"/>
<line x1="394.50" y1="623.56" x2="394.50" y2="629.40" stroke="#3a3a3a" stroke-width="0.8"/>
<line x1="392.90" y1="623.56" x2="396.10" y2="623.56" stroke="#3a3a3a" stroke-width="0.8"/>
<circle cx="392.39" cy="624.40" r="1.40" fill="none" stroke="#3a3a3a" stroke-width="0.9"/>
<circle cx="394.42" cy="623.86" r="1.40" fill="none" stroke="#3a3a3a" stroke-width="0.9"/>
<circle cx="396.05" cy="625.97" r="1.40" fill="none" stroke="#3a3a3a" stroke-width="0.9"/>
<rect x="403.15" y="625.75" width="6.10" height="48.54" fill="#fff" stroke="#ff9a1f" stroke-width="1.2"/>
<line x1="406.20" y1="622.84" x2="406.20" y2="628.67" stroke="#ff9a1f" stroke-width="0.8"/>
<line x1="404.60" y1="622.84" x2="407.80" y2="622.84" stroke="#ff9a1f" stroke-width="0.8"/>
<circle cx="404.63" cy="627.33" r="1.40" fill="none" stroke="#ff9a1f" stroke-width="0.9"/>
<circle cx="406.41" cy="623.13" r="1.40" fill="none" stroke="#ff9a1f" stroke-width="0.9"/>
<circle cx="408.13" cy="624.58" r="1.40" fill="none" stroke="#ff9a1f" stroke-width="0.9"/>
<rect x="415.05" y="636.89" width="6.10" height="37.41" fill="#fff" stroke="#6cc644" stroke-width="1.2"/>
<line x1="418.10" y1="632.51" x2="418.10" y2="641.27" stroke="#6cc644" stroke-width="0.8"/>
<line x1="416.50" y1="632.51" x2="419.70" y2="632.51" stroke="#6cc644" stroke-width="0.8"/>
<circle cx="415.94" cy="633.78" r="1.40" fill="none" stroke="#6cc644" stroke-width="0.9"/>
<circle cx="417.87" cy="632.95" r="1.40" fill="none" stroke="#6cc644" stroke-width="0.9"/>
<circle cx="420.26" cy="639.31" r="1.40" fill="none" stroke="#6cc644" stroke-width="0.9"/>
<rect x="426.85" y="646.56" width="6.10" height="27.74" fill="#fff" stroke="#1e90ff" stroke-width="1.2"/>
<line x1="429.90" y1="644.37" x2="429.90" y2="648.75" stroke="#1e90ff" stroke-width="0.8"/>
<line x1="428.30" y1="644.37" x2="431.50" y2="644.37" stroke="#1e90ff" stroke-width="0.8"/>
<circle cx="428.24" cy="645.35" r="1.40" fill="none" stroke="#1e90ff" stroke-width="0.9"/>
<circle cx="429.75" cy="644.59" r="1.40" fill="none" stroke="#1e90ff" stroke-width="0.9"/>
<circle cx="431.99" cy="647.96" r="1.40" fill="none" stroke="#1e90ff" stroke-width="0.9"/>
<rect x="438.75" y="662.07" width="6.10" height="12.23" fill="#fff" stroke="#ef4056" stroke-width="1.2"/>
<line x1="441.80" y1="660.61" x2="441.80" y2="663.53" stroke="#ef4056" stroke-width="0.8"/>
<line x1="440.20" y1="660.61" x2="443.40" y2="660.61" stroke="#ef4056" stroke-width="0.8"/>
<circle cx="440.20" cy="660.99" r="1.40" fill="none" stroke="#ef4056" stroke-width="0.9"/>
<circle cx="441.88" cy="660.76" r="1.40" fill="none" stroke="#ef4056" stroke-width="0.9"/>
<circle cx="443.70" cy="661.23" r="1.40" fill="none" stroke="#ef4056" stroke-width="0.9"/>
<line x1="384.60" y1="600.75" x2="384.60" y2="674.85" stroke="#111" stroke-width="1.1"/>
<line x1="384.05" y1="674.30" x2="452.95" y2="674.30" stroke="#111" stroke-width="1.1"/>
<line x1="381.20" y1="674.30" x2="384.60" y2="674.30" stroke="#111" stroke-width="1.0"/>
<text x="379.50" y="677.15" font-size="7.9" text-anchor="end" fill="#141414" stroke="#141414">50</text>
<line x1="381.20" y1="656.05" x2="384.60" y2="656.05" stroke="#111" stroke-width="1.0"/>
<text x="379.50" y="658.90" font-size="7.9" text-anchor="end" fill="#141414" stroke="#141414">100</text>
<line x1="381.20" y1="637.80" x2="384.60" y2="637.80" stroke="#111" stroke-width="1.0"/>
<text x="379.50" y="640.65" font-size="7.9" text-anchor="end" fill="#141414" stroke="#141414">150</text>
<line x1="381.20" y1="619.55" x2="384.60" y2="619.55" stroke="#111" stroke-width="1.0"/>
<text x="379.50" y="622.40" font-size="7.9" text-anchor="end" fill="#141414" stroke="#141414">200</text>
<line x1="381.20" y1="601.30" x2="384.60" y2="601.30" stroke="#111" stroke-width="1.0"/>
<text x="379.50" y="604.15" font-size="7.9" text-anchor="end" fill="#141414" stroke="#141414">250</text>
<line x1="394.50" y1="674.30" x2="394.50" y2="676.90" stroke="#111" stroke-width="1.0"/>
<text x="393.70" y="682.10" font-size="7.8" text-anchor="end" fill="#141414" stroke="#141414" transform="rotate(-45 393.70 682.10)">Saline</text>
<line x1="406.20" y1="674.30" x2="406.20" y2="676.90" stroke="#111" stroke-width="1.0"/>
<text x="410.00" y="682.10" font-size="7.8" text-anchor="end" fill="#141414" stroke="#141414" transform="rotate(-45 410.00 682.10)">Saline+US</text>
<line x1="418.10" y1="674.30" x2="418.10" y2="676.90" stroke="#111" stroke-width="1.0"/>
<text x="421.00" y="682.10" font-size="7.8" text-anchor="end" fill="#141414" stroke="#141414" transform="rotate(-45 421.00 682.10)">SN+US</text>
<line x1="429.90" y1="674.30" x2="429.90" y2="676.90" stroke="#111" stroke-width="1.0"/>
<text x="437.30" y="682.10" font-size="7.8" text-anchor="end" fill="#141414" stroke="#141414" transform="rotate(-45 437.30 682.10)"><tspan font-size="5.07" dy="-2.81">man</tspan><tspan dy="2.81">SNI+US</tspan></text>
<line x1="441.80" y1="674.30" x2="441.80" y2="676.90" stroke="#111" stroke-width="1.0"/>
<text x="450.30" y="682.10" font-size="7.8" text-anchor="end" fill="#141414" stroke="#141414" transform="rotate(-45 450.30 682.10)"><tspan font-size="5.07" dy="-2.81">man</tspan><tspan dy="2.81">SN+US</tspan></text>
<text x="404.40" y="600.90" font-size="5.6" text-anchor="middle" fill="#1c1c1c" stroke="#1c1c1c">P=0.0117</text>
<path d="M405.5 616.0V603.9H417.7V611.0" fill="none" stroke="#222" stroke-width="0.8"/>
<text x="422.00" y="617.70" font-size="5.6" text-anchor="middle" fill="#1c1c1c" stroke="#1c1c1c">P=0.0113</text>
<path d="M417.6 627.3V620.6H429.5V627.3" fill="none" stroke="#222" stroke-width="0.8"/>
<text x="436.70" y="634.50" font-size="5.6" text-anchor="middle" fill="#1c1c1c" stroke="#1c1c1c">P=0.00029</text>
<path d="M429.0 642.0V636.5H441.2V654.6" fill="none" stroke="#222" stroke-width="0.8"/>
<text x="362.90" y="644.00" font-size="8.6" text-anchor="middle" fill="#141414" stroke="#141414" textLength="81" lengthAdjust="spacingAndGlyphs" transform="rotate(-90 362.90 644.00)">IL-10 in lung (pg/mL)</text>
<rect x="507.25" y="663.81" width="6.10" height="10.49" fill="#fff" stroke="#3a3a3a" stroke-width="1.2"/>
<line x1="510.30" y1="660.89" x2="510.30" y2="666.73" stroke="#3a3a3a" stroke-width="0.8"/>
<line x1="508.70" y1="660.89" x2="511.90" y2="660.89" stroke="#3a3a3a" stroke-width="0.8"/>
<circle cx="508.50" cy="665.08" r="1.40" fill="none" stroke="#3a3a3a" stroke-width="0.9"/>
<circle cx="510.54" cy="661.18" r="1.40" fill="none" stroke="#3a3a3a" stroke-width="0.9"/>
<circle cx="512.39" cy="666.03" r="1.40" fill="none" stroke="#3a3a3a" stroke-width="0.9"/>
<rect x="519.05" y="665.17" width="6.10" height="9.12" fill="#fff" stroke="#ff9a1f" stroke-width="1.2"/>
<line x1="522.10" y1="660.61" x2="522.10" y2="669.74" stroke="#ff9a1f" stroke-width="0.8"/>
<line x1="520.50" y1="660.61" x2="523.70" y2="660.61" stroke="#ff9a1f" stroke-width="0.8"/>
<circle cx="519.82" cy="664.89" r="1.40" fill="none" stroke="#ff9a1f" stroke-width="0.9"/>
<circle cx="522.45" cy="661.07" r="1.40" fill="none" stroke="#ff9a1f" stroke-width="0.9"/>
<circle cx="524.32" cy="662.00" r="1.40" fill="none" stroke="#ff9a1f" stroke-width="0.9"/>
<rect x="530.95" y="644.55" width="6.10" height="29.75" fill="#fff" stroke="#6cc644" stroke-width="1.2"/>
<line x1="534.00" y1="642.36" x2="534.00" y2="646.74" stroke="#6cc644" stroke-width="0.8"/>
<line x1="532.40" y1="642.36" x2="535.60" y2="642.36" stroke="#6cc644" stroke-width="0.8"/>
<circle cx="532.08" cy="643.55" r="1.40" fill="none" stroke="#6cc644" stroke-width="0.9"/>
<circle cx="534.04" cy="642.58" r="1.40" fill="none" stroke="#6cc644" stroke-width="0.9"/>
<circle cx="535.51" cy="643.44" r="1.40" fill="none" stroke="#6cc644" stroke-width="0.9"/>
<rect x="542.95" y="639.99" width="6.10" height="34.31" fill="#fff" stroke="#1e90ff" stroke-width="1.2"/>
<line x1="546.00" y1="638.53" x2="546.00" y2="641.45" stroke="#1e90ff" stroke-width="0.8"/>
<line x1="544.40" y1="638.53" x2="547.60" y2="638.53" stroke="#1e90ff" stroke-width="0.8"/>
<circle cx="543.92" cy="641.08" r="1.40" fill="none" stroke="#1e90ff" stroke-width="0.9"/>
<circle cx="546.21" cy="638.68" r="1.40" fill="none" stroke="#1e90ff" stroke-width="0.9"/>
<circle cx="548.14" cy="639.04" r="1.40" fill="none" stroke="#1e90ff" stroke-width="0.9"/>
<rect x="554.85" y="625.94" width="6.10" height="48.36" fill="#fff" stroke="#ef4056" stroke-width="1.2"/>
<line x1="557.90" y1="622.29" x2="557.90" y2="629.59" stroke="#ef4056" stroke-width="0.8"/>
<line x1="556.30" y1="622.29" x2="559.50" y2="622.29" stroke="#ef4056" stroke-width="0.8"/>
<circle cx="556.09" cy="623.48" r="1.40" fill="none" stroke="#ef4056" stroke-width="0.9"/>
<circle cx="557.50" cy="622.65" r="1.40" fill="none" stroke="#ef4056" stroke-width="0.9"/>
<circle cx="559.57" cy="624.07" r="1.40" fill="none" stroke="#ef4056" stroke-width="0.9"/>
<line x1="500.20" y1="600.75" x2="500.20" y2="674.85" stroke="#111" stroke-width="1.1"/>
<line x1="499.65" y1="674.30" x2="569.05" y2="674.30" stroke="#111" stroke-width="1.1"/>
<line x1="496.80" y1="674.30" x2="500.20" y2="674.30" stroke="#111" stroke-width="1.0"/>
<text x="495.20" y="677.15" font-size="7.9" text-anchor="end" fill="#141414" stroke="#141414">200</text>
<line x1="496.80" y1="656.05" x2="500.20" y2="656.05" stroke="#111" stroke-width="1.0"/>
<text x="495.20" y="658.90" font-size="7.9" text-anchor="end" fill="#141414" stroke="#141414">300</text>
<line x1="496.80" y1="637.80" x2="500.20" y2="637.80" stroke="#111" stroke-width="1.0"/>
<text x="495.20" y="640.65" font-size="7.9" text-anchor="end" fill="#141414" stroke="#141414">400</text>
<line x1="496.80" y1="619.55" x2="500.20" y2="619.55" stroke="#111" stroke-width="1.0"/>
<text x="495.20" y="622.40" font-size="7.9" text-anchor="end" fill="#141414" stroke="#141414">500</text>
<line x1="496.80" y1="601.30" x2="500.20" y2="601.30" stroke="#111" stroke-width="1.0"/>
<text x="495.20" y="604.15" font-size="7.9" text-anchor="end" fill="#141414" stroke="#141414">600</text>
<line x1="510.30" y1="674.30" x2="510.30" y2="676.90" stroke="#111" stroke-width="1.0"/>
<text x="510.70" y="682.10" font-size="7.8" text-anchor="end" fill="#141414" stroke="#141414" transform="rotate(-45 510.70 682.10)">Saline</text>
<line x1="522.10" y1="674.30" x2="522.10" y2="676.90" stroke="#111" stroke-width="1.0"/>
<text x="526.20" y="682.10" font-size="7.8" text-anchor="end" fill="#141414" stroke="#141414" transform="rotate(-45 526.20 682.10)">Saline+US</text>
<line x1="534.00" y1="674.30" x2="534.00" y2="676.90" stroke="#111" stroke-width="1.0"/>
<text x="539.80" y="682.10" font-size="7.8" text-anchor="end" fill="#141414" stroke="#141414" transform="rotate(-45 539.80 682.10)">SN+US</text>
<line x1="546.00" y1="674.30" x2="546.00" y2="676.90" stroke="#111" stroke-width="1.0"/>
<text x="552.60" y="682.10" font-size="7.8" text-anchor="end" fill="#141414" stroke="#141414" transform="rotate(-45 552.60 682.10)"><tspan font-size="5.07" dy="-2.81">man</tspan><tspan dy="2.81">SNI+US</tspan></text>
<line x1="557.90" y1="674.30" x2="557.90" y2="676.90" stroke="#111" stroke-width="1.0"/>
<text x="567.60" y="682.10" font-size="7.8" text-anchor="end" fill="#141414" stroke="#141414" transform="rotate(-45 567.60 682.10)"><tspan font-size="5.07" dy="-2.81">man</tspan><tspan dy="2.81">SN+US</tspan></text>
<text x="520.30" y="631.10" font-size="5.6" text-anchor="middle" fill="#1c1c1c" stroke="#1c1c1c">P=0.0024</text>
<path d="M520.5 654.6V634.0H532.7V639.5" fill="none" stroke="#222" stroke-width="0.8"/>
<text x="531.35" y="614.30" font-size="5.6" text-anchor="middle" fill="#1c1c1c" stroke="#1c1c1c">P=0.0164</text>
<path d="M532.6 625.3V616.5H544.5V630.3" fill="none" stroke="#222" stroke-width="0.8"/>
<text x="544.40" y="596.40" font-size="5.6" text-anchor="middle" fill="#1c1c1c" stroke="#1c1c1c">P=0.0027</text>
<path d="M544.5 608.1V598.4H556.6V612.7" fill="none" stroke="#222" stroke-width="0.8"/>
<text x="479.40" y="645.00" font-size="8.6" text-anchor="middle" fill="#141414" stroke="#141414" textLength="84.5" lengthAdjust="spacingAndGlyphs" transform="rotate(-90 479.40 645.00)">IgG in serum (ng/mL)</text>
<rect x="620.55" y="655.00" width="6.10" height="19.30" fill="#fff" stroke="#3a3a3a" stroke-width="1.2"/>
<line x1="623.60" y1="652.57" x2="623.60" y2="657.43" stroke="#3a3a3a" stroke-width="0.8"/>
<line x1="622.00" y1="652.57" x2="625.20" y2="652.57" stroke="#3a3a3a" stroke-width="0.8"/>
<circle cx="621.93" cy="656.41" r="1.40" fill="none" stroke="#3a3a3a" stroke-width="0.9"/>
<circle cx="623.59" cy="652.81" r="1.40" fill="none" stroke="#3a3a3a" stroke-width="0.9"/>
<circle cx="625.10" cy="655.71" r="1.40" fill="none" stroke="#3a3a3a" stroke-width="0.9"/>
<rect x="632.25" y="655.00" width="6.10" height="19.30" fill="#fff" stroke="#ff9a1f" stroke-width="1.2"/>
<line x1="635.30" y1="653.78" x2="635.30" y2="656.21" stroke="#ff9a1f" stroke-width="0.8"/>
<line x1="633.70" y1="653.78" x2="636.90" y2="653.78" stroke="#ff9a1f" stroke-width="0.8"/>
<circle cx="633.38" cy="655.57" r="1.40" fill="none" stroke="#ff9a1f" stroke-width="0.9"/>
<circle cx="635.20" cy="653.90" r="1.40" fill="none" stroke="#ff9a1f" stroke-width="0.9"/>
<circle cx="637.02" cy="655.66" r="1.40" fill="none" stroke="#ff9a1f" stroke-width="0.9"/>
<rect x="643.95" y="635.53" width="6.10" height="38.77" fill="#fff" stroke="#6cc644" stroke-width="1.2"/>
<line x1="647.00" y1="634.07" x2="647.00" y2="636.99" stroke="#6cc644" stroke-width="0.8"/>
<line x1="645.40" y1="634.07" x2="648.60" y2="634.07" stroke="#6cc644" stroke-width="0.8"/>
<circle cx="645.28" cy="635.31" r="1.40" fill="none" stroke="#6cc644" stroke-width="0.9"/>
<circle cx="647.03" cy="634.22" r="1.40" fill="none" stroke="#6cc644" stroke-width="0.9"/>
<circle cx="648.65" cy="635.68" r="1.40" fill="none" stroke="#6cc644" stroke-width="0.9"/>
<rect x="655.95" y="630.18" width="6.10" height="44.12" fill="#fff" stroke="#1e90ff" stroke-width="1.2"/>
<line x1="659.00" y1="626.94" x2="659.00" y2="633.43" stroke="#1e90ff" stroke-width="0.8"/>
<line x1="657.40" y1="626.94" x2="660.60" y2="626.94" stroke="#1e90ff" stroke-width="0.8"/>
<circle cx="657.34" cy="628.81" r="1.40" fill="none" stroke="#1e90ff" stroke-width="0.9"/>
<circle cx="659.24" cy="627.26" r="1.40" fill="none" stroke="#1e90ff" stroke-width="0.9"/>
<circle cx="661.18" cy="629.22" r="1.40" fill="none" stroke="#1e90ff" stroke-width="0.9"/>
<rect x="667.75" y="619.31" width="6.10" height="54.99" fill="#fff" stroke="#ef4056" stroke-width="1.2"/>
<line x1="670.80" y1="616.48" x2="670.80" y2="622.15" stroke="#ef4056" stroke-width="0.8"/>
<line x1="669.20" y1="616.48" x2="672.40" y2="616.48" stroke="#ef4056" stroke-width="0.8"/>
<circle cx="668.57" cy="620.85" r="1.40" fill="none" stroke="#ef4056" stroke-width="0.9"/>
<circle cx="671.04" cy="616.76" r="1.40" fill="none" stroke="#ef4056" stroke-width="0.9"/>
<circle cx="672.38" cy="617.77" r="1.40" fill="none" stroke="#ef4056" stroke-width="0.9"/>
<line x1="613.80" y1="600.76" x2="613.80" y2="674.85" stroke="#111" stroke-width="1.1"/>
<line x1="613.25" y1="674.30" x2="681.95" y2="674.30" stroke="#111" stroke-width="1.1"/>
<line x1="610.40" y1="674.30" x2="613.80" y2="674.30" stroke="#111" stroke-width="1.0"/>
<text x="608.70" y="677.15" font-size="7.9" text-anchor="end" fill="#141414" stroke="#141414">0</text>
<line x1="610.40" y1="649.97" x2="613.80" y2="649.97" stroke="#111" stroke-width="1.0"/>
<text x="608.70" y="652.82" font-size="7.9" text-anchor="end" fill="#141414" stroke="#141414">300</text>
<line x1="610.40" y1="625.64" x2="613.80" y2="625.64" stroke="#111" stroke-width="1.0"/>
<text x="608.70" y="628.49" font-size="7.9" text-anchor="end" fill="#141414" stroke="#141414">600</text>
<line x1="610.40" y1="601.31" x2="613.80" y2="601.31" stroke="#111" stroke-width="1.0"/>
<text x="608.70" y="604.16" font-size="7.9" text-anchor="end" fill="#141414" stroke="#141414">900</text>
<line x1="623.60" y1="674.30" x2="623.60" y2="676.90" stroke="#111" stroke-width="1.0"/>
<text x="624.60" y="681.60" font-size="7.8" text-anchor="end" fill="#141414" stroke="#141414" transform="rotate(-45 624.60 681.60)">Saline</text>
<line x1="635.30" y1="674.30" x2="635.30" y2="676.90" stroke="#111" stroke-width="1.0"/>
<text x="639.50" y="681.60" font-size="7.8" text-anchor="end" fill="#141414" stroke="#141414" transform="rotate(-45 639.50 681.60)">Saline+US</text>
<line x1="647.00" y1="674.30" x2="647.00" y2="676.90" stroke="#111" stroke-width="1.0"/>
<text x="653.60" y="681.60" font-size="7.8" text-anchor="end" fill="#141414" stroke="#141414" transform="rotate(-45 653.60 681.60)">SN+US</text>
<line x1="659.00" y1="674.30" x2="659.00" y2="676.90" stroke="#111" stroke-width="1.0"/>
<text x="666.40" y="681.60" font-size="7.8" text-anchor="end" fill="#141414" stroke="#141414" transform="rotate(-45 666.40 681.60)"><tspan font-size="5.07" dy="-2.81">man</tspan><tspan dy="2.81">SNI+US</tspan></text>
<line x1="670.80" y1="674.30" x2="670.80" y2="676.90" stroke="#111" stroke-width="1.0"/>
<text x="681.50" y="681.60" font-size="7.8" text-anchor="end" fill="#141414" stroke="#141414" transform="rotate(-45 681.50 681.60)"><tspan font-size="5.07" dy="-2.81">man</tspan><tspan dy="2.81">SN+US</tspan></text>
<text x="631.55" y="625.30" font-size="5.6" text-anchor="middle" fill="#1c1c1c" stroke="#1c1c1c">P=0.000008</text>
<path d="M635.1 647.9V627.8H647.2V631.1" fill="none" stroke="#222" stroke-width="0.8"/>
<text x="646.10" y="611.30" font-size="5.6" text-anchor="middle" fill="#1c1c1c" stroke="#1c1c1c">P=0.0157</text>
<path d="M647.2 618.5V613.5H659.3V618.5" fill="none" stroke="#222" stroke-width="0.8"/>
<text x="658.95" y="598.70" font-size="5.6" text-anchor="middle" fill="#1c1c1c" stroke="#1c1c1c">P=0.0107</text>
<path d="M659.3 605.1V601.4H671.6V611.8" fill="none" stroke="#222" stroke-width="0.8"/>
<text x="592.90" y="644.30" font-size="8.6" text-anchor="middle" fill="#141414" stroke="#141414" textLength="83.5" lengthAdjust="spacingAndGlyphs" transform="rotate(-90 592.90 644.30)">IgM in serum (ng/mL)</text>
<rect x="620.30" y="441.37" width="5.80" height="15.93" fill="#fff" stroke="#3a3a3a" stroke-width="1.2"/>
<line x1="623.20" y1="440.03" x2="623.20" y2="442.72" stroke="#3a3a3a" stroke-width="0.8"/>
<line x1="621.60" y1="440.03" x2="624.80" y2="440.03" stroke="#3a3a3a" stroke-width="0.8"/>
<circle cx="621.16" cy="440.53" r="1.40" fill="none" stroke="#3a3a3a" stroke-width="0.9"/>
<circle cx="623.32" cy="440.16" r="1.40" fill="none" stroke="#3a3a3a" stroke-width="0.9"/>
<circle cx="625.13" cy="441.05" r="1.40" fill="none" stroke="#3a3a3a" stroke-width="0.9"/>
<rect x="631.70" y="442.18" width="5.80" height="15.12" fill="#fff" stroke="#ff9a1f" stroke-width="1.2"/>
<line x1="634.60" y1="440.84" x2="634.60" y2="443.52" stroke="#ff9a1f" stroke-width="0.8"/>
<line x1="633.00" y1="440.84" x2="636.20" y2="440.84" stroke="#ff9a1f" stroke-width="0.8"/>
<circle cx="632.35" cy="442.20" r="1.40" fill="none" stroke="#ff9a1f" stroke-width="0.9"/>
<circle cx="634.23" cy="440.97" r="1.40" fill="none" stroke="#ff9a1f" stroke-width="0.9"/>
<circle cx="636.16" cy="441.19" r="1.40" fill="none" stroke="#ff9a1f" stroke-width="0.9"/>
<rect x="643.40" y="434.12" width="5.80" height="23.18" fill="#fff" stroke="#6cc644" stroke-width="1.2"/>
<line x1="646.30" y1="433.11" x2="646.30" y2="435.12" stroke="#6cc644" stroke-width="0.8"/>
<line x1="644.70" y1="433.11" x2="647.90" y2="433.11" stroke="#6cc644" stroke-width="0.8"/>
<circle cx="644.34" cy="434.71" r="1.40" fill="none" stroke="#6cc644" stroke-width="0.9"/>
<circle cx="646.00" cy="433.21" r="1.40" fill="none" stroke="#6cc644" stroke-width="0.9"/>
<circle cx="648.30" cy="434.93" r="1.40" fill="none" stroke="#6cc644" stroke-width="0.9"/>
<rect x="655.30" y="429.08" width="5.80" height="28.22" fill="#fff" stroke="#1e90ff" stroke-width="1.2"/>
<line x1="658.20" y1="428.27" x2="658.20" y2="429.88" stroke="#1e90ff" stroke-width="0.8"/>
<line x1="656.60" y1="428.27" x2="659.80" y2="428.27" stroke="#1e90ff" stroke-width="0.8"/>
<circle cx="656.36" cy="428.93" r="1.40" fill="none" stroke="#1e90ff" stroke-width="0.9"/>
<circle cx="658.58" cy="428.35" r="1.40" fill="none" stroke="#1e90ff" stroke-width="0.9"/>
<circle cx="660.39" cy="428.77" r="1.40" fill="none" stroke="#1e90ff" stroke-width="0.9"/>
<rect x="667.20" y="420.68" width="5.80" height="36.62" fill="#fff" stroke="#ef4056" stroke-width="1.2"/>
<line x1="670.10" y1="419.47" x2="670.10" y2="421.89" stroke="#ef4056" stroke-width="0.8"/>
<line x1="668.50" y1="419.47" x2="671.70" y2="419.47" stroke="#ef4056" stroke-width="0.8"/>
<circle cx="667.92" cy="419.84" r="1.40" fill="none" stroke="#ef4056" stroke-width="0.9"/>
<circle cx="669.95" cy="419.59" r="1.40" fill="none" stroke="#ef4056" stroke-width="0.9"/>
<circle cx="671.74" cy="420.85" r="1.40" fill="none" stroke="#ef4056" stroke-width="0.9"/>
<line x1="613.00" y1="402.99" x2="613.00" y2="457.85" stroke="#111" stroke-width="1.1"/>
<line x1="612.45" y1="457.30" x2="681.10" y2="457.30" stroke="#111" stroke-width="1.1"/>
<line x1="609.60" y1="457.30" x2="613.00" y2="457.30" stroke="#111" stroke-width="1.0"/>
<text x="608.60" y="460.15" font-size="7.9" text-anchor="end" fill="#141414" stroke="#141414">0</text>
<line x1="609.60" y1="443.86" x2="613.00" y2="443.86" stroke="#111" stroke-width="1.0"/>
<text x="608.60" y="446.71" font-size="7.9" text-anchor="end" fill="#141414" stroke="#141414">20</text>
<line x1="609.60" y1="430.42" x2="613.00" y2="430.42" stroke="#111" stroke-width="1.0"/>
<text x="608.60" y="433.27" font-size="7.9" text-anchor="end" fill="#141414" stroke="#141414">40</text>
<line x1="609.60" y1="416.98" x2="613.00" y2="416.98" stroke="#111" stroke-width="1.0"/>
<text x="608.60" y="419.83" font-size="7.9" text-anchor="end" fill="#141414" stroke="#141414">60</text>
<line x1="609.60" y1="403.54" x2="613.00" y2="403.54" stroke="#111" stroke-width="1.0"/>
<text x="608.60" y="406.39" font-size="7.9" text-anchor="end" fill="#141414" stroke="#141414">80</text>
<line x1="623.20" y1="457.30" x2="623.20" y2="459.90" stroke="#111" stroke-width="1.0"/>
<text x="624.20" y="465.10" font-size="7.4" text-anchor="end" fill="#141414" stroke="#141414" transform="rotate(-45 624.20 465.10)">Saline</text>
<line x1="634.60" y1="457.30" x2="634.60" y2="459.90" stroke="#111" stroke-width="1.0"/>
<text x="635.70" y="465.10" font-size="7.4" text-anchor="end" fill="#141414" stroke="#141414" transform="rotate(-45 635.70 465.10)">Saline+US</text>
<line x1="646.30" y1="457.30" x2="646.30" y2="459.90" stroke="#111" stroke-width="1.0"/>
<text x="648.50" y="465.10" font-size="7.4" text-anchor="end" fill="#141414" stroke="#141414" transform="rotate(-45 648.50 465.10)">SN+US</text>
<line x1="658.20" y1="457.30" x2="658.20" y2="459.90" stroke="#111" stroke-width="1.0"/>
<text x="661.60" y="465.10" font-size="7.4" text-anchor="end" fill="#141414" stroke="#141414" transform="rotate(-45 661.60 465.10)"><tspan font-size="4.81" dy="-2.66">man</tspan><tspan dy="2.66">SNI+US</tspan></text>
<line x1="670.10" y1="457.30" x2="670.10" y2="459.90" stroke="#111" stroke-width="1.0"/>
<text x="676.00" y="465.10" font-size="7.4" text-anchor="end" fill="#141414" stroke="#141414" transform="rotate(-45 676.00 465.10)"><tspan font-size="4.81" dy="-2.66">man</tspan><tspan dy="2.66">SN+US</tspan></text>
<text x="631.70" y="422.60" font-size="5.6" text-anchor="middle" fill="#1c1c1c" stroke="#1c1c1c">P=0.0005</text>
<path d="M634.8 433.8V425.0H646.6V429.4" fill="none" stroke="#222" stroke-width="0.8"/>
<text x="641.90" y="410.10" font-size="5.6" text-anchor="middle" fill="#1c1c1c" stroke="#1c1c1c">P=0.00018</text>
<path d="M646.6 422.6V413.8H658.5V420.2" fill="none" stroke="#222" stroke-width="0.8"/>
<text x="660.25" y="399.60" font-size="5.6" text-anchor="middle" fill="#1c1c1c" stroke="#1c1c1c">P&lt;0.000045</text>
<path d="M658.5 411.8V402.5H670.3V411.8" fill="none" stroke="#222" stroke-width="0.8"/>
<text x="585.00" y="433.60" font-size="9.0" text-anchor="middle" fill="#141414" stroke="#141414" textLength="77" lengthAdjust="spacingAndGlyphs" transform="rotate(-90 585.00 433.60)">%CD80<tspan font-size="5.3" dy="-3">+</tspan><tspan dy="3">CD86</tspan><tspan font-size="5.3" dy="-3">+</tspan><tspan dy="3"> cells</tspan></text>
<text x="595.90" y="434.50" font-size="9.0" text-anchor="middle" fill="#141414" stroke="#141414" textLength="19.3" lengthAdjust="spacingAndGlyphs" transform="rotate(-90 595.90 434.50)">in LN</text>
<rect x="616.90" y="547.60" width="2.20" height="6.30" fill="#fff" stroke="#1e90ff" stroke-width="1.1"/>
<circle cx="617.96" cy="546.87" r="1.15" fill="none" stroke="#1e90ff" stroke-width="1.15"/>
<circle cx="617.64" cy="548.45" r="1.15" fill="none" stroke="#1e90ff" stroke-width="1.15"/>
<circle cx="617.51" cy="547.29" r="1.15" fill="none" stroke="#1e90ff" stroke-width="1.15"/>
<rect x="622.40" y="541.08" width="2.20" height="12.82" fill="#fff" stroke="#ef4056" stroke-width="1.1"/>
<circle cx="623.90" cy="539.42" r="1.15" fill="none" stroke="#ef4056" stroke-width="1.15"/>
<circle cx="623.55" cy="541.14" r="1.15" fill="none" stroke="#ef4056" stroke-width="1.15"/>
<circle cx="623.04" cy="540.38" r="1.15" fill="none" stroke="#ef4056" stroke-width="1.15"/>
<rect x="629.80" y="548.19" width="2.20" height="5.71" fill="#fff" stroke="#1e90ff" stroke-width="1.1"/>
<circle cx="631.10" cy="547.71" r="1.15" fill="none" stroke="#1e90ff" stroke-width="1.15"/>
<circle cx="631.13" cy="546.77" r="1.15" fill="none" stroke="#1e90ff" stroke-width="1.15"/>
<circle cx="630.64" cy="546.62" r="1.15" fill="none" stroke="#1e90ff" stroke-width="1.15"/>
<rect x="635.30" y="540.55" width="2.20" height="13.35" fill="#fff" stroke="#ef4056" stroke-width="1.1"/>
<circle cx="636.41" cy="541.59" r="1.15" fill="none" stroke="#ef4056" stroke-width="1.15"/>
<circle cx="636.49" cy="541.11" r="1.15" fill="none" stroke="#ef4056" stroke-width="1.15"/>
<circle cx="636.28" cy="541.02" r="1.15" fill="none" stroke="#ef4056" stroke-width="1.15"/>
<rect x="642.80" y="543.54" width="2.20" height="10.36" fill="#fff" stroke="#1e90ff" stroke-width="1.1"/>
<circle cx="643.50" cy="542.55" r="1.15" fill="none" stroke="#1e90ff" stroke-width="1.15"/>
<circle cx="644.07" cy="543.94" r="1.15" fill="none" stroke="#1e90ff" stroke-width="1.15"/>
<circle cx="643.82" cy="541.90" r="1.15" fill="none" stroke="#1e90ff" stroke-width="1.15"/>
<rect x="648.30" y="535.21" width="2.20" height="18.69" fill="#fff" stroke="#ef4056" stroke-width="1.1"/>
<circle cx="649.17" cy="533.96" r="1.15" fill="none" stroke="#ef4056" stroke-width="1.15"/>
<circle cx="649.18" cy="535.88" r="1.15" fill="none" stroke="#ef4056" stroke-width="1.15"/>
<circle cx="649.10" cy="536.13" r="1.15" fill="none" stroke="#ef4056" stroke-width="1.15"/>
<rect x="655.70" y="533.61" width="2.20" height="20.29" fill="#fff" stroke="#1e90ff" stroke-width="1.1"/>
<circle cx="657.18" cy="531.86" r="1.15" fill="none" stroke="#1e90ff" stroke-width="1.15"/>
<circle cx="656.68" cy="533.26" r="1.15" fill="none" stroke="#1e90ff" stroke-width="1.15"/>
<circle cx="656.32" cy="533.05" r="1.15" fill="none" stroke="#1e90ff" stroke-width="1.15"/>
<rect x="661.20" y="528.80" width="2.20" height="25.10" fill="#fff" stroke="#ef4056" stroke-width="1.1"/>
<circle cx="662.71" cy="527.24" r="1.15" fill="none" stroke="#ef4056" stroke-width="1.15"/>
<circle cx="662.40" cy="527.27" r="1.15" fill="none" stroke="#ef4056" stroke-width="1.15"/>
<circle cx="662.38" cy="529.75" r="1.15" fill="none" stroke="#ef4056" stroke-width="1.15"/>
<rect x="668.70" y="525.60" width="2.20" height="28.30" fill="#fff" stroke="#1e90ff" stroke-width="1.1"/>
<circle cx="669.50" cy="523.70" r="1.15" fill="none" stroke="#1e90ff" stroke-width="1.15"/>
<circle cx="669.38" cy="525.41" r="1.15" fill="none" stroke="#1e90ff" stroke-width="1.15"/>
<circle cx="669.32" cy="523.95" r="1.15" fill="none" stroke="#1e90ff" stroke-width="1.15"/>
<rect x="674.20" y="521.86" width="2.20" height="32.04" fill="#fff" stroke="#ef4056" stroke-width="1.1"/>
<circle cx="675.30" cy="522.89" r="1.15" fill="none" stroke="#ef4056" stroke-width="1.15"/>
<circle cx="675.22" cy="521.21" r="1.15" fill="none" stroke="#ef4056" stroke-width="1.15"/>
<circle cx="675.44" cy="520.24" r="1.15" fill="none" stroke="#ef4056" stroke-width="1.15"/>
<line x1="613.30" y1="499.95" x2="613.30" y2="554.45" stroke="#111" stroke-width="1.1"/>
<line x1="612.75" y1="553.90" x2="681.00" y2="553.90" stroke="#111" stroke-width="1.1"/>
<line x1="609.90" y1="553.90" x2="613.30" y2="553.90" stroke="#111" stroke-width="1.0"/>
<text x="607.70" y="556.75" font-size="7.9" text-anchor="end" fill="#141414" stroke="#141414">0</text>
<line x1="609.90" y1="543.22" x2="613.30" y2="543.22" stroke="#111" stroke-width="1.0"/>
<text x="607.70" y="546.07" font-size="7.9" text-anchor="end" fill="#141414" stroke="#141414">2</text>
<line x1="609.90" y1="532.54" x2="613.30" y2="532.54" stroke="#111" stroke-width="1.0"/>
<text x="607.70" y="535.39" font-size="7.9" text-anchor="end" fill="#141414" stroke="#141414">4</text>
<line x1="609.90" y1="521.86" x2="613.30" y2="521.86" stroke="#111" stroke-width="1.0"/>
<text x="607.70" y="524.71" font-size="7.9" text-anchor="end" fill="#141414" stroke="#141414">6</text>
<line x1="609.90" y1="511.18" x2="613.30" y2="511.18" stroke="#111" stroke-width="1.0"/>
<text x="607.70" y="514.03" font-size="7.9" text-anchor="end" fill="#141414" stroke="#141414">8</text>
<line x1="609.90" y1="500.50" x2="613.30" y2="500.50" stroke="#111" stroke-width="1.0"/>
<text x="607.70" y="503.35" font-size="7.9" text-anchor="end" fill="#141414" stroke="#141414">10</text>
<line x1="620.70" y1="553.90" x2="620.70" y2="556.50" stroke="#111" stroke-width="1.0"/>
<text x="623.60" y="561.70" font-size="7.4" text-anchor="end" fill="#141414" stroke="#141414" transform="rotate(-45 623.60 561.70)">Saline</text>
<line x1="633.60" y1="553.90" x2="633.60" y2="556.50" stroke="#111" stroke-width="1.0"/>
<text x="635.30" y="561.70" font-size="7.4" text-anchor="end" fill="#141414" stroke="#141414" transform="rotate(-45 635.30 561.70)">Saline+US</text>
<line x1="646.60" y1="553.90" x2="646.60" y2="556.50" stroke="#111" stroke-width="1.0"/>
<text x="648.20" y="561.70" font-size="7.4" text-anchor="end" fill="#141414" stroke="#141414" transform="rotate(-45 648.20 561.70)">SN+US</text>
<line x1="659.50" y1="553.90" x2="659.50" y2="556.50" stroke="#111" stroke-width="1.0"/>
<text x="662.30" y="561.70" font-size="7.4" text-anchor="end" fill="#141414" stroke="#141414" transform="rotate(-45 662.30 561.70)"><tspan font-size="4.81" dy="-2.66">man</tspan><tspan dy="2.66">SNI+US</tspan></text>
<line x1="672.50" y1="553.90" x2="672.50" y2="556.50" stroke="#111" stroke-width="1.0"/>
<text x="675.90" y="561.70" font-size="7.4" text-anchor="end" fill="#141414" stroke="#141414" transform="rotate(-45 675.90 561.70)"><tspan font-size="4.81" dy="-2.66">man</tspan><tspan dy="2.66">SN+US</tspan></text>
<ellipse cx="618.1" cy="497.5" rx="1.6" ry="1.15" fill="none" stroke="#1e90ff" stroke-width="0.9"/>
<text x="622.50" y="500.80" font-size="7.8" fill="#141414" stroke="#141414">CD4<tspan font-size="5.3" dy="-3">+</tspan></text>
<ellipse cx="618.2" cy="507.8" rx="1.4" ry="1.3" fill="none" stroke="#ef4056" stroke-width="0.9"/>
<text x="622.50" y="511.20" font-size="7.8" fill="#141414" stroke="#141414">CD8<tspan font-size="5.3" dy="-3">+</tspan></text>
<text x="658.40" y="497.60" font-size="5.6" text-anchor="middle" fill="#1c1c1c" stroke="#1c1c1c">P=0.0033</text>
<path d="M656.5 506.9V499.8H670.2V504.3" fill="none" stroke="#222" stroke-width="0.8"/>
<text x="663.20" y="512.40" font-size="5.6" text-anchor="middle" fill="#1c1c1c" stroke="#1c1c1c">P=0.0029</text>
<path d="M662.3 525.3V514.4H675.8V517.8" fill="none" stroke="#222" stroke-width="0.8"/>
<text x="640.30" y="519.00" font-size="5.6" text-anchor="middle" fill="#1c1c1c" stroke="#1c1c1c">P=0.0042</text>
<path d="M643.4 528.7V521.5H657.0V524.5" fill="none" stroke="#222" stroke-width="0.8"/>
<text x="585.00" y="536.00" font-size="9.0" text-anchor="middle" fill="#141414" stroke="#141414" textLength="90" lengthAdjust="spacingAndGlyphs" transform="rotate(-90 585.00 536.00)">%CD4<tspan font-size="5.3" dy="-3">+</tspan><tspan dy="3"> and CD8</tspan><tspan font-size="5.3" dy="-3">+</tspan><tspan dy="3"> cells</tspan></text>
<text x="595.90" y="534.50" font-size="9.0" text-anchor="middle" fill="#141414" stroke="#141414" textLength="26" lengthAdjust="spacingAndGlyphs" transform="rotate(-90 595.90 534.50)">in lung</text>
</svg>
</body></html>
